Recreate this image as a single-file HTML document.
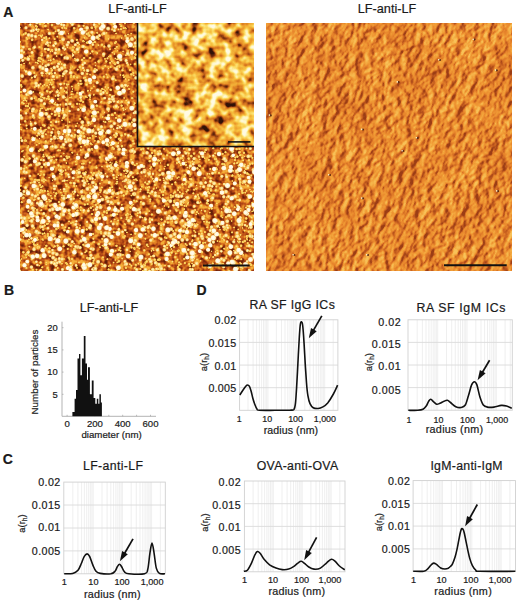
<!DOCTYPE html>
<html><head><meta charset="utf-8"><title>figure</title>
<style>
html,body{margin:0;padding:0;background:#fff;width:520px;height:602px;overflow:hidden}
svg{display:block}
text{font-family:"Liberation Sans",sans-serif;fill:#1a1a1a;stroke:#1a1a1a;stroke-width:0.2px}
</style></head><body>
<svg width="520" height="602" viewBox="0 0 520 602">
<rect width="520" height="602" fill="#fff"/>
<defs>
<filter id="fL" x="0" y="0" width="100%" height="100%" color-interpolation-filters="sRGB">
<feTurbulence type="fractalNoise" baseFrequency="0.2" numOctaves="2" seed="3"/>
<feColorMatrix type="matrix" values="1 0 0 0 0  1 0 0 0 0  1 0 0 0 0  0 0 0 0 1"/>
<feComponentTransfer>
<feFuncR type="table" tableValues="0.392 0.392 0.392 0.392 0.392 0.392 0.392 0.392 0.392 0.392 0.392 0.392 0.412 0.440 0.469 0.497 0.525 0.554 0.588 0.621 0.655 0.689 0.720 0.750 0.780 0.811 0.833 0.853 0.873 0.893 0.908 0.922 0.936 0.950 0.957 0.957 0.957 0.957 0.957 0.957 0.957 0.957 0.957 0.957 0.957 0.957 0.957 0.957"/>
<feFuncG type="table" tableValues="0.118 0.118 0.118 0.118 0.118 0.118 0.118 0.118 0.118 0.118 0.118 0.118 0.127 0.139 0.152 0.165 0.177 0.192 0.213 0.234 0.255 0.276 0.304 0.334 0.365 0.395 0.429 0.463 0.497 0.532 0.566 0.601 0.635 0.670 0.686 0.686 0.686 0.686 0.686 0.686 0.686 0.686 0.686 0.686 0.686 0.686 0.686 0.686"/>
<feFuncB type="table" tableValues="0.039 0.039 0.039 0.039 0.039 0.039 0.039 0.039 0.039 0.039 0.039 0.039 0.042 0.045 0.049 0.052 0.056 0.060 0.066 0.072 0.078 0.085 0.091 0.097 0.103 0.109 0.118 0.128 0.138 0.149 0.166 0.184 0.201 0.219 0.227 0.227 0.227 0.227 0.227 0.227 0.227 0.227 0.227 0.227 0.227 0.227 0.227 0.227"/>
</feComponentTransfer>
</filter>
<filter id="fI" x="0" y="0" width="100%" height="100%" color-interpolation-filters="sRGB">
<feTurbulence type="fractalNoise" baseFrequency="0.12" numOctaves="2" seed="7" result="h"/>
<feColorMatrix in="h" type="matrix" values="1 0 0 0 0  1 0 0 0 0  1 0 0 0 0  0 0 0 0 1" result="hg"/>
<feTurbulence type="fractalNoise" baseFrequency="0.04" numOctaves="1" seed="9" result="l"/>
<feColorMatrix in="l" type="matrix" values="1 0 0 0 0  1 0 0 0 0  1 0 0 0 0  0 0 0 0 1" result="lg"/>
<feComposite in="hg" in2="lg" operator="arithmetic" k1="0" k2="0.85" k3="0.45" k4="-0.15000000000000002"/>
<feComponentTransfer>
<feFuncR type="table" tableValues="0.196 0.196 0.196 0.196 0.196 0.196 0.196 0.196 0.196 0.196 0.214 0.306 0.398 0.491 0.575 0.659 0.743 0.812 0.840 0.869 0.898 0.926 0.937 0.949 0.961 0.970 0.977 0.983 0.988 0.991 0.993 0.996 0.997 0.998 1.000 1.000 1.000 1.000 1.000 1.000 1.000 1.000 1.000 1.000 1.000 1.000 1.000 1.000"/>
<feFuncG type="table" tableValues="0.071 0.071 0.071 0.071 0.071 0.071 0.071 0.071 0.071 0.071 0.078 0.118 0.157 0.196 0.254 0.312 0.370 0.425 0.471 0.517 0.563 0.609 0.649 0.689 0.729 0.768 0.803 0.839 0.873 0.898 0.922 0.947 0.959 0.970 0.981 0.984 0.984 0.984 0.984 0.984 0.984 0.984 0.984 0.984 0.984 0.984 0.984 0.984"/>
<feFuncB type="table" tableValues="0.031 0.031 0.031 0.031 0.031 0.031 0.031 0.031 0.031 0.031 0.033 0.042 0.050 0.059 0.073 0.086 0.100 0.114 0.129 0.143 0.158 0.173 0.194 0.215 0.236 0.266 0.316 0.367 0.421 0.507 0.593 0.679 0.746 0.811 0.876 0.894 0.894 0.894 0.894 0.894 0.894 0.894 0.894 0.894 0.894 0.894 0.894 0.894"/>
</feComponentTransfer>
</filter>
<filter id="fR" x="0" y="0" width="100%" height="100%" color-interpolation-filters="sRGB">
<feTurbulence type="fractalNoise" baseFrequency="0.15 0.12" numOctaves="3" seed="11"/>
<feDiffuseLighting surfaceScale="2.4" diffuseConstant="1" lighting-color="#fff" result="L"><feDistantLight azimuth="165" elevation="50"/></feDiffuseLighting>
<feTurbulence type="fractalNoise" baseFrequency="0.025" numOctaves="2" seed="5" result="N2"/>
<feColorMatrix in="N2" type="matrix" values="1 0 0 0 0  1 0 0 0 0  1 0 0 0 0  0 0 0 0 1" result="G2"/>
<feComposite in="L" in2="G2" operator="arithmetic" k1="0" k2="1" k3="0.25" k4="-0.125"/>
<feComponentTransfer>
<feFuncR type="table" tableValues="0.608 0.608 0.608 0.608 0.608 0.608 0.608 0.608 0.608 0.608 0.608 0.608 0.608 0.608 0.608 0.608 0.608 0.608 0.614 0.635 0.655 0.675 0.696 0.716 0.737 0.757 0.778 0.795 0.811 0.827 0.842 0.858 0.874 0.890 0.905 0.914 0.920 0.926 0.932 0.938 0.944 0.949 0.953 0.958 0.962 0.966 0.970 0.974"/>
<feFuncG type="table" tableValues="0.243 0.243 0.243 0.243 0.243 0.243 0.243 0.243 0.243 0.243 0.243 0.243 0.243 0.243 0.243 0.243 0.243 0.243 0.248 0.263 0.279 0.294 0.310 0.325 0.341 0.356 0.371 0.389 0.408 0.427 0.445 0.464 0.483 0.501 0.520 0.536 0.552 0.567 0.583 0.598 0.613 0.629 0.652 0.674 0.697 0.719 0.741 0.764"/>
<feFuncB type="table" tableValues="0.086 0.086 0.086 0.086 0.086 0.086 0.086 0.086 0.086 0.086 0.086 0.086 0.086 0.086 0.086 0.086 0.086 0.086 0.088 0.092 0.097 0.101 0.106 0.110 0.115 0.119 0.124 0.129 0.135 0.141 0.147 0.153 0.159 0.165 0.171 0.178 0.185 0.192 0.199 0.206 0.213 0.221 0.243 0.264 0.285 0.306 0.328 0.349"/>
</feComponentTransfer>
</filter>
<filter id="pb" x="-5%" y="-5%" width="110%" height="110%"><feGaussianBlur stdDeviation="0.4"/></filter>
<radialGradient id="pgS"><stop offset="0" stop-color="#fce488"/><stop offset="0.6" stop-color="#f7c850"/><stop offset="1" stop-color="#eca032" stop-opacity="0.3"/></radialGradient>
<radialGradient id="pgM"><stop offset="0" stop-color="#fff6d0"/><stop offset="0.6" stop-color="#fbdc80"/><stop offset="1" stop-color="#f0aa40" stop-opacity="0.4"/></radialGradient>
<radialGradient id="pgL"><stop offset="0" stop-color="#fffef6"/><stop offset="0.7" stop-color="#fff6d8"/><stop offset="1" stop-color="#f8d070" stop-opacity="0.6"/></radialGradient>
<clipPath id="cm"><path d="M20,23H137.5V147H254V271H20Z"/></clipPath>
<filter id="pb2" x="-5%" y="-5%" width="110%" height="110%"><feGaussianBlur stdDeviation="0.55"/></filter>
<radialGradient id="pgI"><stop offset="0" stop-color="#fff2a0"/><stop offset="0.7" stop-color="#fbd860"/><stop offset="1" stop-color="#f0b040" stop-opacity="0.2"/></radialGradient>
<radialGradient id="pgJ"><stop offset="0" stop-color="#fffef0"/><stop offset="0.65" stop-color="#fff3c0"/><stop offset="1" stop-color="#f8d070" stop-opacity="0.2"/></radialGradient>
<clipPath id="ci"><rect x="137.5" y="23" width="116.5" height="123.5"/></clipPath>
<linearGradient id="topdark" x1="0" y1="23" x2="0" y2="200" gradientUnits="userSpaceOnUse"><stop offset="0" stop-color="#8c2806" stop-opacity="0"/><stop offset="0.6" stop-color="#8c2806" stop-opacity="0"/><stop offset="1" stop-color="#8c2806" stop-opacity="0"/></linearGradient>
</defs>
<rect x="20" y="23" width="234" height="248" fill="#d98a2e" filter="url(#fL)"/>
<g clip-path="url(#cm)"><rect x="20" y="23" width="234" height="248" fill="url(#topdark)"/><g filter="url(#pb)"><g fill="url(#pgS)">
<circle cx="83.9" cy="77.8" r="1.6"/><circle cx="178.7" cy="245.0" r="1.1"/><circle cx="118.6" cy="29.4" r="1.2"/><circle cx="65.9" cy="184.5" r="1.4"/><circle cx="71.0" cy="169.3" r="1.6"/><circle cx="20.5" cy="223.5" r="1.6"/><circle cx="99.3" cy="60.9" r="1.8"/><circle cx="98.4" cy="45.2" r="1.1"/><circle cx="219.0" cy="172.9" r="1.6"/><circle cx="191.2" cy="156.1" r="1.8"/><circle cx="108.3" cy="160.0" r="1.7"/><circle cx="165.0" cy="237.4" r="1.5"/>
<circle cx="72.8" cy="94.3" r="1.1"/><circle cx="73.9" cy="47.3" r="1.2"/><circle cx="106.4" cy="74.4" r="1.2"/><circle cx="240.1" cy="184.0" r="1.5"/><circle cx="59.4" cy="204.3" r="1.1"/><circle cx="108.6" cy="269.4" r="1.5"/><circle cx="150.4" cy="193.2" r="1.7"/><circle cx="26.6" cy="100.9" r="1.2"/><circle cx="68.8" cy="257.7" r="1.7"/><circle cx="93.3" cy="185.9" r="1.3"/><circle cx="81.5" cy="83.7" r="1.4"/><circle cx="81.0" cy="168.1" r="1.7"/>
<circle cx="113.3" cy="76.8" r="1.8"/><circle cx="30.1" cy="49.4" r="1.5"/><circle cx="34.0" cy="117.4" r="1.8"/><circle cx="143.9" cy="264.8" r="1.7"/><circle cx="21.7" cy="202.2" r="1.5"/><circle cx="121.6" cy="135.4" r="1.8"/><circle cx="234.4" cy="239.6" r="1.2"/><circle cx="169.8" cy="174.2" r="1.1"/><circle cx="199.0" cy="156.8" r="1.6"/><circle cx="95.5" cy="26.9" r="1.7"/><circle cx="226.4" cy="229.9" r="1.2"/><circle cx="32.7" cy="241.5" r="1.8"/>
<circle cx="39.2" cy="143.5" r="1.1"/><circle cx="198.5" cy="213.5" r="1.1"/><circle cx="131.2" cy="159.5" r="1.2"/><circle cx="69.0" cy="156.8" r="1.6"/><circle cx="66.5" cy="99.9" r="1.8"/><circle cx="72.0" cy="106.5" r="1.5"/><circle cx="73.3" cy="77.1" r="1.1"/><circle cx="232.7" cy="236.9" r="1.1"/><circle cx="75.2" cy="189.2" r="1.2"/><circle cx="50.2" cy="255.9" r="1.5"/><circle cx="130.6" cy="218.2" r="1.6"/><circle cx="63.9" cy="46.2" r="1.3"/>
<circle cx="119.0" cy="138.8" r="1.6"/><circle cx="177.9" cy="268.0" r="1.1"/><circle cx="114.0" cy="106.8" r="1.7"/><circle cx="77.7" cy="69.6" r="1.4"/><circle cx="118.6" cy="91.6" r="1.2"/><circle cx="222.3" cy="159.6" r="1.0"/><circle cx="254.8" cy="231.0" r="1.8"/><circle cx="237.6" cy="234.2" r="1.1"/><circle cx="133.6" cy="75.4" r="1.3"/><circle cx="32.8" cy="116.7" r="1.8"/><circle cx="81.6" cy="218.0" r="1.4"/><circle cx="118.8" cy="261.3" r="1.8"/>
<circle cx="150.2" cy="201.6" r="1.1"/><circle cx="89.0" cy="264.2" r="1.5"/><circle cx="147.0" cy="209.0" r="1.0"/><circle cx="62.9" cy="170.8" r="1.5"/><circle cx="74.5" cy="52.0" r="1.7"/><circle cx="77.1" cy="170.6" r="1.5"/><circle cx="117.9" cy="167.9" r="1.4"/><circle cx="112.4" cy="189.9" r="1.2"/><circle cx="93.6" cy="210.0" r="1.1"/><circle cx="127.2" cy="271.6" r="1.8"/><circle cx="36.3" cy="75.3" r="1.2"/><circle cx="239.2" cy="242.2" r="1.7"/>
<circle cx="106.2" cy="61.4" r="1.7"/><circle cx="185.0" cy="174.9" r="1.8"/><circle cx="175.6" cy="256.7" r="1.1"/><circle cx="46.2" cy="48.8" r="1.4"/><circle cx="83.3" cy="173.2" r="1.6"/><circle cx="67.0" cy="180.6" r="1.2"/><circle cx="134.3" cy="248.3" r="1.7"/><circle cx="40.8" cy="127.9" r="1.2"/><circle cx="19.8" cy="214.8" r="1.5"/><circle cx="80.8" cy="207.3" r="1.4"/><circle cx="119.9" cy="24.4" r="1.1"/><circle cx="227.4" cy="248.0" r="1.4"/>
<circle cx="216.0" cy="167.6" r="1.1"/><circle cx="49.1" cy="99.1" r="1.7"/><circle cx="206.9" cy="237.2" r="1.7"/><circle cx="68.6" cy="84.4" r="1.1"/><circle cx="203.1" cy="243.0" r="1.3"/><circle cx="238.5" cy="238.2" r="1.8"/><circle cx="210.3" cy="242.4" r="1.0"/><circle cx="238.7" cy="222.6" r="1.7"/><circle cx="224.8" cy="236.6" r="1.2"/><circle cx="91.0" cy="220.8" r="1.2"/><circle cx="24.6" cy="70.3" r="1.3"/><circle cx="223.0" cy="263.7" r="1.2"/>
<circle cx="250.6" cy="156.1" r="1.8"/><circle cx="46.2" cy="264.6" r="1.1"/><circle cx="44.6" cy="130.6" r="1.6"/><circle cx="93.0" cy="173.6" r="1.4"/><circle cx="109.9" cy="166.1" r="1.2"/><circle cx="237.4" cy="156.6" r="1.6"/><circle cx="194.1" cy="189.7" r="1.3"/><circle cx="35.5" cy="188.1" r="1.3"/><circle cx="93.1" cy="234.0" r="1.6"/><circle cx="89.9" cy="99.3" r="1.3"/><circle cx="114.0" cy="95.9" r="1.1"/><circle cx="118.2" cy="257.1" r="1.5"/>
<circle cx="232.1" cy="175.9" r="1.2"/><circle cx="86.7" cy="129.5" r="1.5"/><circle cx="123.3" cy="75.4" r="1.4"/><circle cx="231.7" cy="221.0" r="1.1"/><circle cx="39.0" cy="150.9" r="1.5"/><circle cx="98.1" cy="226.6" r="1.6"/><circle cx="66.0" cy="28.1" r="1.2"/><circle cx="131.1" cy="234.4" r="1.1"/><circle cx="116.8" cy="179.4" r="1.2"/><circle cx="76.6" cy="186.0" r="1.0"/><circle cx="196.2" cy="214.5" r="1.1"/><circle cx="119.3" cy="66.0" r="1.8"/>
<circle cx="77.8" cy="234.1" r="1.4"/><circle cx="208.1" cy="188.9" r="1.8"/><circle cx="159.5" cy="259.5" r="1.7"/><circle cx="163.6" cy="201.8" r="1.4"/><circle cx="215.0" cy="159.0" r="1.7"/><circle cx="80.2" cy="83.8" r="1.5"/><circle cx="199.7" cy="152.3" r="1.5"/><circle cx="83.8" cy="41.4" r="1.2"/><circle cx="83.1" cy="101.9" r="1.4"/><circle cx="51.7" cy="79.8" r="1.6"/><circle cx="115.2" cy="157.7" r="1.3"/><circle cx="67.8" cy="127.0" r="1.7"/>
<circle cx="156.8" cy="195.9" r="1.7"/><circle cx="20.4" cy="109.9" r="1.6"/><circle cx="220.4" cy="260.4" r="1.3"/><circle cx="195.4" cy="158.5" r="1.5"/><circle cx="71.0" cy="76.9" r="1.3"/><circle cx="25.8" cy="106.0" r="1.5"/><circle cx="114.4" cy="63.3" r="1.4"/><circle cx="49.1" cy="177.6" r="1.0"/><circle cx="112.0" cy="163.1" r="1.0"/><circle cx="128.0" cy="34.6" r="1.3"/><circle cx="69.0" cy="103.7" r="1.6"/><circle cx="108.5" cy="210.0" r="1.7"/>
<circle cx="78.5" cy="42.5" r="1.0"/><circle cx="146.3" cy="272.0" r="1.3"/><circle cx="172.4" cy="217.3" r="1.5"/><circle cx="197.0" cy="259.4" r="1.2"/><circle cx="23.8" cy="60.1" r="1.1"/><circle cx="177.0" cy="163.0" r="1.2"/><circle cx="184.1" cy="213.7" r="1.1"/><circle cx="162.3" cy="209.0" r="1.1"/><circle cx="212.4" cy="263.2" r="1.1"/><circle cx="25.1" cy="100.0" r="1.5"/><circle cx="182.0" cy="178.8" r="1.1"/><circle cx="201.3" cy="234.6" r="1.5"/>
<circle cx="47.6" cy="268.0" r="1.6"/><circle cx="100.9" cy="129.1" r="1.3"/><circle cx="219.5" cy="227.6" r="1.1"/><circle cx="245.7" cy="180.9" r="1.7"/><circle cx="192.2" cy="263.4" r="1.2"/><circle cx="209.7" cy="156.5" r="1.4"/><circle cx="121.8" cy="204.8" r="1.2"/><circle cx="220.0" cy="229.7" r="1.1"/><circle cx="128.7" cy="174.6" r="1.3"/><circle cx="25.8" cy="234.7" r="1.1"/><circle cx="69.1" cy="221.5" r="1.3"/><circle cx="226.8" cy="197.3" r="1.2"/>
<circle cx="21.4" cy="259.0" r="1.1"/><circle cx="197.9" cy="194.7" r="1.5"/><circle cx="134.8" cy="220.2" r="1.1"/><circle cx="71.3" cy="194.9" r="1.2"/><circle cx="78.3" cy="52.2" r="1.2"/><circle cx="47.2" cy="156.0" r="1.6"/><circle cx="62.7" cy="76.1" r="1.4"/><circle cx="190.0" cy="266.2" r="1.4"/><circle cx="85.8" cy="47.1" r="1.2"/><circle cx="72.7" cy="66.9" r="1.0"/><circle cx="248.9" cy="160.3" r="1.6"/><circle cx="48.8" cy="239.1" r="1.4"/>
<circle cx="225.0" cy="165.5" r="1.4"/><circle cx="123.0" cy="68.1" r="1.0"/><circle cx="36.5" cy="179.4" r="1.0"/><circle cx="54.2" cy="162.7" r="1.2"/><circle cx="199.4" cy="173.6" r="1.6"/><circle cx="72.3" cy="152.6" r="1.4"/><circle cx="123.5" cy="237.0" r="1.8"/><circle cx="91.1" cy="177.3" r="1.5"/><circle cx="193.7" cy="258.9" r="1.2"/><circle cx="68.8" cy="187.1" r="1.1"/><circle cx="60.0" cy="40.8" r="1.0"/><circle cx="125.3" cy="170.5" r="1.2"/>
<circle cx="73.6" cy="198.7" r="1.6"/><circle cx="126.2" cy="193.8" r="1.7"/><circle cx="204.9" cy="178.3" r="1.5"/><circle cx="147.5" cy="183.9" r="1.7"/><circle cx="58.2" cy="98.9" r="1.6"/><circle cx="48.3" cy="194.2" r="1.6"/><circle cx="135.5" cy="42.1" r="1.0"/><circle cx="121.0" cy="102.6" r="1.2"/><circle cx="40.6" cy="262.5" r="1.7"/><circle cx="154.7" cy="259.7" r="1.8"/><circle cx="28.5" cy="211.1" r="1.4"/><circle cx="172.8" cy="251.0" r="1.1"/>
<circle cx="157.1" cy="180.7" r="1.4"/><circle cx="40.5" cy="109.0" r="1.3"/><circle cx="177.2" cy="236.4" r="1.3"/><circle cx="242.1" cy="225.4" r="1.4"/><circle cx="126.3" cy="100.6" r="1.3"/><circle cx="140.4" cy="269.0" r="1.5"/><circle cx="63.3" cy="112.4" r="1.6"/><circle cx="166.6" cy="212.0" r="1.2"/><circle cx="148.6" cy="253.9" r="1.4"/><circle cx="248.7" cy="174.2" r="1.2"/><circle cx="56.4" cy="159.7" r="1.4"/><circle cx="41.0" cy="270.1" r="1.7"/>
<circle cx="127.9" cy="51.4" r="1.7"/><circle cx="136.6" cy="201.2" r="1.4"/><circle cx="83.5" cy="230.7" r="1.8"/><circle cx="76.5" cy="159.8" r="1.3"/><circle cx="236.6" cy="149.1" r="1.7"/><circle cx="239.5" cy="148.9" r="1.7"/><circle cx="85.8" cy="96.6" r="1.5"/><circle cx="54.1" cy="156.6" r="1.3"/><circle cx="149.3" cy="157.9" r="1.4"/><circle cx="94.9" cy="69.2" r="1.6"/><circle cx="194.8" cy="198.3" r="1.6"/><circle cx="110.1" cy="187.9" r="1.7"/>
<circle cx="27.7" cy="147.6" r="1.5"/><circle cx="224.2" cy="240.5" r="1.4"/><circle cx="129.8" cy="264.3" r="1.3"/><circle cx="182.5" cy="184.5" r="1.7"/><circle cx="220.2" cy="236.8" r="1.3"/><circle cx="93.7" cy="201.7" r="1.6"/><circle cx="35.1" cy="179.8" r="1.7"/><circle cx="254.4" cy="208.7" r="1.3"/><circle cx="42.2" cy="180.4" r="1.7"/><circle cx="123.7" cy="195.5" r="1.7"/><circle cx="29.9" cy="221.0" r="1.2"/><circle cx="107.5" cy="58.4" r="1.4"/>
<circle cx="152.6" cy="220.1" r="1.1"/><circle cx="37.6" cy="239.7" r="1.5"/><circle cx="75.8" cy="250.2" r="1.1"/><circle cx="127.8" cy="85.5" r="1.2"/><circle cx="21.2" cy="223.2" r="1.7"/><circle cx="123.2" cy="108.4" r="1.5"/><circle cx="78.0" cy="233.3" r="1.2"/><circle cx="109.8" cy="142.8" r="1.2"/><circle cx="154.0" cy="165.7" r="1.8"/><circle cx="88.7" cy="266.5" r="1.5"/><circle cx="83.8" cy="163.5" r="1.5"/><circle cx="207.5" cy="173.8" r="1.3"/>
<circle cx="169.2" cy="177.2" r="1.5"/><circle cx="189.1" cy="186.8" r="1.7"/><circle cx="167.3" cy="247.9" r="1.5"/><circle cx="91.9" cy="132.2" r="1.5"/><circle cx="88.6" cy="208.9" r="1.1"/><circle cx="50.2" cy="156.9" r="1.8"/><circle cx="144.3" cy="250.4" r="1.7"/><circle cx="79.6" cy="228.2" r="1.4"/><circle cx="209.3" cy="208.6" r="1.3"/><circle cx="46.2" cy="262.7" r="1.1"/><circle cx="247.1" cy="237.0" r="1.6"/><circle cx="250.3" cy="263.8" r="1.6"/>
<circle cx="105.3" cy="219.7" r="1.0"/><circle cx="177.8" cy="190.1" r="1.5"/><circle cx="213.1" cy="257.1" r="1.1"/><circle cx="74.2" cy="28.3" r="1.7"/><circle cx="151.5" cy="250.8" r="1.2"/><circle cx="33.9" cy="228.0" r="1.7"/><circle cx="90.3" cy="124.1" r="1.1"/><circle cx="135.3" cy="46.3" r="1.7"/><circle cx="51.0" cy="135.4" r="1.5"/><circle cx="194.4" cy="258.5" r="1.3"/><circle cx="116.9" cy="46.8" r="1.4"/><circle cx="115.3" cy="259.9" r="1.0"/>
<circle cx="106.4" cy="132.8" r="1.8"/><circle cx="180.8" cy="158.1" r="1.8"/><circle cx="103.6" cy="121.5" r="1.2"/><circle cx="47.8" cy="234.0" r="1.4"/><circle cx="175.4" cy="182.4" r="1.5"/><circle cx="24.0" cy="218.7" r="1.2"/><circle cx="48.7" cy="163.1" r="1.1"/><circle cx="70.0" cy="239.4" r="1.3"/><circle cx="53.8" cy="247.1" r="1.0"/><circle cx="49.7" cy="84.7" r="1.1"/><circle cx="22.5" cy="219.5" r="1.2"/><circle cx="95.4" cy="65.6" r="1.0"/>
<circle cx="194.0" cy="153.5" r="1.6"/><circle cx="131.4" cy="216.5" r="1.4"/><circle cx="44.7" cy="148.0" r="1.8"/><circle cx="29.2" cy="217.8" r="1.7"/><circle cx="132.0" cy="122.4" r="1.5"/><circle cx="134.7" cy="249.4" r="1.1"/><circle cx="38.1" cy="174.1" r="1.1"/><circle cx="83.9" cy="180.3" r="1.4"/><circle cx="95.7" cy="270.7" r="1.4"/><circle cx="126.1" cy="173.4" r="1.1"/><circle cx="184.6" cy="235.2" r="1.5"/><circle cx="200.5" cy="202.2" r="1.2"/>
<circle cx="125.6" cy="79.1" r="1.3"/><circle cx="126.0" cy="126.0" r="1.1"/><circle cx="119.7" cy="188.3" r="1.3"/><circle cx="55.0" cy="252.7" r="1.1"/><circle cx="41.8" cy="206.7" r="1.6"/><circle cx="150.3" cy="168.6" r="1.4"/><circle cx="96.8" cy="52.6" r="1.3"/><circle cx="176.0" cy="209.6" r="1.7"/><circle cx="189.2" cy="264.1" r="1.5"/><circle cx="102.0" cy="166.5" r="1.2"/><circle cx="44.5" cy="233.3" r="1.3"/><circle cx="199.0" cy="165.5" r="1.6"/>
<circle cx="218.5" cy="265.6" r="1.7"/><circle cx="163.8" cy="182.7" r="1.0"/><circle cx="238.3" cy="229.4" r="1.2"/><circle cx="61.6" cy="197.7" r="1.2"/><circle cx="99.2" cy="23.5" r="1.7"/><circle cx="52.5" cy="180.3" r="1.0"/><circle cx="118.1" cy="107.2" r="1.3"/><circle cx="189.3" cy="216.2" r="1.5"/><circle cx="39.0" cy="35.2" r="1.1"/><circle cx="164.8" cy="190.5" r="1.2"/><circle cx="123.3" cy="90.3" r="1.6"/><circle cx="45.9" cy="129.5" r="1.2"/>
<circle cx="112.3" cy="171.8" r="1.0"/><circle cx="90.1" cy="74.8" r="1.1"/><circle cx="79.3" cy="104.0" r="1.0"/><circle cx="108.7" cy="197.9" r="1.4"/><circle cx="215.7" cy="223.6" r="1.1"/><circle cx="23.4" cy="252.3" r="1.7"/><circle cx="154.9" cy="165.3" r="1.6"/><circle cx="117.6" cy="50.8" r="1.0"/><circle cx="95.6" cy="222.3" r="1.5"/><circle cx="215.4" cy="251.9" r="1.1"/><circle cx="158.0" cy="153.0" r="1.3"/><circle cx="92.2" cy="106.9" r="1.3"/>
<circle cx="58.7" cy="149.6" r="1.1"/><circle cx="139.3" cy="248.5" r="1.3"/><circle cx="190.7" cy="226.7" r="1.7"/><circle cx="74.8" cy="58.6" r="1.2"/><circle cx="161.2" cy="212.1" r="1.5"/><circle cx="60.8" cy="215.2" r="1.4"/><circle cx="197.0" cy="212.0" r="1.4"/><circle cx="237.1" cy="163.1" r="1.5"/><circle cx="166.4" cy="238.1" r="1.5"/><circle cx="54.6" cy="39.1" r="1.4"/><circle cx="90.5" cy="90.7" r="1.0"/><circle cx="125.7" cy="36.2" r="1.7"/>
<circle cx="37.1" cy="238.1" r="1.7"/><circle cx="164.1" cy="148.8" r="1.4"/><circle cx="149.8" cy="220.0" r="1.7"/><circle cx="125.1" cy="224.5" r="1.5"/><circle cx="94.9" cy="140.9" r="1.1"/><circle cx="33.6" cy="47.9" r="1.7"/><circle cx="100.1" cy="200.6" r="1.4"/><circle cx="59.7" cy="83.9" r="1.4"/><circle cx="122.7" cy="152.7" r="1.1"/><circle cx="107.0" cy="92.7" r="1.3"/><circle cx="98.9" cy="171.5" r="1.6"/><circle cx="41.3" cy="191.6" r="1.2"/>
<circle cx="189.8" cy="186.1" r="1.7"/><circle cx="101.6" cy="263.9" r="1.6"/><circle cx="111.5" cy="170.8" r="1.8"/><circle cx="92.1" cy="116.2" r="1.6"/><circle cx="210.9" cy="189.5" r="1.7"/><circle cx="193.4" cy="193.4" r="1.4"/><circle cx="104.4" cy="112.6" r="1.1"/><circle cx="69.5" cy="258.9" r="1.4"/><circle cx="72.5" cy="56.4" r="1.1"/><circle cx="200.9" cy="230.8" r="1.7"/><circle cx="27.9" cy="106.2" r="1.6"/><circle cx="49.9" cy="116.2" r="1.1"/>
<circle cx="215.2" cy="214.8" r="1.6"/><circle cx="58.1" cy="131.4" r="1.3"/><circle cx="123.8" cy="93.2" r="1.6"/><circle cx="124.9" cy="155.5" r="1.2"/><circle cx="242.5" cy="268.1" r="1.4"/><circle cx="85.5" cy="117.5" r="1.4"/><circle cx="247.0" cy="226.2" r="1.6"/><circle cx="51.7" cy="84.5" r="1.5"/><circle cx="225.3" cy="160.6" r="1.1"/><circle cx="218.6" cy="234.8" r="1.2"/><circle cx="122.2" cy="258.6" r="1.2"/><circle cx="125.5" cy="109.4" r="1.0"/>
<circle cx="31.6" cy="147.5" r="1.2"/><circle cx="25.7" cy="254.7" r="1.7"/><circle cx="172.4" cy="219.8" r="1.1"/><circle cx="86.7" cy="229.4" r="1.6"/><circle cx="51.8" cy="198.4" r="1.4"/><circle cx="20.2" cy="41.8" r="1.2"/><circle cx="216.1" cy="159.2" r="1.6"/><circle cx="87.0" cy="97.3" r="1.0"/><circle cx="118.1" cy="220.5" r="1.4"/><circle cx="45.2" cy="248.3" r="1.5"/><circle cx="22.9" cy="150.8" r="1.2"/><circle cx="52.9" cy="129.3" r="1.5"/>
<circle cx="75.8" cy="126.1" r="1.5"/><circle cx="39.2" cy="265.7" r="1.1"/><circle cx="143.2" cy="148.8" r="1.8"/><circle cx="130.0" cy="180.9" r="1.8"/><circle cx="78.9" cy="26.1" r="1.6"/><circle cx="100.4" cy="205.2" r="1.5"/><circle cx="201.1" cy="205.8" r="1.3"/><circle cx="29.5" cy="158.5" r="1.7"/><circle cx="60.3" cy="216.8" r="1.4"/><circle cx="183.1" cy="179.9" r="1.6"/><circle cx="33.9" cy="216.0" r="1.4"/><circle cx="88.3" cy="33.0" r="1.2"/>
<circle cx="28.9" cy="255.3" r="1.4"/><circle cx="252.4" cy="157.8" r="1.2"/><circle cx="103.2" cy="217.2" r="1.7"/><circle cx="97.3" cy="53.1" r="1.3"/><circle cx="228.9" cy="207.8" r="1.7"/><circle cx="110.2" cy="265.4" r="1.4"/><circle cx="136.4" cy="253.1" r="1.4"/><circle cx="208.1" cy="203.8" r="1.1"/><circle cx="161.2" cy="227.6" r="1.4"/><circle cx="94.8" cy="42.0" r="1.5"/><circle cx="91.3" cy="172.7" r="1.3"/><circle cx="29.0" cy="239.5" r="1.3"/>
<circle cx="250.3" cy="259.0" r="1.1"/><circle cx="208.1" cy="191.9" r="1.8"/><circle cx="52.7" cy="173.9" r="1.6"/><circle cx="27.2" cy="38.8" r="1.6"/><circle cx="105.5" cy="117.7" r="1.5"/><circle cx="161.8" cy="191.8" r="1.8"/><circle cx="106.8" cy="212.8" r="1.5"/><circle cx="45.8" cy="205.9" r="1.4"/><circle cx="110.3" cy="162.4" r="1.2"/><circle cx="80.4" cy="133.6" r="1.8"/><circle cx="86.4" cy="251.1" r="1.4"/><circle cx="47.9" cy="235.2" r="1.4"/>
<circle cx="39.7" cy="192.5" r="1.7"/><circle cx="94.4" cy="108.9" r="1.1"/><circle cx="147.0" cy="244.8" r="1.7"/><circle cx="187.0" cy="253.8" r="1.5"/><circle cx="206.3" cy="149.2" r="1.1"/><circle cx="66.4" cy="56.7" r="1.6"/><circle cx="25.2" cy="160.5" r="1.3"/><circle cx="208.7" cy="159.9" r="1.5"/><circle cx="39.3" cy="99.3" r="1.8"/><circle cx="188.7" cy="153.4" r="1.6"/><circle cx="248.5" cy="182.6" r="1.4"/><circle cx="226.2" cy="217.1" r="1.5"/>
<circle cx="61.9" cy="263.6" r="1.3"/><circle cx="48.3" cy="60.3" r="1.1"/><circle cx="95.1" cy="199.3" r="1.3"/><circle cx="241.1" cy="245.7" r="1.7"/><circle cx="78.1" cy="180.8" r="1.4"/><circle cx="48.5" cy="97.7" r="1.4"/><circle cx="174.5" cy="202.2" r="1.5"/><circle cx="217.8" cy="162.9" r="1.7"/><circle cx="25.7" cy="33.4" r="1.5"/><circle cx="155.1" cy="184.8" r="1.6"/><circle cx="117.3" cy="181.7" r="1.4"/><circle cx="208.9" cy="193.2" r="1.2"/>
<circle cx="36.2" cy="37.0" r="1.4"/><circle cx="133.3" cy="73.0" r="1.5"/><circle cx="92.8" cy="201.6" r="1.6"/><circle cx="222.1" cy="265.8" r="1.1"/><circle cx="106.4" cy="162.4" r="1.3"/><circle cx="129.1" cy="88.9" r="1.2"/><circle cx="41.8" cy="94.6" r="1.3"/><circle cx="96.3" cy="166.4" r="1.3"/><circle cx="91.8" cy="27.8" r="1.8"/><circle cx="138.3" cy="263.7" r="1.2"/><circle cx="102.3" cy="34.6" r="1.4"/><circle cx="227.2" cy="185.6" r="1.4"/>
<circle cx="145.7" cy="233.8" r="1.3"/><circle cx="227.3" cy="203.9" r="1.6"/><circle cx="105.4" cy="122.1" r="1.5"/><circle cx="64.9" cy="160.3" r="1.1"/><circle cx="138.0" cy="213.1" r="1.2"/><circle cx="252.4" cy="192.1" r="1.1"/><circle cx="240.6" cy="210.7" r="1.2"/><circle cx="29.7" cy="56.3" r="1.3"/><circle cx="130.8" cy="136.2" r="1.5"/><circle cx="252.8" cy="206.8" r="1.2"/><circle cx="98.4" cy="229.1" r="1.4"/><circle cx="178.0" cy="267.0" r="1.5"/>
<circle cx="207.0" cy="203.3" r="1.6"/><circle cx="25.3" cy="140.6" r="1.8"/><circle cx="203.8" cy="216.0" r="1.5"/><circle cx="189.3" cy="167.9" r="1.1"/><circle cx="167.4" cy="176.9" r="1.7"/><circle cx="53.9" cy="192.2" r="1.0"/><circle cx="23.5" cy="100.4" r="1.1"/><circle cx="201.9" cy="252.1" r="1.7"/><circle cx="51.6" cy="73.8" r="1.3"/><circle cx="175.3" cy="153.4" r="1.3"/><circle cx="59.9" cy="250.0" r="1.3"/><circle cx="102.6" cy="215.0" r="1.6"/>
<circle cx="170.8" cy="195.3" r="1.5"/><circle cx="64.4" cy="83.6" r="1.4"/><circle cx="72.1" cy="265.2" r="1.2"/><circle cx="87.2" cy="73.8" r="1.6"/><circle cx="93.8" cy="109.2" r="1.7"/><circle cx="47.8" cy="191.2" r="1.3"/><circle cx="250.3" cy="226.6" r="1.8"/><circle cx="86.9" cy="200.5" r="1.3"/><circle cx="123.4" cy="86.1" r="1.4"/><circle cx="66.7" cy="156.6" r="1.7"/><circle cx="164.3" cy="168.7" r="1.2"/><circle cx="177.1" cy="154.8" r="1.5"/>
<circle cx="31.4" cy="125.3" r="1.6"/><circle cx="42.7" cy="214.7" r="1.0"/><circle cx="148.9" cy="254.3" r="1.3"/><circle cx="239.7" cy="241.6" r="1.4"/><circle cx="66.1" cy="263.0" r="1.3"/><circle cx="171.4" cy="249.0" r="1.1"/><circle cx="154.5" cy="155.8" r="1.6"/><circle cx="240.1" cy="250.3" r="1.1"/><circle cx="236.0" cy="271.3" r="1.3"/><circle cx="135.9" cy="256.2" r="1.8"/><circle cx="237.5" cy="241.2" r="1.0"/><circle cx="252.4" cy="157.8" r="1.4"/>
<circle cx="240.5" cy="234.8" r="1.4"/><circle cx="64.5" cy="50.2" r="1.1"/><circle cx="127.3" cy="86.3" r="1.1"/><circle cx="192.8" cy="219.7" r="1.5"/><circle cx="221.1" cy="246.3" r="1.7"/><circle cx="52.2" cy="102.9" r="1.2"/><circle cx="80.5" cy="80.9" r="1.6"/><circle cx="173.3" cy="195.2" r="1.0"/><circle cx="46.9" cy="98.7" r="1.3"/><circle cx="137.6" cy="245.8" r="1.6"/><circle cx="92.4" cy="51.4" r="1.7"/><circle cx="88.6" cy="175.7" r="1.2"/>
<circle cx="50.5" cy="60.3" r="1.6"/><circle cx="145.9" cy="188.0" r="1.2"/><circle cx="77.4" cy="210.7" r="1.7"/><circle cx="38.3" cy="133.7" r="1.6"/><circle cx="37.4" cy="163.0" r="1.0"/><circle cx="148.2" cy="148.4" r="1.5"/><circle cx="54.4" cy="104.0" r="1.4"/><circle cx="46.4" cy="73.4" r="1.5"/><circle cx="40.5" cy="149.6" r="1.6"/><circle cx="126.0" cy="150.3" r="1.4"/><circle cx="32.6" cy="137.6" r="1.6"/><circle cx="211.7" cy="208.5" r="1.5"/>
<circle cx="29.7" cy="108.1" r="1.1"/><circle cx="253.6" cy="255.6" r="1.1"/><circle cx="115.5" cy="214.2" r="1.6"/><circle cx="249.9" cy="183.5" r="1.3"/><circle cx="224.2" cy="248.7" r="1.3"/><circle cx="180.1" cy="187.4" r="1.4"/><circle cx="61.1" cy="156.3" r="1.4"/><circle cx="19.8" cy="27.7" r="1.2"/><circle cx="177.9" cy="158.1" r="1.4"/><circle cx="100.7" cy="90.9" r="1.7"/><circle cx="199.8" cy="242.9" r="1.0"/><circle cx="67.6" cy="47.2" r="1.0"/>
<circle cx="160.1" cy="197.8" r="1.0"/><circle cx="74.3" cy="76.3" r="1.7"/><circle cx="32.3" cy="148.0" r="1.2"/><circle cx="211.5" cy="204.9" r="1.3"/><circle cx="160.1" cy="190.1" r="1.3"/><circle cx="90.2" cy="57.8" r="1.5"/><circle cx="71.2" cy="97.1" r="1.0"/><circle cx="242.9" cy="241.9" r="1.7"/><circle cx="136.0" cy="265.1" r="1.8"/><circle cx="177.4" cy="218.5" r="1.3"/><circle cx="117.3" cy="59.3" r="1.3"/><circle cx="186.0" cy="223.4" r="1.7"/>
<circle cx="151.7" cy="263.9" r="1.4"/><circle cx="50.6" cy="82.7" r="1.2"/><circle cx="171.6" cy="252.6" r="1.7"/><circle cx="40.8" cy="203.1" r="1.2"/><circle cx="82.4" cy="190.4" r="1.5"/><circle cx="198.8" cy="203.1" r="1.4"/><circle cx="132.1" cy="239.4" r="1.3"/><circle cx="240.2" cy="262.5" r="1.1"/><circle cx="76.3" cy="173.1" r="1.2"/><circle cx="235.0" cy="160.0" r="1.6"/><circle cx="108.8" cy="155.4" r="1.3"/><circle cx="80.7" cy="150.2" r="1.4"/>
<circle cx="42.3" cy="267.3" r="1.4"/><circle cx="217.2" cy="250.6" r="1.3"/><circle cx="116.7" cy="162.6" r="1.2"/><circle cx="53.4" cy="87.2" r="1.7"/><circle cx="55.0" cy="104.5" r="1.3"/><circle cx="173.5" cy="193.2" r="1.2"/><circle cx="212.9" cy="263.6" r="1.5"/><circle cx="134.8" cy="64.1" r="1.6"/><circle cx="58.9" cy="202.1" r="1.4"/><circle cx="235.4" cy="157.5" r="1.5"/><circle cx="32.9" cy="30.5" r="1.7"/><circle cx="242.1" cy="189.1" r="1.6"/>
<circle cx="116.3" cy="232.6" r="1.2"/><circle cx="164.8" cy="188.7" r="1.5"/><circle cx="133.0" cy="144.0" r="1.0"/><circle cx="210.9" cy="190.5" r="1.6"/><circle cx="41.7" cy="59.2" r="1.2"/><circle cx="143.2" cy="225.8" r="1.2"/><circle cx="112.7" cy="115.3" r="1.3"/><circle cx="152.3" cy="269.6" r="1.2"/><circle cx="180.4" cy="234.0" r="1.5"/><circle cx="221.5" cy="211.9" r="1.1"/><circle cx="108.5" cy="160.2" r="1.0"/><circle cx="21.2" cy="64.8" r="1.4"/>
<circle cx="121.4" cy="218.1" r="1.5"/><circle cx="68.9" cy="239.0" r="1.7"/><circle cx="131.2" cy="33.6" r="1.1"/><circle cx="237.4" cy="246.8" r="1.5"/><circle cx="26.8" cy="254.2" r="1.3"/><circle cx="245.9" cy="168.8" r="1.6"/><circle cx="37.2" cy="62.6" r="1.2"/><circle cx="252.3" cy="203.0" r="1.4"/><circle cx="122.2" cy="231.7" r="1.3"/><circle cx="200.5" cy="260.7" r="1.3"/><circle cx="83.5" cy="270.1" r="1.4"/><circle cx="103.0" cy="257.3" r="1.3"/>
<circle cx="179.4" cy="187.2" r="1.1"/><circle cx="165.0" cy="221.5" r="1.6"/><circle cx="38.4" cy="60.6" r="1.6"/><circle cx="168.6" cy="206.9" r="1.3"/><circle cx="44.1" cy="23.3" r="1.2"/><circle cx="103.9" cy="89.4" r="1.1"/><circle cx="63.2" cy="134.2" r="1.4"/><circle cx="115.3" cy="28.6" r="1.3"/><circle cx="41.0" cy="171.5" r="1.3"/><circle cx="109.9" cy="95.0" r="1.3"/><circle cx="39.0" cy="247.3" r="1.7"/><circle cx="249.8" cy="165.0" r="1.1"/>
<circle cx="108.9" cy="56.7" r="1.2"/><circle cx="135.4" cy="37.8" r="1.3"/><circle cx="118.4" cy="143.1" r="1.1"/><circle cx="78.4" cy="83.6" r="1.5"/><circle cx="44.2" cy="98.2" r="1.8"/><circle cx="97.4" cy="177.0" r="1.6"/><circle cx="96.8" cy="105.7" r="1.7"/><circle cx="221.8" cy="265.6" r="1.1"/><circle cx="94.7" cy="258.8" r="1.2"/><circle cx="93.1" cy="263.1" r="1.8"/><circle cx="87.8" cy="195.7" r="1.4"/><circle cx="107.7" cy="226.1" r="1.3"/>
<circle cx="45.9" cy="163.0" r="1.5"/><circle cx="147.8" cy="192.4" r="1.4"/><circle cx="87.8" cy="195.2" r="1.7"/><circle cx="136.8" cy="180.3" r="1.2"/><circle cx="174.4" cy="200.8" r="1.6"/><circle cx="36.5" cy="269.7" r="1.4"/><circle cx="113.6" cy="148.7" r="1.7"/><circle cx="182.2" cy="157.9" r="1.6"/><circle cx="103.8" cy="245.9" r="1.4"/><circle cx="200.5" cy="186.4" r="1.3"/><circle cx="251.1" cy="191.4" r="1.3"/><circle cx="196.6" cy="263.4" r="1.3"/>
<circle cx="21.5" cy="86.7" r="1.4"/><circle cx="141.4" cy="167.1" r="1.5"/><circle cx="124.2" cy="119.8" r="1.6"/><circle cx="100.4" cy="28.1" r="1.1"/><circle cx="117.2" cy="262.4" r="1.1"/><circle cx="92.6" cy="135.8" r="1.2"/><circle cx="133.0" cy="141.0" r="1.4"/><circle cx="89.9" cy="224.5" r="1.1"/><circle cx="219.4" cy="184.0" r="1.5"/><circle cx="57.8" cy="268.0" r="1.2"/><circle cx="60.2" cy="62.0" r="1.4"/><circle cx="114.6" cy="68.1" r="1.5"/>
<circle cx="121.0" cy="29.3" r="1.5"/><circle cx="65.6" cy="170.1" r="1.3"/><circle cx="196.5" cy="224.2" r="1.1"/><circle cx="43.0" cy="240.0" r="1.1"/><circle cx="95.9" cy="136.4" r="1.2"/><circle cx="222.6" cy="153.9" r="1.5"/><circle cx="159.9" cy="174.8" r="1.5"/><circle cx="101.1" cy="233.4" r="1.5"/><circle cx="211.0" cy="198.5" r="1.2"/><circle cx="50.6" cy="51.5" r="1.2"/><circle cx="62.2" cy="195.4" r="1.4"/><circle cx="117.7" cy="56.5" r="1.3"/>
<circle cx="62.8" cy="180.9" r="1.6"/><circle cx="171.3" cy="272.0" r="1.4"/><circle cx="134.6" cy="57.1" r="1.3"/><circle cx="125.4" cy="35.4" r="1.3"/><circle cx="21.3" cy="56.1" r="1.7"/><circle cx="246.5" cy="148.4" r="1.4"/><circle cx="38.5" cy="29.7" r="1.6"/><circle cx="87.9" cy="90.7" r="1.4"/><circle cx="58.7" cy="136.3" r="1.6"/><circle cx="199.8" cy="159.4" r="1.1"/><circle cx="46.0" cy="215.8" r="1.7"/><circle cx="105.6" cy="227.7" r="1.0"/>
<circle cx="188.7" cy="158.6" r="1.8"/><circle cx="43.2" cy="229.5" r="1.6"/><circle cx="89.3" cy="271.8" r="1.4"/><circle cx="101.3" cy="226.2" r="1.4"/><circle cx="253.6" cy="215.9" r="1.2"/><circle cx="210.3" cy="169.0" r="1.3"/><circle cx="186.7" cy="180.2" r="1.1"/><circle cx="51.9" cy="73.7" r="1.2"/><circle cx="33.0" cy="109.7" r="1.2"/><circle cx="82.1" cy="236.5" r="1.8"/><circle cx="246.2" cy="218.4" r="1.7"/><circle cx="253.2" cy="238.8" r="1.1"/>
<circle cx="186.9" cy="229.1" r="1.6"/><circle cx="116.8" cy="135.0" r="1.5"/><circle cx="19.6" cy="215.5" r="1.6"/><circle cx="33.9" cy="155.6" r="1.2"/><circle cx="120.4" cy="75.0" r="1.2"/><circle cx="155.4" cy="163.5" r="1.4"/><circle cx="100.1" cy="192.6" r="1.0"/><circle cx="42.5" cy="218.0" r="1.4"/><circle cx="48.3" cy="236.4" r="1.4"/><circle cx="19.2" cy="261.5" r="1.2"/><circle cx="106.8" cy="248.0" r="1.1"/><circle cx="112.5" cy="98.4" r="1.6"/>
<circle cx="74.3" cy="185.9" r="1.6"/><circle cx="19.3" cy="141.2" r="1.1"/><circle cx="72.4" cy="192.0" r="1.0"/><circle cx="183.2" cy="226.3" r="1.8"/><circle cx="118.7" cy="55.0" r="1.1"/><circle cx="109.4" cy="204.7" r="1.1"/><circle cx="93.0" cy="242.2" r="1.1"/><circle cx="201.5" cy="210.3" r="1.1"/><circle cx="189.5" cy="179.0" r="1.1"/><circle cx="116.2" cy="193.6" r="1.7"/><circle cx="39.5" cy="47.1" r="1.6"/><circle cx="52.0" cy="91.2" r="1.1"/>
<circle cx="149.6" cy="172.0" r="1.5"/><circle cx="202.8" cy="194.6" r="1.7"/><circle cx="141.2" cy="149.4" r="1.6"/><circle cx="88.7" cy="35.6" r="1.7"/><circle cx="45.6" cy="146.9" r="1.5"/><circle cx="143.7" cy="266.4" r="1.8"/><circle cx="222.2" cy="164.1" r="1.3"/><circle cx="180.2" cy="212.7" r="1.8"/><circle cx="34.9" cy="87.5" r="1.0"/><circle cx="33.3" cy="219.3" r="1.4"/><circle cx="117.0" cy="197.5" r="1.1"/><circle cx="145.6" cy="176.0" r="1.2"/>
<circle cx="92.1" cy="149.8" r="1.2"/><circle cx="209.7" cy="156.1" r="1.3"/><circle cx="168.7" cy="230.6" r="1.5"/><circle cx="34.6" cy="196.7" r="1.6"/><circle cx="39.3" cy="130.6" r="1.4"/><circle cx="194.0" cy="207.2" r="1.1"/><circle cx="186.1" cy="197.4" r="1.1"/><circle cx="243.9" cy="152.8" r="1.6"/><circle cx="49.0" cy="217.3" r="1.2"/><circle cx="228.2" cy="214.9" r="1.0"/><circle cx="34.1" cy="200.1" r="1.5"/><circle cx="37.2" cy="135.8" r="1.3"/>
<circle cx="136.9" cy="163.7" r="1.3"/><circle cx="79.2" cy="47.7" r="1.5"/><circle cx="130.3" cy="117.7" r="1.1"/><circle cx="238.8" cy="236.4" r="1.4"/><circle cx="234.7" cy="207.2" r="1.3"/><circle cx="94.9" cy="126.1" r="1.6"/><circle cx="83.0" cy="41.5" r="1.3"/><circle cx="137.5" cy="247.5" r="1.1"/><circle cx="208.8" cy="267.4" r="1.8"/><circle cx="35.3" cy="138.3" r="1.2"/><circle cx="66.4" cy="163.0" r="1.2"/><circle cx="231.5" cy="212.1" r="1.2"/>
<circle cx="20.5" cy="124.5" r="1.2"/><circle cx="100.8" cy="231.9" r="1.7"/><circle cx="174.1" cy="234.3" r="1.6"/><circle cx="43.5" cy="154.5" r="1.2"/><circle cx="135.1" cy="37.0" r="1.8"/><circle cx="236.4" cy="246.3" r="1.4"/><circle cx="41.6" cy="55.4" r="1.7"/><circle cx="36.7" cy="164.0" r="1.3"/><circle cx="80.6" cy="100.8" r="1.6"/><circle cx="184.4" cy="205.8" r="1.3"/><circle cx="83.2" cy="40.7" r="1.2"/><circle cx="203.1" cy="168.2" r="1.1"/>
<circle cx="57.8" cy="138.5" r="1.3"/><circle cx="145.5" cy="263.2" r="1.2"/><circle cx="91.8" cy="88.3" r="1.1"/><circle cx="56.2" cy="193.5" r="1.7"/><circle cx="40.5" cy="84.1" r="1.3"/><circle cx="140.2" cy="191.3" r="1.2"/><circle cx="114.4" cy="135.1" r="1.6"/><circle cx="78.0" cy="137.5" r="1.6"/><circle cx="52.0" cy="25.0" r="1.7"/><circle cx="167.8" cy="183.2" r="1.5"/><circle cx="80.1" cy="225.2" r="1.0"/><circle cx="34.2" cy="247.6" r="1.4"/>
<circle cx="49.4" cy="248.3" r="1.7"/><circle cx="97.2" cy="32.7" r="1.4"/><circle cx="58.6" cy="165.5" r="1.7"/><circle cx="112.2" cy="29.4" r="1.5"/><circle cx="59.8" cy="75.7" r="1.1"/><circle cx="85.0" cy="242.9" r="1.0"/><circle cx="88.6" cy="125.0" r="1.4"/><circle cx="33.4" cy="91.9" r="1.1"/><circle cx="66.1" cy="243.2" r="1.4"/><circle cx="167.9" cy="222.5" r="1.6"/><circle cx="252.5" cy="217.5" r="1.3"/><circle cx="110.7" cy="67.0" r="1.3"/>
<circle cx="70.7" cy="245.9" r="1.6"/><circle cx="32.8" cy="269.9" r="1.4"/><circle cx="200.0" cy="271.9" r="1.8"/><circle cx="42.6" cy="186.2" r="1.2"/><circle cx="211.6" cy="251.3" r="1.0"/><circle cx="218.8" cy="221.3" r="1.3"/><circle cx="217.1" cy="233.3" r="1.1"/><circle cx="158.8" cy="223.6" r="1.6"/><circle cx="184.3" cy="258.9" r="1.5"/><circle cx="252.2" cy="242.4" r="1.4"/><circle cx="91.9" cy="144.6" r="1.1"/><circle cx="73.9" cy="76.7" r="1.4"/>
<circle cx="19.2" cy="251.5" r="1.2"/><circle cx="49.8" cy="201.2" r="1.7"/><circle cx="24.2" cy="168.7" r="1.7"/><circle cx="201.8" cy="233.6" r="1.7"/><circle cx="42.8" cy="97.4" r="1.1"/><circle cx="56.2" cy="259.2" r="1.6"/><circle cx="245.7" cy="184.3" r="1.1"/><circle cx="247.6" cy="195.4" r="1.7"/><circle cx="91.4" cy="194.1" r="1.1"/><circle cx="191.0" cy="259.2" r="1.8"/><circle cx="111.4" cy="270.6" r="1.8"/><circle cx="26.6" cy="172.6" r="1.7"/>
<circle cx="152.5" cy="256.2" r="1.1"/><circle cx="186.3" cy="181.8" r="1.7"/><circle cx="124.4" cy="88.3" r="1.2"/><circle cx="35.0" cy="86.2" r="1.1"/><circle cx="19.3" cy="118.5" r="1.6"/><circle cx="247.7" cy="243.1" r="1.4"/><circle cx="108.4" cy="158.5" r="1.1"/><circle cx="132.2" cy="238.0" r="1.5"/><circle cx="36.4" cy="233.4" r="1.2"/><circle cx="94.2" cy="259.9" r="1.1"/><circle cx="59.1" cy="115.9" r="1.6"/><circle cx="148.1" cy="246.5" r="1.1"/>
<circle cx="159.2" cy="175.4" r="1.4"/><circle cx="26.3" cy="257.6" r="1.1"/><circle cx="42.9" cy="73.4" r="1.2"/><circle cx="183.5" cy="202.5" r="1.6"/><circle cx="81.6" cy="92.4" r="1.2"/><circle cx="30.7" cy="164.9" r="1.7"/><circle cx="55.2" cy="112.2" r="1.3"/><circle cx="88.5" cy="187.5" r="1.5"/><circle cx="66.1" cy="28.4" r="1.1"/><circle cx="87.9" cy="42.5" r="1.7"/><circle cx="91.8" cy="121.4" r="1.4"/><circle cx="124.2" cy="87.8" r="1.4"/>
<circle cx="72.4" cy="89.1" r="1.0"/><circle cx="196.5" cy="188.9" r="1.1"/><circle cx="100.1" cy="157.4" r="1.8"/><circle cx="158.2" cy="160.4" r="1.7"/><circle cx="145.4" cy="238.7" r="1.4"/><circle cx="37.6" cy="247.7" r="1.6"/><circle cx="137.5" cy="247.1" r="1.6"/><circle cx="178.9" cy="177.1" r="1.1"/><circle cx="251.3" cy="265.0" r="1.6"/><circle cx="48.8" cy="127.8" r="1.8"/><circle cx="121.8" cy="271.3" r="1.5"/><circle cx="233.9" cy="250.5" r="1.1"/>
<circle cx="110.6" cy="121.3" r="1.3"/><circle cx="84.2" cy="136.5" r="1.7"/><circle cx="204.6" cy="177.8" r="1.4"/><circle cx="118.0" cy="125.6" r="1.1"/><circle cx="157.8" cy="211.6" r="1.8"/><circle cx="237.3" cy="162.7" r="1.1"/><circle cx="86.5" cy="155.9" r="1.3"/><circle cx="116.0" cy="117.8" r="1.4"/><circle cx="84.0" cy="58.0" r="1.5"/><circle cx="75.1" cy="208.4" r="1.7"/><circle cx="85.2" cy="144.9" r="1.6"/><circle cx="42.2" cy="239.2" r="1.1"/>
<circle cx="117.4" cy="183.4" r="1.2"/><circle cx="68.9" cy="228.0" r="1.6"/><circle cx="198.2" cy="238.8" r="1.7"/><circle cx="92.4" cy="148.7" r="1.1"/><circle cx="219.9" cy="241.8" r="1.0"/><circle cx="64.5" cy="230.2" r="1.7"/><circle cx="77.9" cy="136.1" r="1.7"/><circle cx="213.3" cy="148.3" r="1.5"/><circle cx="48.2" cy="29.6" r="1.3"/><circle cx="224.4" cy="168.7" r="1.3"/><circle cx="57.6" cy="245.6" r="1.6"/><circle cx="110.2" cy="62.7" r="1.5"/>
<circle cx="246.7" cy="236.3" r="1.5"/><circle cx="115.6" cy="27.0" r="1.6"/><circle cx="234.1" cy="183.8" r="1.5"/><circle cx="21.0" cy="85.1" r="1.6"/><circle cx="91.1" cy="263.8" r="1.5"/><circle cx="119.0" cy="116.1" r="1.3"/><circle cx="78.5" cy="138.7" r="1.5"/><circle cx="43.1" cy="149.9" r="1.5"/><circle cx="171.8" cy="174.3" r="1.2"/><circle cx="44.5" cy="38.0" r="1.8"/><circle cx="170.2" cy="237.4" r="1.2"/><circle cx="186.8" cy="245.1" r="1.2"/>
<circle cx="54.4" cy="213.4" r="1.7"/><circle cx="209.1" cy="222.6" r="1.5"/><circle cx="174.9" cy="192.2" r="1.6"/><circle cx="173.7" cy="271.4" r="1.2"/><circle cx="117.8" cy="119.1" r="1.0"/><circle cx="186.1" cy="165.0" r="1.2"/><circle cx="145.2" cy="218.2" r="1.7"/><circle cx="177.6" cy="148.8" r="1.7"/><circle cx="217.4" cy="241.1" r="1.1"/><circle cx="42.0" cy="54.0" r="1.2"/><circle cx="209.8" cy="212.7" r="1.1"/><circle cx="40.1" cy="110.8" r="1.6"/>
<circle cx="91.5" cy="219.0" r="1.3"/><circle cx="80.5" cy="95.5" r="1.7"/><circle cx="130.0" cy="238.6" r="1.5"/><circle cx="89.4" cy="35.5" r="1.7"/><circle cx="51.4" cy="72.1" r="1.3"/><circle cx="153.4" cy="248.7" r="1.4"/><circle cx="93.7" cy="200.9" r="1.6"/><circle cx="134.1" cy="179.8" r="1.1"/><circle cx="83.6" cy="212.3" r="1.1"/><circle cx="164.0" cy="180.4" r="1.3"/><circle cx="27.9" cy="71.9" r="1.3"/><circle cx="22.3" cy="102.6" r="1.7"/>
<circle cx="64.0" cy="191.2" r="1.5"/><circle cx="77.7" cy="195.4" r="1.3"/><circle cx="49.4" cy="117.9" r="1.5"/><circle cx="58.4" cy="228.0" r="1.2"/><circle cx="87.6" cy="204.0" r="1.5"/><circle cx="98.7" cy="244.0" r="1.8"/><circle cx="99.9" cy="247.3" r="1.3"/><circle cx="63.5" cy="259.0" r="1.7"/><circle cx="114.2" cy="79.1" r="1.6"/><circle cx="50.0" cy="205.5" r="1.5"/><circle cx="58.9" cy="113.6" r="1.5"/><circle cx="27.8" cy="241.1" r="1.2"/>
<circle cx="253.7" cy="187.5" r="1.5"/><circle cx="23.7" cy="194.4" r="1.3"/><circle cx="108.7" cy="158.8" r="1.4"/><circle cx="55.1" cy="195.8" r="1.5"/><circle cx="90.1" cy="187.4" r="1.5"/><circle cx="82.7" cy="173.4" r="1.1"/><circle cx="45.9" cy="48.6" r="1.2"/><circle cx="66.1" cy="87.7" r="1.4"/><circle cx="66.6" cy="197.9" r="1.2"/><circle cx="28.3" cy="146.1" r="1.2"/><circle cx="19.6" cy="189.9" r="1.7"/><circle cx="216.1" cy="189.3" r="1.1"/>
<circle cx="40.3" cy="149.9" r="1.6"/><circle cx="42.9" cy="86.0" r="1.2"/><circle cx="128.6" cy="47.0" r="1.1"/><circle cx="28.3" cy="94.6" r="1.6"/><circle cx="92.8" cy="206.6" r="1.1"/><circle cx="220.1" cy="187.8" r="1.1"/><circle cx="103.4" cy="131.4" r="1.5"/><circle cx="113.6" cy="262.6" r="1.2"/><circle cx="110.0" cy="234.7" r="1.6"/><circle cx="172.1" cy="221.2" r="1.1"/><circle cx="117.2" cy="169.7" r="1.6"/><circle cx="108.6" cy="111.6" r="1.0"/>
<circle cx="180.5" cy="231.6" r="1.8"/><circle cx="49.8" cy="252.1" r="1.1"/><circle cx="116.1" cy="33.5" r="1.2"/><circle cx="93.2" cy="198.1" r="1.5"/><circle cx="200.1" cy="166.2" r="1.5"/><circle cx="249.8" cy="189.5" r="1.3"/><circle cx="142.5" cy="197.1" r="1.1"/><circle cx="100.6" cy="191.1" r="1.3"/><circle cx="217.0" cy="161.6" r="1.8"/><circle cx="31.9" cy="182.8" r="1.1"/><circle cx="219.3" cy="235.0" r="1.7"/><circle cx="36.7" cy="144.9" r="1.2"/>
<circle cx="71.6" cy="182.8" r="1.3"/><circle cx="74.5" cy="136.8" r="1.6"/><circle cx="124.8" cy="236.1" r="1.4"/><circle cx="47.0" cy="146.3" r="1.5"/><circle cx="43.2" cy="125.1" r="1.4"/><circle cx="19.0" cy="44.7" r="1.5"/><circle cx="177.5" cy="259.6" r="1.3"/><circle cx="31.8" cy="77.7" r="1.4"/><circle cx="151.2" cy="176.9" r="1.4"/><circle cx="174.1" cy="201.0" r="1.1"/><circle cx="99.6" cy="229.5" r="1.8"/><circle cx="87.9" cy="152.5" r="1.6"/>
<circle cx="29.8" cy="63.0" r="1.1"/><circle cx="188.2" cy="202.4" r="1.1"/><circle cx="126.9" cy="217.4" r="1.6"/><circle cx="44.4" cy="125.6" r="1.7"/><circle cx="216.6" cy="169.2" r="1.6"/><circle cx="125.3" cy="186.6" r="1.8"/><circle cx="50.8" cy="146.7" r="1.4"/><circle cx="30.5" cy="255.8" r="1.7"/><circle cx="133.0" cy="149.1" r="1.7"/><circle cx="60.8" cy="166.6" r="1.6"/><circle cx="49.3" cy="118.9" r="1.5"/><circle cx="227.3" cy="148.0" r="1.3"/>
<circle cx="250.2" cy="251.0" r="1.6"/><circle cx="83.6" cy="262.9" r="1.8"/><circle cx="125.9" cy="55.3" r="1.3"/><circle cx="184.2" cy="209.1" r="1.2"/><circle cx="184.6" cy="237.2" r="1.6"/><circle cx="239.8" cy="180.1" r="1.2"/><circle cx="100.5" cy="190.1" r="1.8"/><circle cx="172.4" cy="261.6" r="1.4"/><circle cx="46.2" cy="110.1" r="1.4"/><circle cx="153.7" cy="188.8" r="1.3"/><circle cx="195.5" cy="232.3" r="1.2"/><circle cx="219.0" cy="224.1" r="1.4"/>
<circle cx="25.0" cy="58.3" r="1.5"/><circle cx="66.2" cy="209.5" r="1.1"/><circle cx="86.6" cy="84.6" r="1.7"/><circle cx="223.9" cy="206.9" r="1.7"/><circle cx="194.2" cy="162.3" r="1.2"/><circle cx="204.1" cy="221.7" r="1.2"/><circle cx="175.8" cy="253.6" r="1.3"/><circle cx="244.8" cy="266.0" r="1.3"/><circle cx="78.3" cy="177.1" r="1.6"/><circle cx="224.3" cy="229.5" r="1.7"/><circle cx="185.3" cy="183.9" r="1.6"/><circle cx="148.0" cy="172.8" r="1.6"/>
<circle cx="60.9" cy="192.7" r="1.1"/><circle cx="60.0" cy="150.5" r="1.3"/><circle cx="120.1" cy="161.1" r="1.1"/><circle cx="97.0" cy="199.4" r="1.1"/><circle cx="55.3" cy="102.7" r="1.0"/><circle cx="239.0" cy="175.9" r="1.5"/><circle cx="134.8" cy="165.2" r="1.3"/><circle cx="70.9" cy="68.0" r="1.1"/><circle cx="71.2" cy="75.3" r="1.3"/><circle cx="104.1" cy="76.6" r="1.6"/><circle cx="144.2" cy="271.2" r="1.7"/><circle cx="232.5" cy="175.4" r="1.5"/>
<circle cx="245.3" cy="192.6" r="1.3"/><circle cx="235.2" cy="258.2" r="1.3"/><circle cx="234.1" cy="227.5" r="1.3"/><circle cx="29.3" cy="246.6" r="1.2"/><circle cx="140.3" cy="259.1" r="1.1"/><circle cx="244.7" cy="156.5" r="1.0"/><circle cx="34.5" cy="189.6" r="1.6"/><circle cx="43.5" cy="156.4" r="1.6"/><circle cx="249.4" cy="215.8" r="1.5"/><circle cx="240.8" cy="208.7" r="1.1"/><circle cx="127.4" cy="104.9" r="1.1"/><circle cx="31.8" cy="220.6" r="1.4"/>
<circle cx="80.0" cy="119.0" r="1.5"/><circle cx="121.2" cy="26.2" r="1.5"/><circle cx="145.2" cy="182.4" r="1.5"/><circle cx="197.4" cy="168.4" r="1.6"/><circle cx="36.1" cy="254.0" r="1.1"/><circle cx="39.4" cy="213.3" r="1.4"/><circle cx="112.2" cy="187.2" r="1.4"/><circle cx="111.3" cy="221.4" r="1.4"/><circle cx="178.8" cy="250.5" r="1.6"/><circle cx="243.1" cy="160.4" r="1.4"/><circle cx="48.1" cy="23.3" r="1.5"/><circle cx="145.8" cy="258.7" r="1.2"/>
<circle cx="195.6" cy="247.9" r="1.3"/><circle cx="116.4" cy="183.5" r="1.4"/><circle cx="57.0" cy="77.2" r="1.7"/><circle cx="64.9" cy="67.3" r="1.6"/><circle cx="220.1" cy="234.8" r="1.7"/><circle cx="34.9" cy="46.6" r="1.6"/><circle cx="134.0" cy="104.7" r="1.1"/><circle cx="165.2" cy="247.0" r="1.3"/><circle cx="125.4" cy="176.1" r="1.2"/><circle cx="156.9" cy="163.4" r="1.3"/><circle cx="93.7" cy="129.1" r="1.0"/><circle cx="77.1" cy="77.4" r="1.6"/>
<circle cx="121.9" cy="232.0" r="1.1"/><circle cx="192.0" cy="241.5" r="1.4"/><circle cx="103.7" cy="98.4" r="1.4"/><circle cx="60.5" cy="173.7" r="1.7"/><circle cx="36.8" cy="26.7" r="1.4"/><circle cx="26.4" cy="167.5" r="1.3"/><circle cx="158.2" cy="248.6" r="1.4"/><circle cx="147.3" cy="271.7" r="1.4"/><circle cx="71.7" cy="215.0" r="1.6"/><circle cx="87.7" cy="138.2" r="1.4"/><circle cx="112.6" cy="147.5" r="1.5"/><circle cx="219.1" cy="223.6" r="1.5"/>
<circle cx="58.1" cy="150.5" r="1.4"/><circle cx="61.3" cy="259.2" r="1.5"/><circle cx="247.4" cy="206.0" r="1.4"/><circle cx="103.7" cy="76.7" r="1.4"/><circle cx="33.8" cy="114.4" r="1.0"/><circle cx="67.8" cy="248.9" r="1.3"/><circle cx="129.8" cy="135.7" r="1.0"/><circle cx="185.1" cy="152.3" r="1.7"/><circle cx="173.2" cy="230.9" r="1.4"/><circle cx="107.8" cy="248.8" r="1.4"/><circle cx="102.3" cy="238.9" r="1.4"/><circle cx="132.8" cy="173.1" r="1.4"/>
<circle cx="51.8" cy="63.4" r="1.1"/><circle cx="63.1" cy="112.6" r="1.6"/><circle cx="46.9" cy="79.6" r="1.6"/><circle cx="132.0" cy="74.7" r="1.1"/><circle cx="29.2" cy="165.4" r="1.1"/><circle cx="79.9" cy="67.0" r="1.8"/><circle cx="160.4" cy="162.9" r="1.0"/><circle cx="188.8" cy="187.4" r="1.2"/><circle cx="39.2" cy="134.3" r="1.8"/><circle cx="215.0" cy="172.2" r="1.6"/><circle cx="126.0" cy="169.6" r="1.2"/><circle cx="110.0" cy="49.1" r="1.2"/>
<circle cx="221.9" cy="148.1" r="1.3"/><circle cx="54.3" cy="46.1" r="1.4"/><circle cx="46.7" cy="142.6" r="1.1"/><circle cx="161.4" cy="228.9" r="1.7"/><circle cx="201.9" cy="184.3" r="1.4"/><circle cx="106.4" cy="32.9" r="1.4"/><circle cx="73.2" cy="222.6" r="1.6"/><circle cx="109.0" cy="169.3" r="1.6"/><circle cx="198.7" cy="196.2" r="1.1"/><circle cx="50.6" cy="141.3" r="1.2"/><circle cx="63.6" cy="199.3" r="1.6"/><circle cx="20.7" cy="185.6" r="1.6"/>
<circle cx="93.6" cy="112.6" r="1.1"/><circle cx="105.3" cy="90.9" r="1.5"/><circle cx="106.4" cy="160.7" r="1.2"/><circle cx="91.4" cy="108.1" r="1.6"/><circle cx="192.6" cy="235.7" r="1.5"/><circle cx="69.6" cy="122.1" r="1.3"/><circle cx="148.9" cy="196.3" r="1.6"/><circle cx="56.9" cy="263.1" r="1.0"/><circle cx="40.5" cy="58.3" r="1.7"/><circle cx="121.7" cy="38.0" r="1.2"/><circle cx="37.9" cy="31.4" r="1.3"/><circle cx="251.3" cy="175.5" r="1.4"/>
<circle cx="186.9" cy="171.4" r="1.8"/><circle cx="212.6" cy="182.1" r="1.4"/><circle cx="66.6" cy="186.2" r="1.6"/><circle cx="86.5" cy="30.4" r="1.5"/><circle cx="59.0" cy="31.0" r="1.2"/><circle cx="19.1" cy="61.4" r="1.8"/><circle cx="112.3" cy="168.5" r="1.4"/><circle cx="40.3" cy="93.1" r="1.7"/><circle cx="238.4" cy="165.7" r="1.2"/><circle cx="115.1" cy="48.6" r="1.1"/><circle cx="88.4" cy="258.8" r="1.6"/><circle cx="244.8" cy="241.0" r="1.7"/>
<circle cx="154.7" cy="195.5" r="1.8"/><circle cx="151.9" cy="214.5" r="1.6"/><circle cx="127.7" cy="168.7" r="1.0"/><circle cx="46.4" cy="38.9" r="1.5"/><circle cx="253.6" cy="191.2" r="1.2"/><circle cx="93.5" cy="260.9" r="1.4"/><circle cx="21.3" cy="230.0" r="1.2"/><circle cx="41.0" cy="190.4" r="1.7"/><circle cx="36.9" cy="254.8" r="1.4"/><circle cx="102.4" cy="245.6" r="1.2"/><circle cx="242.5" cy="192.8" r="1.7"/><circle cx="192.6" cy="240.2" r="1.2"/>
<circle cx="66.9" cy="84.4" r="1.5"/><circle cx="55.8" cy="48.7" r="1.7"/><circle cx="178.5" cy="187.9" r="1.5"/><circle cx="199.4" cy="157.4" r="1.0"/><circle cx="132.8" cy="177.2" r="1.4"/><circle cx="251.5" cy="246.2" r="1.7"/><circle cx="134.8" cy="268.1" r="1.7"/><circle cx="85.1" cy="77.5" r="1.5"/><circle cx="31.8" cy="221.8" r="1.4"/><circle cx="111.9" cy="193.6" r="1.1"/><circle cx="249.5" cy="196.6" r="1.4"/><circle cx="68.7" cy="167.3" r="1.3"/>
<circle cx="130.2" cy="175.3" r="1.3"/><circle cx="61.5" cy="54.8" r="1.5"/><circle cx="72.9" cy="47.0" r="1.2"/><circle cx="74.7" cy="130.1" r="1.3"/><circle cx="53.4" cy="261.8" r="1.1"/><circle cx="136.9" cy="270.9" r="1.7"/><circle cx="141.0" cy="202.1" r="1.6"/><circle cx="89.8" cy="162.5" r="1.5"/><circle cx="113.0" cy="194.6" r="1.0"/><circle cx="98.0" cy="112.2" r="1.4"/><circle cx="23.7" cy="52.3" r="1.7"/><circle cx="154.9" cy="184.3" r="1.1"/>
<circle cx="192.8" cy="244.4" r="1.3"/><circle cx="86.6" cy="179.9" r="1.1"/><circle cx="58.5" cy="223.9" r="1.3"/><circle cx="168.0" cy="164.9" r="1.7"/><circle cx="35.8" cy="62.5" r="1.2"/><circle cx="93.8" cy="94.8" r="1.2"/><circle cx="124.0" cy="237.7" r="1.3"/><circle cx="157.5" cy="263.4" r="1.3"/><circle cx="62.4" cy="27.8" r="1.6"/><circle cx="175.2" cy="257.1" r="1.6"/><circle cx="37.9" cy="63.7" r="1.1"/><circle cx="34.1" cy="241.7" r="1.4"/>
<circle cx="25.2" cy="121.3" r="1.6"/><circle cx="38.6" cy="87.6" r="1.1"/><circle cx="173.5" cy="243.4" r="1.2"/><circle cx="77.4" cy="93.0" r="1.5"/><circle cx="50.0" cy="231.6" r="1.0"/><circle cx="175.6" cy="237.1" r="1.3"/><circle cx="131.4" cy="265.7" r="1.4"/><circle cx="83.3" cy="133.2" r="1.8"/><circle cx="160.0" cy="179.8" r="1.5"/><circle cx="152.1" cy="152.9" r="1.5"/><circle cx="92.1" cy="108.8" r="1.4"/><circle cx="105.3" cy="87.0" r="1.2"/>
<circle cx="19.0" cy="225.8" r="1.7"/><circle cx="100.2" cy="139.3" r="1.0"/><circle cx="236.6" cy="258.7" r="1.4"/><circle cx="21.2" cy="129.6" r="1.2"/><circle cx="73.6" cy="23.8" r="1.3"/><circle cx="116.2" cy="162.1" r="1.3"/><circle cx="57.5" cy="206.3" r="1.3"/><circle cx="108.3" cy="87.7" r="1.3"/><circle cx="75.5" cy="213.1" r="1.7"/><circle cx="209.6" cy="193.2" r="1.2"/><circle cx="194.3" cy="224.2" r="1.3"/><circle cx="87.3" cy="181.2" r="1.5"/>
<circle cx="83.2" cy="177.7" r="1.2"/><circle cx="23.6" cy="34.4" r="1.4"/><circle cx="62.9" cy="47.6" r="1.2"/><circle cx="187.8" cy="203.8" r="1.2"/><circle cx="54.6" cy="145.4" r="1.3"/><circle cx="92.5" cy="221.9" r="1.8"/><circle cx="128.4" cy="219.9" r="1.3"/><circle cx="218.1" cy="259.9" r="1.0"/><circle cx="130.0" cy="70.0" r="1.7"/><circle cx="211.9" cy="229.1" r="1.1"/><circle cx="127.8" cy="214.7" r="1.4"/><circle cx="95.2" cy="179.3" r="1.0"/>
<circle cx="240.2" cy="152.2" r="1.2"/><circle cx="228.5" cy="237.9" r="1.2"/><circle cx="45.7" cy="180.2" r="1.3"/><circle cx="58.5" cy="91.0" r="1.1"/><circle cx="28.9" cy="217.9" r="1.4"/><circle cx="40.1" cy="61.4" r="1.1"/><circle cx="165.0" cy="254.7" r="1.8"/><circle cx="171.1" cy="197.3" r="1.6"/><circle cx="48.7" cy="80.2" r="1.8"/><circle cx="205.1" cy="211.2" r="1.6"/><circle cx="122.5" cy="70.2" r="1.6"/><circle cx="103.5" cy="55.7" r="1.7"/>
<circle cx="133.5" cy="131.4" r="1.2"/><circle cx="63.0" cy="108.9" r="1.6"/><circle cx="84.0" cy="229.8" r="1.7"/><circle cx="55.6" cy="95.9" r="1.2"/><circle cx="105.6" cy="22.2" r="1.5"/><circle cx="108.5" cy="68.4" r="1.0"/><circle cx="221.2" cy="216.0" r="1.2"/><circle cx="189.2" cy="186.6" r="1.4"/><circle cx="110.4" cy="153.0" r="1.4"/><circle cx="149.1" cy="175.3" r="1.3"/><circle cx="133.5" cy="46.7" r="1.5"/><circle cx="216.4" cy="186.5" r="1.4"/>
<circle cx="105.5" cy="173.5" r="1.1"/><circle cx="135.0" cy="244.4" r="1.1"/><circle cx="150.7" cy="256.6" r="1.3"/><circle cx="106.1" cy="199.1" r="1.7"/><circle cx="81.7" cy="32.2" r="1.1"/><circle cx="90.7" cy="258.2" r="1.8"/><circle cx="41.9" cy="203.3" r="1.4"/><circle cx="63.7" cy="153.5" r="1.2"/><circle cx="43.9" cy="181.7" r="1.3"/><circle cx="127.3" cy="188.3" r="1.7"/><circle cx="58.4" cy="67.1" r="1.3"/><circle cx="98.7" cy="61.5" r="1.8"/>
<circle cx="123.6" cy="110.1" r="1.3"/><circle cx="106.7" cy="213.0" r="1.3"/><circle cx="190.3" cy="174.1" r="1.5"/><circle cx="69.5" cy="213.4" r="1.7"/><circle cx="79.0" cy="262.4" r="1.4"/><circle cx="112.7" cy="203.6" r="1.8"/><circle cx="159.6" cy="151.4" r="1.8"/><circle cx="90.2" cy="97.1" r="1.2"/><circle cx="213.0" cy="194.4" r="1.2"/><circle cx="149.7" cy="161.1" r="1.7"/><circle cx="55.5" cy="31.4" r="1.3"/><circle cx="51.7" cy="113.8" r="1.5"/>
<circle cx="74.0" cy="224.8" r="1.1"/><circle cx="113.4" cy="251.5" r="1.6"/><circle cx="189.8" cy="220.2" r="1.1"/><circle cx="213.9" cy="194.4" r="1.5"/><circle cx="233.2" cy="170.8" r="1.2"/><circle cx="191.5" cy="166.1" r="1.1"/><circle cx="32.2" cy="214.7" r="1.3"/><circle cx="223.8" cy="239.4" r="1.2"/><circle cx="173.1" cy="172.6" r="1.0"/><circle cx="90.9" cy="32.3" r="1.4"/><circle cx="54.3" cy="147.6" r="1.2"/><circle cx="30.9" cy="204.9" r="1.3"/>
<circle cx="124.2" cy="170.8" r="1.4"/><circle cx="71.4" cy="94.4" r="1.3"/><circle cx="50.2" cy="42.6" r="1.5"/><circle cx="30.6" cy="121.8" r="1.1"/><circle cx="137.4" cy="215.5" r="1.1"/><circle cx="50.8" cy="161.8" r="1.4"/><circle cx="164.4" cy="205.9" r="1.2"/><circle cx="35.9" cy="216.2" r="1.3"/><circle cx="101.2" cy="102.2" r="1.5"/><circle cx="24.7" cy="98.2" r="1.8"/><circle cx="164.4" cy="269.5" r="1.4"/><circle cx="53.4" cy="33.2" r="1.7"/>
<circle cx="66.1" cy="115.5" r="1.6"/><circle cx="31.9" cy="259.2" r="1.7"/><circle cx="224.0" cy="227.0" r="1.0"/><circle cx="125.2" cy="27.7" r="1.2"/><circle cx="133.0" cy="204.5" r="1.1"/><circle cx="156.6" cy="187.9" r="1.0"/><circle cx="59.2" cy="93.0" r="1.6"/><circle cx="110.7" cy="89.8" r="1.7"/><circle cx="174.8" cy="238.1" r="1.0"/><circle cx="223.7" cy="184.4" r="1.2"/><circle cx="108.8" cy="266.2" r="1.1"/><circle cx="93.4" cy="238.7" r="1.4"/>
<circle cx="63.0" cy="147.2" r="1.4"/><circle cx="77.4" cy="154.4" r="1.3"/><circle cx="111.8" cy="61.3" r="1.3"/><circle cx="102.1" cy="178.3" r="1.2"/><circle cx="210.6" cy="178.4" r="1.7"/><circle cx="229.1" cy="225.7" r="1.0"/><circle cx="54.8" cy="246.3" r="1.5"/><circle cx="39.7" cy="117.6" r="1.8"/><circle cx="163.5" cy="178.4" r="1.2"/><circle cx="75.7" cy="60.2" r="1.8"/><circle cx="51.7" cy="157.3" r="1.6"/><circle cx="185.4" cy="153.0" r="1.1"/>
<circle cx="254.0" cy="265.9" r="1.1"/><circle cx="239.2" cy="251.3" r="1.3"/><circle cx="150.5" cy="259.2" r="1.1"/><circle cx="94.0" cy="241.9" r="1.6"/><circle cx="199.6" cy="242.0" r="1.3"/><circle cx="116.1" cy="132.8" r="1.7"/><circle cx="230.0" cy="255.3" r="1.2"/><circle cx="62.6" cy="212.6" r="1.5"/><circle cx="82.0" cy="163.8" r="1.2"/><circle cx="73.8" cy="193.8" r="1.3"/><circle cx="137.5" cy="173.2" r="1.6"/><circle cx="107.3" cy="235.0" r="1.4"/>
<circle cx="51.5" cy="70.3" r="1.0"/><circle cx="82.7" cy="125.3" r="1.6"/><circle cx="252.2" cy="211.4" r="1.1"/><circle cx="237.8" cy="268.4" r="1.7"/><circle cx="134.6" cy="103.2" r="1.4"/><circle cx="77.2" cy="123.2" r="1.0"/><circle cx="92.8" cy="174.9" r="1.6"/><circle cx="159.1" cy="153.3" r="1.7"/><circle cx="204.7" cy="152.2" r="1.4"/><circle cx="254.0" cy="151.7" r="1.3"/><circle cx="192.5" cy="161.4" r="1.4"/><circle cx="87.7" cy="121.5" r="1.2"/>
<circle cx="118.7" cy="175.3" r="1.0"/><circle cx="202.8" cy="256.5" r="1.6"/><circle cx="50.9" cy="125.4" r="1.4"/><circle cx="61.2" cy="169.6" r="1.6"/><circle cx="66.7" cy="135.7" r="1.2"/><circle cx="182.2" cy="248.8" r="1.6"/><circle cx="45.9" cy="134.3" r="1.3"/><circle cx="205.7" cy="149.9" r="1.8"/><circle cx="108.4" cy="117.2" r="1.6"/><circle cx="234.3" cy="163.4" r="1.5"/><circle cx="54.4" cy="239.2" r="1.1"/><circle cx="92.0" cy="214.2" r="1.4"/>
<circle cx="50.1" cy="72.7" r="1.5"/><circle cx="78.7" cy="136.7" r="1.7"/><circle cx="115.8" cy="41.9" r="1.5"/><circle cx="76.8" cy="158.8" r="1.5"/><circle cx="150.6" cy="228.3" r="1.0"/><circle cx="54.0" cy="185.3" r="1.0"/><circle cx="220.5" cy="188.7" r="1.7"/><circle cx="89.4" cy="252.1" r="1.0"/><circle cx="117.4" cy="66.6" r="1.5"/><circle cx="163.2" cy="194.9" r="1.5"/><circle cx="126.5" cy="166.7" r="1.7"/><circle cx="41.0" cy="96.8" r="1.3"/>
<circle cx="108.4" cy="38.9" r="1.3"/><circle cx="50.8" cy="195.7" r="1.2"/><circle cx="143.4" cy="153.2" r="1.6"/><circle cx="191.2" cy="179.2" r="1.8"/><circle cx="133.1" cy="194.2" r="1.7"/><circle cx="143.0" cy="270.8" r="1.3"/><circle cx="49.6" cy="162.7" r="1.4"/><circle cx="61.5" cy="174.4" r="1.6"/><circle cx="24.7" cy="178.4" r="1.1"/><circle cx="219.1" cy="221.9" r="1.8"/><circle cx="116.7" cy="105.4" r="1.4"/><circle cx="66.5" cy="92.4" r="1.6"/>
<circle cx="91.6" cy="148.7" r="1.3"/><circle cx="20.4" cy="193.5" r="1.3"/><circle cx="190.0" cy="176.0" r="1.0"/><circle cx="60.4" cy="104.6" r="1.3"/><circle cx="177.7" cy="251.0" r="1.6"/><circle cx="167.0" cy="245.0" r="1.4"/><circle cx="98.1" cy="218.0" r="1.3"/><circle cx="194.2" cy="230.8" r="1.2"/><circle cx="180.8" cy="221.9" r="1.7"/><circle cx="102.4" cy="264.4" r="1.2"/><circle cx="26.4" cy="267.9" r="1.5"/><circle cx="217.8" cy="164.7" r="1.3"/>
<circle cx="159.5" cy="238.1" r="1.6"/><circle cx="26.5" cy="125.5" r="1.4"/><circle cx="75.1" cy="135.0" r="1.8"/><circle cx="70.0" cy="97.6" r="1.1"/><circle cx="204.2" cy="216.4" r="1.7"/><circle cx="123.7" cy="28.2" r="1.4"/><circle cx="237.0" cy="205.1" r="1.4"/><circle cx="224.7" cy="227.5" r="1.8"/><circle cx="187.4" cy="152.6" r="1.0"/><circle cx="239.0" cy="193.8" r="1.5"/><circle cx="39.5" cy="138.7" r="1.0"/><circle cx="141.9" cy="186.7" r="1.2"/>
<circle cx="64.4" cy="91.2" r="1.3"/><circle cx="123.1" cy="51.4" r="1.1"/><circle cx="83.6" cy="25.8" r="1.5"/><circle cx="101.7" cy="101.6" r="1.1"/><circle cx="76.8" cy="39.8" r="1.5"/><circle cx="98.9" cy="132.9" r="1.1"/><circle cx="130.1" cy="190.9" r="1.1"/><circle cx="31.7" cy="128.6" r="1.1"/><circle cx="159.7" cy="170.2" r="1.7"/><circle cx="184.1" cy="176.1" r="1.2"/><circle cx="211.9" cy="200.2" r="1.5"/><circle cx="144.9" cy="265.4" r="1.6"/>
<circle cx="128.9" cy="54.9" r="1.7"/><circle cx="126.5" cy="193.1" r="1.6"/><circle cx="128.8" cy="79.9" r="1.2"/><circle cx="222.2" cy="176.2" r="1.7"/><circle cx="111.5" cy="196.9" r="1.5"/><circle cx="205.2" cy="242.6" r="1.4"/><circle cx="26.1" cy="140.8" r="1.3"/><circle cx="127.9" cy="64.7" r="1.6"/><circle cx="43.3" cy="226.4" r="1.6"/><circle cx="95.9" cy="184.4" r="1.6"/><circle cx="116.6" cy="177.2" r="1.4"/><circle cx="99.4" cy="225.5" r="1.5"/>
<circle cx="204.8" cy="158.1" r="1.2"/><circle cx="238.7" cy="165.5" r="1.4"/><circle cx="150.0" cy="227.5" r="1.1"/><circle cx="44.7" cy="225.5" r="1.6"/><circle cx="108.4" cy="145.6" r="1.5"/><circle cx="40.4" cy="226.3" r="1.7"/><circle cx="232.2" cy="181.0" r="1.0"/><circle cx="53.6" cy="59.3" r="1.4"/><circle cx="111.0" cy="166.5" r="1.2"/><circle cx="153.6" cy="250.3" r="1.2"/><circle cx="40.1" cy="24.0" r="1.8"/><circle cx="114.4" cy="53.9" r="1.2"/>
<circle cx="106.1" cy="159.2" r="1.0"/><circle cx="185.0" cy="227.2" r="1.3"/><circle cx="222.3" cy="238.4" r="1.2"/><circle cx="94.1" cy="117.7" r="1.3"/><circle cx="147.6" cy="187.6" r="1.4"/><circle cx="63.4" cy="118.1" r="1.7"/><circle cx="254.4" cy="189.5" r="1.1"/><circle cx="35.9" cy="25.9" r="1.6"/><circle cx="133.9" cy="131.2" r="1.8"/><circle cx="39.0" cy="182.6" r="1.3"/><circle cx="126.6" cy="219.2" r="1.5"/><circle cx="119.5" cy="66.9" r="1.4"/>
<circle cx="102.9" cy="68.4" r="1.5"/><circle cx="155.4" cy="233.7" r="1.2"/><circle cx="249.9" cy="164.0" r="1.6"/><circle cx="45.7" cy="142.4" r="1.6"/><circle cx="52.5" cy="204.8" r="1.8"/><circle cx="251.1" cy="216.7" r="1.4"/><circle cx="37.5" cy="244.5" r="1.1"/><circle cx="130.5" cy="207.4" r="1.8"/><circle cx="37.4" cy="180.4" r="1.6"/><circle cx="92.7" cy="35.2" r="1.3"/><circle cx="245.7" cy="221.6" r="1.2"/><circle cx="27.3" cy="252.7" r="1.6"/>
<circle cx="190.6" cy="162.9" r="1.0"/><circle cx="130.7" cy="64.3" r="1.0"/><circle cx="252.7" cy="224.2" r="1.5"/><circle cx="86.7" cy="42.6" r="1.4"/><circle cx="50.3" cy="92.2" r="1.7"/><circle cx="22.4" cy="49.9" r="1.1"/><circle cx="124.4" cy="224.0" r="1.2"/><circle cx="207.7" cy="237.5" r="1.3"/><circle cx="38.9" cy="58.3" r="1.7"/><circle cx="55.4" cy="146.0" r="1.8"/><circle cx="122.9" cy="181.4" r="1.2"/><circle cx="170.6" cy="210.9" r="1.1"/>
<circle cx="58.6" cy="121.7" r="1.2"/><circle cx="195.1" cy="210.1" r="1.4"/><circle cx="108.6" cy="198.4" r="1.4"/><circle cx="53.3" cy="239.6" r="1.0"/><circle cx="179.1" cy="262.4" r="1.5"/><circle cx="28.7" cy="251.4" r="1.5"/><circle cx="235.7" cy="236.6" r="1.3"/><circle cx="82.0" cy="46.6" r="1.5"/><circle cx="111.3" cy="215.3" r="1.6"/><circle cx="192.3" cy="169.2" r="1.2"/><circle cx="98.6" cy="194.6" r="1.1"/><circle cx="148.2" cy="190.2" r="1.7"/>
<circle cx="21.8" cy="46.4" r="1.1"/><circle cx="124.2" cy="76.9" r="1.2"/><circle cx="64.6" cy="27.9" r="1.1"/><circle cx="240.5" cy="186.2" r="1.7"/><circle cx="243.3" cy="181.5" r="1.6"/><circle cx="47.3" cy="236.1" r="1.1"/><circle cx="173.9" cy="247.0" r="1.5"/><circle cx="247.3" cy="246.0" r="1.6"/><circle cx="78.8" cy="138.7" r="1.7"/><circle cx="169.8" cy="252.7" r="1.2"/><circle cx="119.8" cy="247.8" r="1.6"/><circle cx="95.3" cy="62.5" r="1.1"/>
<circle cx="97.5" cy="37.0" r="1.8"/><circle cx="81.5" cy="132.1" r="1.4"/><circle cx="238.1" cy="174.6" r="1.1"/><circle cx="135.1" cy="58.0" r="1.6"/><circle cx="70.5" cy="182.8" r="1.7"/><circle cx="36.2" cy="164.8" r="1.2"/><circle cx="124.2" cy="246.1" r="1.1"/><circle cx="170.1" cy="255.2" r="1.5"/><circle cx="81.9" cy="197.0" r="1.7"/><circle cx="154.6" cy="150.8" r="1.8"/><circle cx="134.8" cy="131.0" r="1.7"/><circle cx="203.3" cy="218.3" r="1.4"/>
<circle cx="19.8" cy="260.5" r="1.7"/><circle cx="132.8" cy="163.8" r="1.7"/><circle cx="103.7" cy="192.5" r="1.3"/><circle cx="168.2" cy="261.7" r="1.1"/><circle cx="145.2" cy="262.2" r="1.1"/><circle cx="127.5" cy="213.6" r="1.5"/><circle cx="60.7" cy="31.8" r="1.3"/><circle cx="64.1" cy="196.0" r="1.7"/><circle cx="39.0" cy="180.2" r="1.6"/><circle cx="52.0" cy="70.3" r="1.6"/><circle cx="33.9" cy="157.1" r="1.2"/><circle cx="145.0" cy="230.6" r="1.4"/>
<circle cx="32.2" cy="218.9" r="1.0"/><circle cx="46.9" cy="223.8" r="1.5"/><circle cx="127.2" cy="191.5" r="1.7"/><circle cx="54.2" cy="166.8" r="1.7"/><circle cx="27.7" cy="57.4" r="1.5"/><circle cx="130.2" cy="251.5" r="1.0"/><circle cx="59.7" cy="34.5" r="1.2"/><circle cx="59.3" cy="169.8" r="1.7"/><circle cx="44.1" cy="146.3" r="1.6"/><circle cx="71.1" cy="223.1" r="1.3"/><circle cx="210.5" cy="267.5" r="1.5"/><circle cx="95.5" cy="266.0" r="1.5"/>
<circle cx="51.4" cy="231.1" r="1.6"/><circle cx="199.4" cy="170.3" r="1.3"/><circle cx="47.5" cy="57.3" r="1.3"/><circle cx="183.3" cy="160.4" r="1.4"/><circle cx="42.6" cy="233.8" r="1.5"/><circle cx="133.9" cy="23.6" r="1.1"/><circle cx="40.0" cy="184.9" r="1.7"/><circle cx="117.2" cy="223.9" r="1.6"/><circle cx="170.0" cy="152.8" r="1.3"/><circle cx="240.4" cy="174.6" r="1.0"/><circle cx="61.5" cy="147.0" r="1.8"/><circle cx="167.0" cy="217.6" r="1.3"/>
<circle cx="20.1" cy="80.9" r="1.1"/><circle cx="104.4" cy="212.3" r="1.4"/><circle cx="70.7" cy="214.6" r="1.5"/><circle cx="84.2" cy="70.4" r="1.6"/><circle cx="180.7" cy="264.1" r="1.4"/><circle cx="60.6" cy="189.5" r="1.0"/><circle cx="121.6" cy="105.6" r="1.6"/><circle cx="193.7" cy="253.2" r="1.1"/><circle cx="46.4" cy="245.8" r="1.6"/><circle cx="65.9" cy="191.2" r="1.3"/><circle cx="42.1" cy="206.4" r="1.7"/><circle cx="107.6" cy="77.2" r="1.4"/>
<circle cx="133.3" cy="244.6" r="1.1"/><circle cx="110.4" cy="56.1" r="1.6"/><circle cx="168.2" cy="265.9" r="1.2"/><circle cx="49.0" cy="195.1" r="1.0"/><circle cx="51.2" cy="234.9" r="1.4"/><circle cx="59.4" cy="107.9" r="1.7"/><circle cx="161.5" cy="219.4" r="1.5"/><circle cx="248.0" cy="235.8" r="1.1"/><circle cx="254.0" cy="169.9" r="1.7"/><circle cx="84.9" cy="204.5" r="1.6"/><circle cx="77.2" cy="103.8" r="1.5"/><circle cx="229.5" cy="169.9" r="1.1"/>
<circle cx="130.1" cy="214.2" r="1.0"/><circle cx="207.3" cy="227.3" r="1.4"/><circle cx="75.8" cy="161.6" r="1.0"/><circle cx="191.7" cy="259.5" r="1.1"/><circle cx="88.8" cy="183.9" r="1.1"/><circle cx="132.2" cy="98.2" r="1.6"/><circle cx="221.5" cy="208.8" r="1.0"/><circle cx="126.3" cy="215.0" r="1.7"/><circle cx="114.7" cy="219.5" r="1.3"/><circle cx="128.6" cy="180.4" r="1.7"/><circle cx="35.7" cy="245.4" r="1.3"/><circle cx="26.7" cy="128.5" r="1.2"/>
<circle cx="242.3" cy="157.6" r="1.6"/><circle cx="226.9" cy="205.9" r="1.0"/><circle cx="242.1" cy="190.7" r="1.7"/><circle cx="45.2" cy="113.4" r="1.5"/><circle cx="105.3" cy="65.8" r="1.4"/><circle cx="34.8" cy="199.3" r="1.2"/><circle cx="45.8" cy="141.6" r="1.8"/><circle cx="155.9" cy="261.8" r="1.2"/><circle cx="102.2" cy="88.8" r="1.5"/><circle cx="84.4" cy="37.8" r="1.3"/><circle cx="133.7" cy="153.7" r="1.1"/><circle cx="186.5" cy="191.6" r="1.4"/>
<circle cx="88.0" cy="177.2" r="1.6"/><circle cx="242.1" cy="224.2" r="1.8"/><circle cx="34.5" cy="245.0" r="1.4"/><circle cx="37.9" cy="246.5" r="1.2"/><circle cx="84.1" cy="196.3" r="1.4"/><circle cx="225.5" cy="152.2" r="1.5"/><circle cx="88.2" cy="264.4" r="1.4"/><circle cx="50.2" cy="108.7" r="1.4"/><circle cx="33.9" cy="239.9" r="1.2"/><circle cx="242.6" cy="183.2" r="1.3"/><circle cx="99.9" cy="183.5" r="1.3"/><circle cx="159.0" cy="196.2" r="1.7"/>
<circle cx="124.1" cy="98.0" r="1.1"/><circle cx="80.4" cy="143.1" r="1.8"/><circle cx="102.3" cy="136.0" r="1.1"/><circle cx="237.1" cy="200.0" r="1.2"/><circle cx="248.7" cy="231.8" r="1.6"/><circle cx="75.1" cy="32.3" r="1.3"/><circle cx="48.8" cy="87.1" r="1.1"/><circle cx="93.8" cy="108.0" r="1.3"/><circle cx="90.2" cy="252.1" r="1.3"/><circle cx="127.1" cy="102.1" r="1.0"/><circle cx="193.3" cy="265.9" r="1.3"/><circle cx="87.4" cy="258.0" r="1.8"/>
<circle cx="152.4" cy="248.7" r="1.4"/><circle cx="181.6" cy="204.9" r="1.7"/><circle cx="51.9" cy="159.7" r="1.2"/><circle cx="113.8" cy="232.2" r="1.4"/><circle cx="40.8" cy="35.8" r="1.5"/><circle cx="24.3" cy="156.6" r="1.4"/><circle cx="94.0" cy="173.3" r="1.8"/><circle cx="53.9" cy="235.5" r="1.3"/><circle cx="107.0" cy="93.2" r="1.3"/><circle cx="249.7" cy="240.6" r="1.1"/><circle cx="253.3" cy="222.9" r="1.2"/><circle cx="209.1" cy="264.6" r="1.3"/>
<circle cx="68.0" cy="140.7" r="1.7"/><circle cx="245.6" cy="211.0" r="1.1"/><circle cx="115.6" cy="250.6" r="1.3"/><circle cx="150.2" cy="199.6" r="1.6"/><circle cx="51.3" cy="68.5" r="1.3"/><circle cx="214.0" cy="230.6" r="1.2"/><circle cx="25.3" cy="22.6" r="1.2"/><circle cx="244.6" cy="230.6" r="1.4"/><circle cx="173.3" cy="245.2" r="1.3"/><circle cx="135.1" cy="194.0" r="1.2"/><circle cx="47.2" cy="91.3" r="1.8"/><circle cx="34.7" cy="208.4" r="1.5"/>
<circle cx="152.5" cy="239.1" r="1.5"/><circle cx="131.3" cy="195.6" r="1.1"/><circle cx="140.0" cy="165.8" r="1.7"/><circle cx="57.4" cy="36.6" r="1.3"/><circle cx="57.5" cy="90.2" r="1.3"/><circle cx="87.4" cy="154.4" r="1.7"/><circle cx="140.3" cy="213.6" r="1.1"/><circle cx="41.3" cy="210.2" r="1.4"/><circle cx="224.9" cy="228.7" r="1.5"/><circle cx="90.1" cy="193.4" r="1.6"/><circle cx="41.6" cy="167.0" r="1.7"/><circle cx="22.0" cy="151.5" r="1.3"/>
<circle cx="133.4" cy="107.1" r="1.7"/><circle cx="43.2" cy="60.6" r="1.2"/><circle cx="63.5" cy="246.3" r="1.5"/><circle cx="215.2" cy="153.4" r="1.4"/><circle cx="149.1" cy="211.1" r="1.1"/><circle cx="127.7" cy="41.1" r="1.7"/><circle cx="92.5" cy="112.6" r="1.7"/><circle cx="229.0" cy="171.4" r="1.6"/><circle cx="99.7" cy="199.5" r="1.0"/><circle cx="72.5" cy="53.3" r="1.1"/><circle cx="37.6" cy="194.7" r="1.6"/><circle cx="37.3" cy="215.7" r="1.6"/>
<circle cx="29.0" cy="49.0" r="1.6"/><circle cx="47.1" cy="85.3" r="1.1"/><circle cx="176.6" cy="210.6" r="1.6"/><circle cx="102.0" cy="44.7" r="1.7"/><circle cx="241.3" cy="259.2" r="1.3"/><circle cx="56.9" cy="147.2" r="1.6"/><circle cx="76.1" cy="164.6" r="1.1"/><circle cx="70.2" cy="69.9" r="1.2"/><circle cx="231.8" cy="156.3" r="1.8"/><circle cx="42.3" cy="75.5" r="1.4"/><circle cx="102.7" cy="116.9" r="1.2"/><circle cx="72.7" cy="50.2" r="1.8"/>
<circle cx="48.2" cy="49.6" r="1.1"/><circle cx="198.9" cy="198.2" r="1.4"/><circle cx="28.6" cy="104.0" r="1.1"/><circle cx="85.9" cy="172.1" r="1.2"/><circle cx="35.4" cy="232.3" r="1.4"/><circle cx="43.8" cy="131.5" r="1.5"/><circle cx="39.1" cy="57.8" r="1.3"/><circle cx="237.4" cy="266.5" r="1.1"/><circle cx="159.4" cy="269.7" r="1.1"/><circle cx="216.8" cy="203.3" r="1.2"/><circle cx="187.4" cy="167.5" r="1.2"/><circle cx="205.3" cy="183.0" r="1.3"/>
<circle cx="131.3" cy="172.8" r="1.3"/><circle cx="133.3" cy="91.7" r="1.6"/><circle cx="44.5" cy="84.7" r="1.4"/><circle cx="42.5" cy="35.2" r="1.1"/><circle cx="179.0" cy="265.0" r="1.3"/><circle cx="37.1" cy="209.9" r="1.6"/><circle cx="80.8" cy="107.9" r="1.7"/><circle cx="148.0" cy="260.1" r="1.0"/><circle cx="120.6" cy="250.7" r="1.3"/><circle cx="93.2" cy="116.1" r="1.4"/><circle cx="26.8" cy="161.2" r="1.7"/><circle cx="90.5" cy="198.5" r="1.4"/>
<circle cx="50.7" cy="200.9" r="1.4"/><circle cx="44.8" cy="190.8" r="1.5"/><circle cx="180.7" cy="165.1" r="1.4"/><circle cx="220.6" cy="148.7" r="1.3"/><circle cx="135.7" cy="264.7" r="1.5"/><circle cx="102.3" cy="266.4" r="1.3"/><circle cx="25.6" cy="33.3" r="1.7"/><circle cx="101.3" cy="207.5" r="1.0"/><circle cx="42.0" cy="108.3" r="1.3"/><circle cx="101.9" cy="187.3" r="1.2"/><circle cx="171.9" cy="170.1" r="1.7"/><circle cx="34.5" cy="98.2" r="1.3"/>
<circle cx="23.7" cy="103.5" r="1.4"/><circle cx="222.8" cy="164.0" r="1.7"/><circle cx="81.9" cy="196.0" r="1.5"/><circle cx="111.1" cy="165.1" r="1.6"/><circle cx="42.6" cy="190.8" r="1.3"/><circle cx="137.7" cy="213.2" r="1.3"/><circle cx="121.9" cy="146.2" r="1.7"/><circle cx="204.8" cy="232.1" r="1.4"/><circle cx="86.8" cy="33.9" r="1.8"/><circle cx="113.9" cy="78.5" r="1.6"/><circle cx="40.7" cy="233.0" r="1.1"/><circle cx="98.5" cy="38.8" r="1.6"/>
<circle cx="131.2" cy="74.4" r="1.6"/><circle cx="113.9" cy="178.2" r="1.4"/><circle cx="23.4" cy="197.8" r="1.7"/><circle cx="246.1" cy="207.6" r="1.4"/><circle cx="240.2" cy="155.2" r="1.5"/><circle cx="152.6" cy="178.7" r="1.4"/><circle cx="105.0" cy="58.9" r="1.1"/><circle cx="121.8" cy="101.7" r="1.7"/><circle cx="34.2" cy="72.9" r="1.3"/><circle cx="213.4" cy="183.5" r="1.2"/><circle cx="45.8" cy="70.0" r="1.2"/><circle cx="56.6" cy="56.1" r="1.2"/>
<circle cx="208.6" cy="186.7" r="1.1"/><circle cx="220.2" cy="262.9" r="1.4"/><circle cx="23.7" cy="236.9" r="1.1"/><circle cx="161.0" cy="238.8" r="1.7"/><circle cx="115.1" cy="112.9" r="1.5"/><circle cx="40.3" cy="257.8" r="1.6"/><circle cx="52.2" cy="50.0" r="1.6"/><circle cx="239.2" cy="152.5" r="1.7"/><circle cx="243.1" cy="254.9" r="1.2"/><circle cx="47.9" cy="223.7" r="1.3"/><circle cx="118.8" cy="58.1" r="1.1"/><circle cx="79.0" cy="169.4" r="1.4"/>
<circle cx="107.4" cy="259.2" r="1.3"/><circle cx="119.0" cy="192.7" r="1.8"/><circle cx="226.5" cy="256.2" r="1.3"/><circle cx="187.9" cy="227.3" r="1.0"/><circle cx="247.2" cy="173.5" r="1.7"/><circle cx="175.3" cy="257.2" r="1.6"/><circle cx="223.6" cy="236.4" r="1.3"/><circle cx="40.3" cy="227.7" r="1.2"/><circle cx="68.7" cy="244.6" r="1.7"/><circle cx="168.0" cy="241.9" r="1.6"/><circle cx="114.9" cy="30.5" r="1.7"/><circle cx="213.3" cy="257.1" r="1.4"/>
<circle cx="116.5" cy="232.3" r="1.6"/><circle cx="225.9" cy="227.1" r="1.7"/><circle cx="183.8" cy="148.6" r="1.3"/><circle cx="161.1" cy="225.4" r="1.6"/><circle cx="126.0" cy="28.8" r="1.0"/><circle cx="170.4" cy="179.5" r="1.6"/><circle cx="51.1" cy="122.2" r="1.5"/><circle cx="93.0" cy="42.6" r="1.1"/><circle cx="140.9" cy="264.4" r="1.7"/><circle cx="199.1" cy="233.7" r="1.5"/><circle cx="131.9" cy="205.8" r="1.2"/><circle cx="181.2" cy="228.7" r="1.6"/>
<circle cx="65.9" cy="125.6" r="1.1"/><circle cx="225.8" cy="258.2" r="1.7"/><circle cx="72.0" cy="259.0" r="1.7"/><circle cx="171.7" cy="178.7" r="1.7"/><circle cx="113.6" cy="129.2" r="1.2"/><circle cx="40.0" cy="114.0" r="1.8"/><circle cx="46.7" cy="201.6" r="1.3"/><circle cx="222.4" cy="217.5" r="1.2"/><circle cx="135.6" cy="54.5" r="1.7"/><circle cx="160.6" cy="270.8" r="1.2"/><circle cx="115.4" cy="58.5" r="1.2"/><circle cx="80.8" cy="176.4" r="1.7"/>
<circle cx="106.2" cy="193.1" r="1.4"/><circle cx="21.4" cy="55.3" r="1.3"/><circle cx="182.6" cy="193.7" r="1.6"/><circle cx="186.2" cy="206.0" r="1.2"/><circle cx="41.5" cy="36.7" r="1.3"/><circle cx="74.4" cy="249.1" r="1.8"/><circle cx="240.7" cy="263.8" r="1.5"/><circle cx="78.9" cy="176.9" r="1.2"/><circle cx="112.1" cy="114.7" r="1.8"/><circle cx="151.1" cy="167.1" r="1.2"/><circle cx="137.9" cy="254.6" r="1.7"/><circle cx="50.1" cy="101.3" r="1.4"/>
<circle cx="52.5" cy="51.2" r="1.0"/><circle cx="49.2" cy="239.9" r="1.7"/><circle cx="195.5" cy="253.6" r="1.2"/><circle cx="226.0" cy="175.2" r="1.6"/><circle cx="81.2" cy="100.3" r="1.7"/><circle cx="93.5" cy="270.6" r="1.6"/><circle cx="54.7" cy="235.3" r="1.5"/><circle cx="54.1" cy="79.5" r="1.0"/><circle cx="80.4" cy="198.5" r="1.3"/><circle cx="253.9" cy="253.8" r="1.0"/><circle cx="103.1" cy="199.3" r="1.4"/><circle cx="135.3" cy="233.5" r="1.7"/>
<circle cx="48.2" cy="45.4" r="1.7"/><circle cx="61.6" cy="64.1" r="1.4"/><circle cx="83.4" cy="244.7" r="1.5"/><circle cx="156.7" cy="264.9" r="1.4"/><circle cx="37.1" cy="214.1" r="1.5"/><circle cx="179.8" cy="192.2" r="1.3"/><circle cx="158.3" cy="259.8" r="1.7"/><circle cx="55.3" cy="42.3" r="1.7"/><circle cx="244.4" cy="170.6" r="1.0"/><circle cx="247.9" cy="186.0" r="1.8"/><circle cx="95.7" cy="204.9" r="1.6"/><circle cx="244.9" cy="164.3" r="1.2"/>
<circle cx="30.5" cy="182.9" r="1.3"/><circle cx="32.1" cy="39.7" r="1.8"/><circle cx="109.0" cy="121.7" r="1.1"/><circle cx="246.8" cy="238.4" r="1.1"/><circle cx="196.6" cy="185.5" r="1.1"/><circle cx="134.8" cy="130.1" r="1.6"/><circle cx="92.2" cy="193.2" r="1.1"/><circle cx="176.1" cy="230.0" r="1.4"/><circle cx="134.6" cy="243.4" r="1.4"/><circle cx="197.5" cy="224.7" r="1.5"/><circle cx="121.4" cy="128.5" r="1.0"/><circle cx="99.7" cy="137.9" r="1.2"/>
<circle cx="135.9" cy="179.4" r="1.4"/><circle cx="87.6" cy="131.3" r="1.7"/><circle cx="131.7" cy="59.2" r="1.1"/><circle cx="232.1" cy="232.4" r="1.4"/><circle cx="88.7" cy="33.9" r="1.1"/><circle cx="29.6" cy="48.9" r="1.3"/><circle cx="41.3" cy="187.2" r="1.5"/><circle cx="78.8" cy="85.7" r="1.1"/><circle cx="62.0" cy="120.2" r="1.1"/><circle cx="177.2" cy="178.0" r="1.2"/><circle cx="247.1" cy="239.8" r="1.1"/><circle cx="62.7" cy="208.8" r="1.5"/>
<circle cx="46.5" cy="64.9" r="1.4"/><circle cx="182.3" cy="239.2" r="1.8"/><circle cx="165.0" cy="265.5" r="1.3"/><circle cx="178.0" cy="194.6" r="1.3"/><circle cx="90.4" cy="53.3" r="1.0"/><circle cx="45.4" cy="26.0" r="1.8"/><circle cx="172.1" cy="184.4" r="1.3"/><circle cx="166.7" cy="219.5" r="1.2"/><circle cx="90.0" cy="137.9" r="1.4"/><circle cx="24.1" cy="63.5" r="1.1"/><circle cx="184.8" cy="263.0" r="1.4"/><circle cx="221.9" cy="168.3" r="1.2"/>
<circle cx="153.4" cy="230.5" r="1.0"/><circle cx="20.9" cy="179.6" r="1.6"/><circle cx="250.2" cy="234.2" r="1.6"/><circle cx="159.6" cy="160.6" r="1.2"/><circle cx="134.0" cy="143.5" r="1.5"/><circle cx="163.3" cy="191.7" r="1.7"/><circle cx="134.1" cy="200.6" r="1.4"/><circle cx="118.6" cy="101.0" r="1.1"/><circle cx="130.7" cy="145.7" r="1.8"/><circle cx="100.8" cy="196.4" r="1.0"/><circle cx="87.0" cy="70.1" r="1.3"/><circle cx="73.8" cy="76.9" r="1.7"/>
<circle cx="99.0" cy="172.5" r="1.7"/><circle cx="88.2" cy="199.8" r="1.8"/><circle cx="215.6" cy="190.3" r="1.6"/><circle cx="206.8" cy="221.9" r="1.7"/><circle cx="195.8" cy="188.8" r="1.1"/><circle cx="66.1" cy="173.4" r="1.1"/><circle cx="117.2" cy="270.4" r="1.2"/><circle cx="68.4" cy="33.8" r="1.0"/><circle cx="56.4" cy="229.0" r="1.7"/><circle cx="26.5" cy="37.9" r="1.3"/><circle cx="71.9" cy="86.5" r="1.3"/><circle cx="102.8" cy="33.7" r="1.7"/>
<circle cx="82.1" cy="59.8" r="1.6"/><circle cx="140.6" cy="189.4" r="1.6"/><circle cx="126.9" cy="232.4" r="1.1"/><circle cx="44.0" cy="174.6" r="1.6"/><circle cx="242.6" cy="227.9" r="1.0"/><circle cx="43.9" cy="179.5" r="1.7"/><circle cx="87.9" cy="132.4" r="1.4"/><circle cx="51.5" cy="234.1" r="1.4"/><circle cx="117.1" cy="214.3" r="1.2"/><circle cx="106.9" cy="210.7" r="1.3"/><circle cx="72.9" cy="222.4" r="1.3"/><circle cx="115.6" cy="136.7" r="1.7"/>
<circle cx="26.0" cy="58.4" r="1.0"/><circle cx="209.3" cy="257.9" r="1.1"/><circle cx="93.3" cy="267.5" r="1.1"/><circle cx="33.5" cy="211.8" r="1.5"/><circle cx="170.4" cy="247.6" r="1.0"/><circle cx="168.1" cy="200.3" r="1.5"/><circle cx="113.9" cy="192.2" r="1.4"/><circle cx="90.8" cy="207.7" r="1.7"/><circle cx="20.9" cy="91.9" r="1.4"/><circle cx="236.2" cy="197.1" r="1.4"/><circle cx="67.4" cy="158.1" r="1.6"/><circle cx="172.9" cy="196.4" r="1.7"/>
<circle cx="65.6" cy="97.4" r="1.0"/><circle cx="97.9" cy="203.3" r="1.6"/><circle cx="48.7" cy="270.0" r="1.2"/><circle cx="40.9" cy="159.9" r="1.4"/><circle cx="25.6" cy="221.1" r="1.5"/><circle cx="76.0" cy="215.5" r="1.6"/><circle cx="33.1" cy="115.2" r="1.5"/><circle cx="102.7" cy="33.9" r="1.5"/><circle cx="48.4" cy="96.5" r="1.6"/><circle cx="125.9" cy="267.7" r="1.6"/><circle cx="252.4" cy="163.4" r="1.7"/><circle cx="167.1" cy="155.3" r="1.5"/>
<circle cx="101.7" cy="93.1" r="1.6"/><circle cx="187.7" cy="190.1" r="1.6"/><circle cx="96.4" cy="167.6" r="1.7"/><circle cx="104.3" cy="46.5" r="1.6"/><circle cx="33.7" cy="244.1" r="1.4"/><circle cx="124.3" cy="114.3" r="1.4"/><circle cx="157.8" cy="151.7" r="1.3"/><circle cx="81.2" cy="146.7" r="1.3"/><circle cx="122.9" cy="254.8" r="1.4"/><circle cx="248.7" cy="228.0" r="1.1"/><circle cx="49.0" cy="199.8" r="1.1"/><circle cx="185.3" cy="237.8" r="1.1"/>
<circle cx="69.2" cy="140.3" r="1.6"/><circle cx="243.6" cy="172.4" r="1.3"/><circle cx="47.5" cy="164.9" r="1.0"/><circle cx="55.2" cy="114.9" r="1.8"/><circle cx="90.6" cy="143.5" r="1.6"/><circle cx="52.5" cy="169.4" r="1.0"/><circle cx="230.0" cy="244.3" r="1.2"/><circle cx="47.9" cy="109.2" r="1.7"/><circle cx="117.5" cy="165.3" r="1.5"/><circle cx="231.5" cy="217.3" r="1.4"/><circle cx="188.9" cy="173.4" r="1.6"/><circle cx="125.2" cy="134.3" r="1.7"/>
<circle cx="95.8" cy="222.0" r="1.5"/><circle cx="115.7" cy="80.2" r="1.3"/><circle cx="146.7" cy="261.5" r="1.7"/><circle cx="192.7" cy="183.5" r="1.7"/><circle cx="185.9" cy="165.0" r="1.6"/><circle cx="185.9" cy="162.3" r="1.1"/><circle cx="165.0" cy="166.2" r="1.0"/><circle cx="131.3" cy="246.2" r="1.1"/><circle cx="23.5" cy="218.7" r="1.2"/><circle cx="185.5" cy="243.9" r="1.4"/><circle cx="209.4" cy="173.7" r="1.3"/><circle cx="29.6" cy="237.5" r="1.0"/>
<circle cx="122.1" cy="125.7" r="1.7"/><circle cx="93.9" cy="86.3" r="1.1"/><circle cx="42.4" cy="64.0" r="1.1"/><circle cx="79.3" cy="44.4" r="1.2"/><circle cx="115.1" cy="64.3" r="1.5"/><circle cx="95.8" cy="28.8" r="1.0"/><circle cx="111.0" cy="102.0" r="1.3"/><circle cx="95.5" cy="115.9" r="1.7"/><circle cx="47.5" cy="72.6" r="1.6"/><circle cx="46.2" cy="37.2" r="1.4"/><circle cx="115.1" cy="143.0" r="1.3"/><circle cx="74.2" cy="243.5" r="1.2"/>
<circle cx="246.4" cy="190.8" r="1.2"/><circle cx="149.9" cy="218.3" r="1.2"/><circle cx="115.0" cy="43.0" r="1.5"/><circle cx="67.0" cy="264.0" r="1.3"/><circle cx="251.5" cy="217.5" r="1.4"/><circle cx="119.0" cy="249.9" r="1.4"/><circle cx="19.2" cy="138.2" r="1.7"/><circle cx="87.3" cy="265.0" r="1.0"/><circle cx="160.1" cy="231.9" r="1.3"/><circle cx="101.9" cy="180.1" r="1.5"/><circle cx="193.4" cy="162.8" r="1.2"/><circle cx="112.3" cy="52.7" r="1.1"/>
<circle cx="120.9" cy="174.6" r="1.8"/><circle cx="94.1" cy="192.5" r="1.3"/><circle cx="80.7" cy="210.2" r="1.4"/><circle cx="77.0" cy="267.8" r="1.3"/><circle cx="127.5" cy="171.9" r="1.0"/><circle cx="182.3" cy="183.6" r="1.0"/><circle cx="131.5" cy="247.4" r="1.5"/><circle cx="116.5" cy="245.8" r="1.6"/><circle cx="198.9" cy="156.5" r="1.6"/><circle cx="26.3" cy="230.0" r="1.5"/><circle cx="210.8" cy="228.9" r="1.3"/><circle cx="60.8" cy="214.0" r="1.6"/>
<circle cx="21.0" cy="137.7" r="1.7"/><circle cx="123.9" cy="77.4" r="1.0"/><circle cx="85.3" cy="252.3" r="1.3"/><circle cx="40.2" cy="175.4" r="1.2"/><circle cx="135.5" cy="112.7" r="1.2"/><circle cx="232.5" cy="198.7" r="1.2"/><circle cx="65.3" cy="227.3" r="1.3"/><circle cx="224.3" cy="164.3" r="1.4"/><circle cx="149.2" cy="187.0" r="1.5"/><circle cx="180.0" cy="163.3" r="1.1"/><circle cx="49.3" cy="38.3" r="1.2"/><circle cx="142.4" cy="217.6" r="1.2"/>
<circle cx="179.0" cy="270.0" r="1.6"/><circle cx="240.3" cy="182.2" r="1.8"/><circle cx="31.2" cy="256.7" r="1.3"/><circle cx="104.3" cy="211.8" r="1.7"/><circle cx="72.0" cy="91.5" r="1.3"/><circle cx="124.9" cy="23.3" r="1.2"/><circle cx="38.3" cy="165.0" r="1.0"/><circle cx="193.0" cy="266.5" r="1.3"/></g>
<g fill="url(#pgM)">
<circle cx="36.6" cy="84.5" r="1.7"/><circle cx="92.4" cy="178.5" r="1.7"/><circle cx="132.3" cy="224.0" r="2.1"/><circle cx="78.1" cy="49.0" r="1.8"/><circle cx="99.4" cy="35.6" r="1.9"/><circle cx="206.4" cy="257.9" r="2.2"/><circle cx="165.2" cy="213.0" r="2.1"/><circle cx="33.3" cy="30.3" r="1.9"/><circle cx="49.1" cy="251.8" r="2.0"/><circle cx="90.1" cy="178.5" r="1.7"/><circle cx="178.9" cy="161.8" r="1.8"/><circle cx="109.0" cy="46.0" r="2.2"/>
<circle cx="74.0" cy="171.9" r="2.1"/><circle cx="21.5" cy="118.0" r="2.2"/><circle cx="226.7" cy="176.8" r="1.9"/><circle cx="240.3" cy="217.7" r="2.0"/><circle cx="96.5" cy="70.1" r="1.7"/><circle cx="154.3" cy="181.3" r="1.8"/><circle cx="118.4" cy="203.2" r="2.0"/><circle cx="76.4" cy="221.3" r="1.6"/><circle cx="92.6" cy="131.0" r="2.4"/><circle cx="227.9" cy="215.9" r="1.7"/><circle cx="91.8" cy="107.7" r="1.9"/><circle cx="20.9" cy="168.6" r="2.1"/>
<circle cx="32.5" cy="148.8" r="2.3"/><circle cx="65.1" cy="72.1" r="2.3"/><circle cx="176.6" cy="195.7" r="2.4"/><circle cx="155.5" cy="262.8" r="2.1"/><circle cx="117.8" cy="62.6" r="2.0"/><circle cx="70.8" cy="22.9" r="1.8"/><circle cx="73.3" cy="178.0" r="1.8"/><circle cx="192.4" cy="260.1" r="1.9"/><circle cx="62.5" cy="269.5" r="1.9"/><circle cx="36.4" cy="29.5" r="1.7"/><circle cx="87.6" cy="70.6" r="2.1"/><circle cx="26.0" cy="71.5" r="1.7"/>
<circle cx="228.0" cy="201.7" r="1.9"/><circle cx="24.1" cy="232.7" r="2.3"/><circle cx="24.0" cy="191.4" r="1.9"/><circle cx="75.7" cy="224.4" r="2.1"/><circle cx="241.1" cy="266.3" r="2.4"/><circle cx="227.1" cy="241.6" r="1.7"/><circle cx="53.1" cy="253.0" r="2.2"/><circle cx="64.2" cy="116.5" r="1.9"/><circle cx="160.5" cy="266.2" r="1.8"/><circle cx="29.9" cy="176.0" r="1.8"/><circle cx="145.4" cy="219.4" r="1.9"/><circle cx="31.6" cy="220.9" r="2.3"/>
<circle cx="220.0" cy="264.1" r="2.3"/><circle cx="68.4" cy="42.4" r="2.0"/><circle cx="139.0" cy="209.8" r="2.1"/><circle cx="128.6" cy="102.5" r="1.9"/><circle cx="182.9" cy="200.9" r="2.0"/><circle cx="82.3" cy="122.2" r="2.3"/><circle cx="70.8" cy="72.8" r="2.3"/><circle cx="112.4" cy="98.5" r="2.3"/><circle cx="153.8" cy="255.9" r="1.9"/><circle cx="38.8" cy="133.1" r="1.9"/><circle cx="129.3" cy="124.2" r="2.2"/><circle cx="93.8" cy="117.6" r="1.7"/>
<circle cx="74.2" cy="183.3" r="1.9"/><circle cx="38.5" cy="232.7" r="2.0"/><circle cx="170.9" cy="218.5" r="2.3"/><circle cx="42.2" cy="39.8" r="1.6"/><circle cx="66.3" cy="71.2" r="1.9"/><circle cx="90.4" cy="225.9" r="2.1"/><circle cx="83.8" cy="198.4" r="2.4"/><circle cx="254.6" cy="210.1" r="2.2"/><circle cx="89.7" cy="227.6" r="2.2"/><circle cx="114.3" cy="123.4" r="2.1"/><circle cx="140.0" cy="212.3" r="1.7"/><circle cx="112.8" cy="78.7" r="2.2"/>
<circle cx="131.0" cy="151.0" r="2.2"/><circle cx="197.8" cy="202.6" r="2.0"/><circle cx="63.3" cy="214.5" r="2.2"/><circle cx="68.5" cy="134.5" r="2.0"/><circle cx="107.4" cy="166.4" r="1.7"/><circle cx="210.3" cy="230.6" r="1.9"/><circle cx="117.9" cy="193.4" r="1.9"/><circle cx="202.8" cy="156.4" r="1.9"/><circle cx="24.5" cy="218.3" r="2.3"/><circle cx="55.3" cy="260.2" r="1.9"/><circle cx="167.6" cy="172.8" r="2.1"/><circle cx="223.6" cy="267.0" r="1.8"/>
<circle cx="111.2" cy="155.6" r="1.8"/><circle cx="44.6" cy="164.4" r="2.0"/><circle cx="43.6" cy="160.2" r="1.6"/><circle cx="63.1" cy="39.4" r="2.4"/><circle cx="86.0" cy="80.3" r="2.1"/><circle cx="35.5" cy="36.4" r="2.0"/><circle cx="59.6" cy="236.9" r="1.9"/><circle cx="56.1" cy="49.7" r="2.0"/><circle cx="131.9" cy="39.2" r="2.4"/><circle cx="67.5" cy="130.1" r="2.2"/><circle cx="131.0" cy="172.9" r="2.4"/><circle cx="20.8" cy="57.7" r="1.7"/>
<circle cx="113.2" cy="223.9" r="2.0"/><circle cx="233.8" cy="241.8" r="2.0"/><circle cx="155.0" cy="206.3" r="1.8"/><circle cx="184.3" cy="199.9" r="1.8"/><circle cx="163.7" cy="224.5" r="1.7"/><circle cx="77.8" cy="247.0" r="2.2"/><circle cx="127.0" cy="249.7" r="1.7"/><circle cx="235.2" cy="196.5" r="2.2"/><circle cx="70.3" cy="145.4" r="2.4"/><circle cx="149.5" cy="270.8" r="1.7"/><circle cx="43.8" cy="213.6" r="1.9"/><circle cx="125.4" cy="85.2" r="2.0"/>
<circle cx="128.1" cy="40.3" r="2.2"/><circle cx="195.0" cy="235.9" r="1.9"/><circle cx="21.5" cy="50.7" r="2.3"/><circle cx="96.2" cy="209.2" r="2.0"/><circle cx="35.1" cy="159.1" r="1.8"/><circle cx="212.6" cy="232.4" r="1.7"/><circle cx="23.3" cy="47.1" r="1.8"/><circle cx="37.3" cy="212.9" r="2.1"/><circle cx="55.2" cy="111.5" r="1.8"/><circle cx="27.1" cy="190.8" r="1.8"/><circle cx="183.4" cy="231.1" r="2.2"/><circle cx="170.3" cy="201.1" r="2.3"/>
<circle cx="111.2" cy="99.1" r="1.6"/><circle cx="20.1" cy="215.1" r="2.2"/><circle cx="75.3" cy="44.8" r="1.9"/><circle cx="64.3" cy="189.2" r="1.8"/><circle cx="227.2" cy="221.2" r="2.3"/><circle cx="58.6" cy="63.8" r="1.9"/><circle cx="44.4" cy="103.8" r="2.0"/><circle cx="63.7" cy="73.8" r="2.0"/><circle cx="69.5" cy="111.1" r="1.7"/><circle cx="113.9" cy="101.1" r="1.9"/><circle cx="127.3" cy="38.5" r="2.3"/><circle cx="34.9" cy="76.6" r="1.8"/>
<circle cx="160.3" cy="267.8" r="1.7"/><circle cx="145.5" cy="269.6" r="2.3"/><circle cx="59.5" cy="261.8" r="2.1"/><circle cx="250.6" cy="196.1" r="2.1"/><circle cx="248.5" cy="195.4" r="1.9"/><circle cx="168.9" cy="243.0" r="1.9"/><circle cx="98.1" cy="174.1" r="2.1"/><circle cx="109.2" cy="182.1" r="1.8"/><circle cx="157.6" cy="269.1" r="1.8"/><circle cx="164.5" cy="246.2" r="1.8"/><circle cx="193.1" cy="211.3" r="2.1"/><circle cx="33.1" cy="115.6" r="1.8"/>
<circle cx="54.8" cy="73.1" r="1.6"/><circle cx="236.9" cy="171.5" r="2.4"/><circle cx="84.6" cy="182.9" r="2.2"/><circle cx="141.9" cy="266.4" r="2.1"/><circle cx="87.1" cy="27.9" r="2.3"/><circle cx="97.2" cy="82.6" r="2.0"/><circle cx="233.0" cy="188.3" r="1.8"/><circle cx="181.2" cy="201.9" r="2.1"/><circle cx="109.0" cy="102.4" r="2.0"/><circle cx="20.4" cy="239.5" r="1.7"/><circle cx="64.4" cy="180.6" r="1.7"/><circle cx="67.2" cy="44.9" r="2.1"/>
<circle cx="215.2" cy="255.0" r="1.8"/><circle cx="37.4" cy="203.2" r="1.8"/><circle cx="60.6" cy="84.2" r="1.8"/><circle cx="124.8" cy="180.9" r="1.8"/><circle cx="58.6" cy="132.3" r="2.0"/><circle cx="192.4" cy="212.1" r="2.3"/><circle cx="109.0" cy="235.5" r="2.2"/><circle cx="236.5" cy="170.8" r="1.7"/><circle cx="128.4" cy="135.4" r="1.9"/><circle cx="51.3" cy="139.3" r="1.7"/><circle cx="63.8" cy="25.2" r="2.0"/><circle cx="237.5" cy="257.1" r="2.4"/>
<circle cx="107.1" cy="144.4" r="2.1"/><circle cx="28.2" cy="252.4" r="1.9"/><circle cx="122.0" cy="85.8" r="2.3"/><circle cx="189.4" cy="149.4" r="2.0"/><circle cx="181.5" cy="196.1" r="2.1"/><circle cx="237.7" cy="205.9" r="1.8"/><circle cx="27.1" cy="225.3" r="2.1"/><circle cx="178.6" cy="196.4" r="2.1"/><circle cx="80.7" cy="135.9" r="2.1"/><circle cx="79.0" cy="172.5" r="2.4"/><circle cx="200.9" cy="183.1" r="2.3"/><circle cx="112.8" cy="168.5" r="2.3"/>
<circle cx="118.8" cy="229.4" r="1.8"/><circle cx="90.3" cy="263.9" r="2.1"/><circle cx="109.3" cy="99.0" r="1.9"/><circle cx="225.8" cy="203.9" r="1.7"/><circle cx="169.1" cy="216.2" r="1.9"/><circle cx="52.7" cy="209.2" r="2.3"/><circle cx="112.9" cy="99.0" r="2.4"/><circle cx="35.5" cy="196.1" r="2.0"/><circle cx="173.5" cy="205.3" r="1.7"/><circle cx="107.4" cy="198.0" r="1.8"/><circle cx="61.9" cy="259.1" r="2.0"/><circle cx="32.9" cy="67.7" r="2.2"/>
<circle cx="80.2" cy="247.6" r="1.9"/><circle cx="166.9" cy="178.1" r="2.3"/><circle cx="58.2" cy="95.3" r="1.9"/><circle cx="84.3" cy="107.5" r="2.1"/><circle cx="131.8" cy="190.2" r="1.7"/><circle cx="33.4" cy="209.9" r="1.6"/><circle cx="156.5" cy="268.9" r="1.7"/><circle cx="161.3" cy="268.7" r="2.2"/><circle cx="98.5" cy="129.4" r="1.9"/><circle cx="229.1" cy="271.9" r="2.3"/><circle cx="241.1" cy="188.3" r="1.9"/><circle cx="32.5" cy="111.0" r="1.9"/>
<circle cx="42.6" cy="136.2" r="2.2"/><circle cx="190.2" cy="244.0" r="1.7"/><circle cx="161.1" cy="239.3" r="1.8"/><circle cx="184.0" cy="225.8" r="1.9"/><circle cx="164.9" cy="186.7" r="2.0"/><circle cx="116.5" cy="69.0" r="2.4"/><circle cx="245.0" cy="225.2" r="1.6"/><circle cx="104.0" cy="33.4" r="2.2"/><circle cx="95.8" cy="133.1" r="2.1"/><circle cx="113.4" cy="175.1" r="1.7"/><circle cx="120.0" cy="254.9" r="2.3"/><circle cx="251.9" cy="236.3" r="2.3"/>
<circle cx="65.0" cy="57.8" r="2.0"/><circle cx="154.0" cy="236.2" r="2.0"/><circle cx="49.2" cy="221.2" r="1.8"/><circle cx="177.8" cy="159.2" r="2.3"/><circle cx="58.7" cy="133.6" r="1.7"/><circle cx="68.9" cy="210.3" r="2.1"/><circle cx="40.1" cy="130.7" r="2.2"/><circle cx="56.8" cy="254.2" r="2.3"/><circle cx="79.8" cy="141.1" r="2.3"/><circle cx="48.1" cy="55.9" r="2.0"/><circle cx="182.3" cy="240.0" r="2.3"/><circle cx="199.9" cy="172.2" r="2.1"/>
<circle cx="108.0" cy="201.4" r="2.2"/><circle cx="109.1" cy="182.5" r="2.0"/><circle cx="221.0" cy="224.1" r="1.8"/><circle cx="46.3" cy="43.9" r="1.7"/><circle cx="193.8" cy="256.3" r="2.2"/><circle cx="46.4" cy="113.9" r="2.3"/><circle cx="244.2" cy="166.2" r="1.6"/><circle cx="33.6" cy="155.9" r="2.3"/><circle cx="105.1" cy="191.8" r="2.2"/><circle cx="141.7" cy="172.4" r="1.8"/><circle cx="112.3" cy="156.6" r="2.0"/><circle cx="53.1" cy="257.7" r="2.3"/>
<circle cx="176.0" cy="222.3" r="2.2"/><circle cx="254.3" cy="198.6" r="2.0"/><circle cx="191.9" cy="224.6" r="2.2"/><circle cx="31.4" cy="238.4" r="1.7"/><circle cx="134.1" cy="120.0" r="2.4"/><circle cx="174.6" cy="234.1" r="2.4"/><circle cx="179.0" cy="269.6" r="2.2"/><circle cx="111.3" cy="154.0" r="1.8"/><circle cx="49.9" cy="210.1" r="2.1"/><circle cx="209.0" cy="234.5" r="2.2"/><circle cx="127.0" cy="62.9" r="1.7"/><circle cx="53.2" cy="76.5" r="2.2"/>
<circle cx="190.3" cy="165.9" r="2.1"/><circle cx="217.6" cy="253.5" r="1.7"/><circle cx="31.4" cy="267.1" r="2.1"/><circle cx="159.0" cy="264.4" r="2.1"/><circle cx="114.3" cy="30.5" r="1.8"/><circle cx="134.3" cy="194.0" r="2.4"/><circle cx="182.3" cy="220.8" r="2.1"/><circle cx="202.5" cy="238.2" r="2.1"/><circle cx="84.0" cy="185.3" r="1.9"/><circle cx="47.3" cy="42.7" r="2.0"/><circle cx="176.8" cy="149.4" r="1.6"/><circle cx="154.2" cy="165.2" r="1.8"/>
<circle cx="194.9" cy="220.6" r="1.7"/><circle cx="133.3" cy="183.1" r="1.9"/><circle cx="34.0" cy="249.2" r="2.2"/><circle cx="62.6" cy="225.2" r="1.6"/><circle cx="150.2" cy="156.1" r="2.2"/><circle cx="134.3" cy="151.7" r="2.1"/><circle cx="187.4" cy="219.5" r="1.7"/><circle cx="196.7" cy="263.4" r="2.3"/><circle cx="61.6" cy="171.8" r="1.7"/><circle cx="149.9" cy="222.1" r="1.7"/><circle cx="49.4" cy="73.6" r="1.7"/><circle cx="151.7" cy="234.9" r="1.6"/>
<circle cx="250.3" cy="148.5" r="1.9"/><circle cx="89.9" cy="258.6" r="2.0"/><circle cx="203.7" cy="186.8" r="2.0"/><circle cx="155.2" cy="195.8" r="2.0"/><circle cx="42.4" cy="226.9" r="1.8"/><circle cx="63.4" cy="96.9" r="2.3"/><circle cx="245.0" cy="172.5" r="1.8"/><circle cx="103.7" cy="54.1" r="2.1"/><circle cx="36.5" cy="85.7" r="1.9"/><circle cx="38.6" cy="85.5" r="1.9"/><circle cx="182.9" cy="156.0" r="1.7"/><circle cx="191.9" cy="270.8" r="2.2"/>
<circle cx="64.5" cy="115.0" r="2.1"/><circle cx="212.6" cy="173.2" r="1.9"/><circle cx="55.2" cy="270.1" r="1.9"/><circle cx="25.1" cy="172.9" r="1.7"/><circle cx="48.4" cy="49.5" r="2.0"/><circle cx="34.6" cy="182.0" r="1.9"/><circle cx="97.7" cy="90.3" r="2.3"/><circle cx="72.3" cy="24.5" r="1.9"/><circle cx="43.8" cy="253.4" r="1.7"/><circle cx="143.8" cy="197.1" r="2.3"/><circle cx="149.2" cy="173.9" r="2.3"/><circle cx="59.3" cy="258.6" r="1.9"/>
<circle cx="100.5" cy="207.3" r="2.4"/><circle cx="144.5" cy="170.7" r="2.3"/><circle cx="131.5" cy="53.9" r="1.6"/><circle cx="48.8" cy="116.7" r="2.2"/><circle cx="31.5" cy="203.4" r="2.4"/><circle cx="162.7" cy="198.7" r="1.7"/><circle cx="251.8" cy="221.6" r="2.0"/><circle cx="84.1" cy="128.9" r="2.4"/><circle cx="227.0" cy="225.5" r="1.8"/><circle cx="221.5" cy="258.9" r="1.9"/><circle cx="92.8" cy="44.5" r="1.7"/><circle cx="191.3" cy="258.2" r="1.7"/>
<circle cx="32.5" cy="207.9" r="2.0"/><circle cx="135.3" cy="240.6" r="2.4"/><circle cx="119.1" cy="149.2" r="2.2"/><circle cx="132.2" cy="150.8" r="2.4"/><circle cx="228.6" cy="196.5" r="1.9"/><circle cx="164.4" cy="249.7" r="2.2"/><circle cx="187.5" cy="197.6" r="2.2"/><circle cx="76.6" cy="206.7" r="2.4"/><circle cx="213.3" cy="242.1" r="2.0"/><circle cx="162.8" cy="173.8" r="2.4"/><circle cx="178.2" cy="242.5" r="2.0"/><circle cx="72.1" cy="40.8" r="2.3"/>
<circle cx="140.2" cy="260.1" r="1.9"/><circle cx="108.5" cy="115.3" r="1.7"/><circle cx="146.2" cy="213.6" r="1.7"/><circle cx="89.6" cy="95.4" r="1.8"/><circle cx="193.2" cy="164.2" r="1.8"/><circle cx="90.9" cy="255.3" r="2.1"/><circle cx="128.3" cy="176.4" r="2.0"/><circle cx="103.0" cy="175.9" r="1.9"/><circle cx="102.5" cy="23.3" r="2.3"/><circle cx="62.9" cy="110.6" r="1.7"/><circle cx="135.1" cy="43.2" r="2.0"/><circle cx="55.3" cy="53.0" r="2.0"/>
<circle cx="55.7" cy="186.2" r="1.8"/><circle cx="112.3" cy="96.8" r="1.9"/><circle cx="62.0" cy="224.9" r="1.7"/><circle cx="122.5" cy="231.8" r="1.7"/><circle cx="102.5" cy="130.5" r="1.9"/><circle cx="63.7" cy="32.1" r="1.9"/><circle cx="194.6" cy="247.2" r="1.7"/><circle cx="66.0" cy="141.8" r="2.1"/><circle cx="81.7" cy="127.3" r="2.0"/><circle cx="207.8" cy="200.6" r="1.9"/><circle cx="199.4" cy="242.4" r="2.0"/><circle cx="237.0" cy="232.8" r="1.9"/>
<circle cx="44.9" cy="49.0" r="1.6"/><circle cx="55.7" cy="147.0" r="2.2"/><circle cx="74.8" cy="191.6" r="1.9"/><circle cx="249.4" cy="206.4" r="1.9"/><circle cx="87.3" cy="143.5" r="2.2"/><circle cx="77.5" cy="60.1" r="2.0"/><circle cx="77.9" cy="213.7" r="2.3"/><circle cx="185.7" cy="224.5" r="2.2"/><circle cx="253.2" cy="169.8" r="2.1"/><circle cx="73.1" cy="55.1" r="1.6"/><circle cx="252.7" cy="254.3" r="1.9"/><circle cx="31.0" cy="123.8" r="1.8"/>
<circle cx="98.3" cy="141.8" r="2.0"/><circle cx="82.5" cy="92.1" r="1.9"/><circle cx="117.7" cy="102.0" r="1.6"/><circle cx="28.6" cy="35.0" r="2.2"/><circle cx="69.0" cy="140.0" r="2.3"/><circle cx="42.8" cy="68.2" r="2.4"/><circle cx="104.8" cy="98.1" r="1.7"/><circle cx="22.2" cy="159.9" r="2.3"/><circle cx="97.2" cy="207.3" r="1.9"/><circle cx="202.8" cy="154.2" r="1.9"/><circle cx="109.6" cy="243.8" r="1.7"/><circle cx="157.4" cy="250.0" r="2.1"/>
<circle cx="63.9" cy="198.2" r="2.3"/><circle cx="36.7" cy="158.6" r="1.9"/><circle cx="190.2" cy="269.4" r="1.8"/><circle cx="64.2" cy="159.6" r="1.8"/><circle cx="226.0" cy="235.4" r="2.3"/><circle cx="249.1" cy="245.7" r="2.0"/><circle cx="188.3" cy="249.7" r="1.7"/><circle cx="117.9" cy="254.8" r="2.0"/><circle cx="24.2" cy="171.8" r="2.2"/><circle cx="49.4" cy="33.4" r="2.1"/><circle cx="206.5" cy="195.5" r="2.2"/><circle cx="112.8" cy="193.2" r="2.3"/>
<circle cx="83.1" cy="68.0" r="1.7"/><circle cx="70.4" cy="196.2" r="2.3"/><circle cx="186.0" cy="153.3" r="1.8"/><circle cx="71.0" cy="199.1" r="2.0"/><circle cx="59.4" cy="33.4" r="1.8"/><circle cx="28.2" cy="59.0" r="2.3"/><circle cx="205.6" cy="182.6" r="1.8"/><circle cx="213.3" cy="155.6" r="1.6"/><circle cx="101.0" cy="173.3" r="1.9"/><circle cx="38.6" cy="198.4" r="2.0"/><circle cx="32.5" cy="226.0" r="2.3"/><circle cx="70.7" cy="263.3" r="1.7"/>
<circle cx="248.3" cy="156.3" r="2.4"/><circle cx="202.7" cy="217.1" r="1.7"/><circle cx="173.3" cy="239.5" r="2.1"/><circle cx="149.0" cy="226.2" r="1.8"/><circle cx="82.4" cy="167.4" r="2.2"/><circle cx="73.7" cy="203.6" r="1.9"/><circle cx="61.8" cy="68.3" r="2.3"/><circle cx="63.6" cy="144.6" r="2.2"/><circle cx="57.4" cy="66.4" r="1.9"/><circle cx="36.0" cy="83.3" r="2.3"/><circle cx="143.3" cy="203.7" r="2.2"/><circle cx="23.9" cy="228.6" r="2.2"/>
<circle cx="77.6" cy="42.9" r="1.7"/><circle cx="247.1" cy="261.4" r="1.7"/><circle cx="132.4" cy="162.7" r="2.0"/><circle cx="57.5" cy="104.9" r="1.7"/><circle cx="32.2" cy="195.0" r="2.1"/><circle cx="48.0" cy="228.2" r="1.7"/><circle cx="89.0" cy="149.9" r="2.3"/><circle cx="52.5" cy="250.0" r="1.6"/><circle cx="119.8" cy="58.8" r="2.1"/><circle cx="72.3" cy="241.7" r="1.9"/><circle cx="227.7" cy="227.7" r="1.7"/><circle cx="59.0" cy="49.5" r="1.7"/>
<circle cx="236.9" cy="252.0" r="2.3"/><circle cx="144.2" cy="171.9" r="2.1"/><circle cx="54.5" cy="188.8" r="1.8"/><circle cx="43.5" cy="251.1" r="2.1"/><circle cx="239.2" cy="224.7" r="2.2"/><circle cx="37.0" cy="22.5" r="2.3"/><circle cx="54.1" cy="186.0" r="1.9"/><circle cx="111.2" cy="202.3" r="2.2"/><circle cx="131.9" cy="38.8" r="2.1"/><circle cx="40.3" cy="270.7" r="1.7"/><circle cx="109.9" cy="101.8" r="1.9"/><circle cx="208.3" cy="185.5" r="1.8"/>
<circle cx="117.8" cy="146.3" r="2.0"/><circle cx="144.7" cy="227.4" r="1.9"/><circle cx="155.4" cy="195.4" r="2.2"/><circle cx="19.7" cy="270.5" r="1.6"/><circle cx="150.8" cy="261.4" r="2.3"/><circle cx="33.1" cy="109.3" r="2.3"/><circle cx="223.6" cy="226.8" r="1.8"/><circle cx="53.0" cy="235.3" r="2.4"/><circle cx="51.5" cy="262.5" r="2.2"/><circle cx="108.1" cy="28.6" r="2.4"/><circle cx="106.7" cy="197.4" r="2.1"/><circle cx="36.4" cy="231.4" r="2.3"/>
<circle cx="26.1" cy="113.3" r="1.7"/><circle cx="37.2" cy="164.3" r="2.3"/><circle cx="54.3" cy="67.6" r="2.2"/><circle cx="195.6" cy="196.6" r="1.8"/><circle cx="116.1" cy="106.3" r="2.2"/><circle cx="55.8" cy="242.3" r="1.6"/><circle cx="21.6" cy="230.2" r="2.1"/><circle cx="225.7" cy="160.5" r="2.3"/><circle cx="56.0" cy="265.3" r="2.0"/><circle cx="69.0" cy="176.8" r="1.8"/><circle cx="62.4" cy="208.5" r="2.0"/><circle cx="217.6" cy="226.1" r="2.0"/>
<circle cx="92.9" cy="182.5" r="2.3"/><circle cx="57.9" cy="222.8" r="2.1"/><circle cx="65.0" cy="49.1" r="1.7"/><circle cx="161.4" cy="233.7" r="1.6"/><circle cx="85.6" cy="157.4" r="1.7"/><circle cx="159.9" cy="211.1" r="1.8"/><circle cx="149.2" cy="181.6" r="1.6"/><circle cx="82.5" cy="266.2" r="2.1"/><circle cx="152.0" cy="219.6" r="1.6"/><circle cx="93.2" cy="257.9" r="1.6"/><circle cx="103.2" cy="92.6" r="1.9"/><circle cx="65.0" cy="210.0" r="2.2"/>
<circle cx="248.8" cy="197.7" r="1.7"/><circle cx="115.1" cy="207.4" r="1.7"/><circle cx="157.4" cy="235.0" r="1.8"/><circle cx="54.8" cy="137.8" r="2.3"/><circle cx="41.0" cy="201.6" r="2.3"/><circle cx="209.6" cy="185.6" r="2.2"/><circle cx="57.0" cy="262.9" r="2.0"/><circle cx="191.0" cy="184.8" r="2.3"/><circle cx="99.6" cy="218.3" r="1.9"/><circle cx="104.0" cy="236.0" r="1.9"/><circle cx="229.2" cy="215.5" r="1.9"/><circle cx="68.3" cy="174.6" r="1.7"/>
<circle cx="55.0" cy="178.9" r="2.0"/><circle cx="224.4" cy="158.8" r="2.4"/><circle cx="41.2" cy="100.4" r="2.3"/><circle cx="57.1" cy="92.0" r="1.9"/><circle cx="40.1" cy="66.8" r="2.2"/><circle cx="79.9" cy="140.3" r="1.8"/><circle cx="225.9" cy="184.6" r="1.7"/><circle cx="48.3" cy="164.2" r="1.6"/><circle cx="221.3" cy="251.3" r="1.7"/><circle cx="105.5" cy="233.2" r="2.4"/><circle cx="107.2" cy="192.6" r="2.0"/><circle cx="81.0" cy="240.9" r="2.1"/>
<circle cx="165.5" cy="183.0" r="2.2"/><circle cx="76.8" cy="227.3" r="1.6"/><circle cx="56.3" cy="121.8" r="1.7"/><circle cx="110.6" cy="137.6" r="1.7"/><circle cx="128.9" cy="182.6" r="2.3"/><circle cx="128.7" cy="43.5" r="2.2"/><circle cx="235.5" cy="252.6" r="2.2"/><circle cx="66.1" cy="104.2" r="1.9"/><circle cx="84.7" cy="31.6" r="1.7"/><circle cx="129.9" cy="182.1" r="1.9"/><circle cx="26.4" cy="172.3" r="1.9"/><circle cx="120.5" cy="140.4" r="1.6"/>
<circle cx="223.9" cy="260.2" r="2.1"/><circle cx="82.7" cy="180.9" r="1.7"/><circle cx="35.3" cy="123.3" r="1.8"/><circle cx="187.1" cy="239.8" r="2.0"/><circle cx="101.4" cy="126.8" r="2.0"/><circle cx="21.3" cy="217.8" r="2.1"/><circle cx="37.4" cy="189.0" r="2.1"/><circle cx="95.4" cy="268.6" r="2.4"/><circle cx="194.3" cy="206.2" r="1.9"/><circle cx="54.5" cy="136.7" r="1.7"/><circle cx="125.3" cy="230.1" r="1.7"/><circle cx="125.0" cy="264.4" r="1.7"/>
<circle cx="70.6" cy="266.8" r="1.9"/><circle cx="108.1" cy="109.0" r="2.4"/><circle cx="248.3" cy="166.2" r="1.6"/><circle cx="223.8" cy="196.8" r="2.1"/><circle cx="126.6" cy="124.6" r="1.9"/><circle cx="147.0" cy="152.8" r="2.2"/><circle cx="45.8" cy="66.0" r="1.9"/><circle cx="60.7" cy="170.7" r="2.0"/><circle cx="109.0" cy="233.3" r="2.2"/><circle cx="122.2" cy="92.8" r="2.1"/><circle cx="237.3" cy="236.2" r="2.4"/><circle cx="172.3" cy="176.1" r="1.9"/>
<circle cx="136.2" cy="209.9" r="2.3"/><circle cx="42.5" cy="133.0" r="2.1"/><circle cx="26.7" cy="94.5" r="1.9"/><circle cx="71.6" cy="135.7" r="1.9"/><circle cx="65.2" cy="139.4" r="1.7"/><circle cx="247.4" cy="250.5" r="1.9"/><circle cx="212.6" cy="198.0" r="2.2"/><circle cx="20.8" cy="115.7" r="1.8"/><circle cx="85.9" cy="241.9" r="1.8"/><circle cx="216.9" cy="220.8" r="1.9"/><circle cx="76.0" cy="247.0" r="1.9"/><circle cx="22.7" cy="60.3" r="1.9"/>
<circle cx="211.7" cy="227.0" r="2.1"/><circle cx="98.1" cy="261.8" r="2.4"/><circle cx="76.1" cy="265.4" r="1.8"/><circle cx="171.1" cy="229.1" r="2.2"/><circle cx="169.2" cy="266.3" r="1.7"/><circle cx="232.4" cy="151.3" r="1.9"/><circle cx="42.5" cy="222.3" r="2.0"/><circle cx="168.0" cy="218.1" r="2.3"/><circle cx="149.5" cy="259.2" r="1.8"/><circle cx="41.0" cy="131.4" r="2.1"/><circle cx="186.0" cy="252.1" r="1.7"/><circle cx="109.2" cy="207.6" r="1.7"/>
<circle cx="126.1" cy="179.9" r="1.9"/><circle cx="75.6" cy="246.5" r="1.8"/><circle cx="203.1" cy="218.5" r="2.2"/><circle cx="239.7" cy="178.9" r="2.1"/><circle cx="127.4" cy="171.0" r="1.7"/><circle cx="85.7" cy="245.7" r="1.7"/><circle cx="135.6" cy="112.3" r="2.3"/><circle cx="111.2" cy="144.8" r="1.6"/><circle cx="36.4" cy="261.8" r="1.7"/><circle cx="93.0" cy="249.1" r="2.2"/><circle cx="61.4" cy="24.5" r="1.7"/><circle cx="152.9" cy="173.7" r="1.6"/>
<circle cx="249.3" cy="270.4" r="2.0"/><circle cx="163.9" cy="158.6" r="1.7"/><circle cx="194.0" cy="253.6" r="1.8"/><circle cx="26.0" cy="27.8" r="2.0"/><circle cx="55.0" cy="238.7" r="1.7"/><circle cx="70.2" cy="103.9" r="1.8"/><circle cx="190.7" cy="257.0" r="1.8"/><circle cx="132.7" cy="260.3" r="1.9"/><circle cx="64.6" cy="65.2" r="2.1"/><circle cx="111.7" cy="167.9" r="2.2"/><circle cx="92.5" cy="220.5" r="2.4"/><circle cx="134.1" cy="242.7" r="1.9"/>
<circle cx="195.3" cy="226.0" r="2.1"/><circle cx="58.5" cy="30.4" r="2.0"/><circle cx="214.1" cy="183.3" r="2.4"/><circle cx="102.1" cy="29.5" r="1.7"/><circle cx="95.2" cy="219.7" r="1.9"/><circle cx="36.1" cy="186.2" r="1.9"/><circle cx="94.2" cy="24.7" r="1.9"/><circle cx="128.8" cy="220.8" r="2.3"/><circle cx="161.0" cy="153.8" r="1.7"/><circle cx="84.6" cy="174.0" r="2.3"/><circle cx="94.5" cy="71.3" r="2.2"/><circle cx="136.7" cy="269.6" r="1.9"/>
<circle cx="48.3" cy="64.8" r="1.9"/><circle cx="109.4" cy="166.1" r="1.8"/><circle cx="170.9" cy="236.0" r="2.4"/><circle cx="230.4" cy="251.5" r="1.6"/><circle cx="41.4" cy="222.6" r="2.2"/><circle cx="83.8" cy="210.4" r="1.9"/><circle cx="219.3" cy="263.8" r="1.7"/><circle cx="107.2" cy="176.5" r="1.6"/><circle cx="30.3" cy="24.6" r="1.7"/><circle cx="95.2" cy="193.9" r="1.9"/><circle cx="59.2" cy="69.8" r="2.3"/><circle cx="106.1" cy="247.7" r="2.4"/>
<circle cx="239.5" cy="239.0" r="1.8"/><circle cx="96.7" cy="175.2" r="2.2"/><circle cx="82.7" cy="64.6" r="1.7"/><circle cx="127.7" cy="53.6" r="2.3"/><circle cx="196.7" cy="243.9" r="2.4"/><circle cx="116.5" cy="133.7" r="1.7"/><circle cx="143.5" cy="166.5" r="2.1"/><circle cx="81.3" cy="96.1" r="1.7"/><circle cx="150.8" cy="240.2" r="2.1"/><circle cx="37.4" cy="264.9" r="1.6"/><circle cx="22.1" cy="76.0" r="2.3"/><circle cx="63.3" cy="48.1" r="1.8"/>
<circle cx="158.4" cy="153.9" r="2.3"/><circle cx="126.1" cy="60.5" r="2.0"/><circle cx="104.8" cy="265.8" r="2.3"/><circle cx="140.2" cy="217.0" r="1.8"/><circle cx="84.6" cy="63.0" r="1.8"/><circle cx="224.3" cy="184.1" r="1.7"/><circle cx="225.8" cy="208.3" r="1.8"/><circle cx="25.7" cy="187.5" r="2.0"/><circle cx="81.7" cy="253.7" r="1.7"/><circle cx="120.8" cy="59.7" r="2.0"/><circle cx="83.3" cy="46.5" r="2.1"/><circle cx="88.4" cy="122.7" r="2.1"/>
<circle cx="121.3" cy="192.3" r="2.1"/><circle cx="31.5" cy="30.9" r="1.8"/><circle cx="34.5" cy="47.3" r="1.8"/><circle cx="165.4" cy="201.0" r="1.9"/><circle cx="42.9" cy="205.5" r="2.3"/><circle cx="82.3" cy="73.4" r="2.2"/><circle cx="101.0" cy="94.0" r="2.1"/><circle cx="137.8" cy="197.1" r="2.0"/><circle cx="91.1" cy="248.7" r="1.8"/><circle cx="93.4" cy="39.4" r="1.7"/><circle cx="22.0" cy="140.7" r="1.9"/><circle cx="60.9" cy="88.0" r="1.7"/>
<circle cx="179.3" cy="235.3" r="2.1"/><circle cx="247.8" cy="167.8" r="2.0"/><circle cx="77.4" cy="49.3" r="2.3"/><circle cx="152.9" cy="269.6" r="2.3"/><circle cx="53.6" cy="45.5" r="1.8"/><circle cx="192.4" cy="269.4" r="1.8"/><circle cx="133.8" cy="113.1" r="1.6"/><circle cx="102.2" cy="199.5" r="2.3"/><circle cx="201.8" cy="236.2" r="2.3"/><circle cx="180.8" cy="204.1" r="1.6"/><circle cx="250.0" cy="236.1" r="2.1"/><circle cx="52.4" cy="146.5" r="1.8"/>
<circle cx="193.9" cy="265.3" r="1.9"/><circle cx="244.3" cy="181.7" r="2.4"/><circle cx="226.0" cy="191.7" r="2.3"/><circle cx="125.0" cy="261.6" r="2.0"/><circle cx="81.6" cy="191.8" r="2.3"/><circle cx="111.3" cy="126.3" r="2.4"/><circle cx="92.0" cy="32.3" r="2.0"/><circle cx="100.0" cy="175.1" r="1.9"/><circle cx="126.4" cy="264.0" r="2.2"/><circle cx="87.1" cy="264.4" r="2.0"/><circle cx="54.5" cy="263.7" r="2.1"/><circle cx="87.0" cy="221.9" r="1.6"/>
<circle cx="28.7" cy="92.8" r="2.1"/><circle cx="31.6" cy="98.5" r="1.9"/><circle cx="78.3" cy="109.6" r="1.8"/><circle cx="221.7" cy="188.3" r="2.2"/><circle cx="55.6" cy="43.5" r="1.8"/><circle cx="70.7" cy="140.3" r="1.9"/><circle cx="210.6" cy="181.3" r="1.9"/><circle cx="80.7" cy="97.5" r="1.8"/><circle cx="152.1" cy="191.7" r="1.9"/><circle cx="155.4" cy="192.8" r="1.8"/><circle cx="51.0" cy="160.6" r="1.8"/><circle cx="39.2" cy="163.7" r="2.1"/>
<circle cx="51.7" cy="132.5" r="1.9"/><circle cx="239.6" cy="200.1" r="2.0"/><circle cx="119.9" cy="127.1" r="1.9"/><circle cx="25.5" cy="161.7" r="2.4"/><circle cx="118.3" cy="211.0" r="2.1"/><circle cx="90.4" cy="82.7" r="2.0"/><circle cx="49.0" cy="157.8" r="2.1"/><circle cx="88.2" cy="210.8" r="1.9"/><circle cx="114.1" cy="23.5" r="2.2"/><circle cx="31.8" cy="35.7" r="2.3"/><circle cx="42.0" cy="94.6" r="2.0"/><circle cx="97.2" cy="37.2" r="2.2"/>
<circle cx="178.2" cy="206.8" r="1.6"/><circle cx="67.4" cy="58.0" r="2.2"/><circle cx="135.9" cy="77.9" r="2.1"/><circle cx="92.4" cy="269.3" r="1.6"/><circle cx="133.4" cy="193.9" r="1.7"/><circle cx="19.0" cy="172.9" r="1.7"/><circle cx="41.9" cy="73.1" r="2.0"/><circle cx="32.1" cy="52.5" r="1.9"/><circle cx="250.9" cy="227.1" r="2.3"/><circle cx="148.0" cy="227.4" r="2.1"/><circle cx="221.8" cy="176.3" r="1.9"/><circle cx="212.2" cy="186.4" r="1.7"/>
<circle cx="194.0" cy="158.7" r="2.0"/><circle cx="87.4" cy="188.9" r="2.4"/><circle cx="135.3" cy="188.9" r="1.9"/><circle cx="117.4" cy="128.2" r="1.6"/></g>
<g fill="url(#pgL)">
<circle cx="126.9" cy="163.1" r="2.4"/><circle cx="171.2" cy="245.3" r="2.1"/><circle cx="233.1" cy="262.7" r="2.8"/><circle cx="84.3" cy="267.4" r="2.9"/><circle cx="33.8" cy="186.0" r="2.7"/><circle cx="99.1" cy="200.8" r="2.4"/><circle cx="112.0" cy="251.0" r="2.4"/><circle cx="130.3" cy="186.7" r="2.9"/><circle cx="202.0" cy="153.4" r="2.4"/><circle cx="29.6" cy="235.0" r="2.2"/><circle cx="44.1" cy="255.6" r="2.8"/><circle cx="250.6" cy="224.1" r="2.3"/>
<circle cx="229.6" cy="211.0" r="2.2"/><circle cx="199.2" cy="173.6" r="2.9"/><circle cx="94.8" cy="196.7" r="3.0"/><circle cx="78.6" cy="131.4" r="2.3"/><circle cx="57.3" cy="225.5" r="2.3"/><circle cx="156.4" cy="179.3" r="2.3"/><circle cx="210.2" cy="245.3" r="2.5"/><circle cx="62.7" cy="204.5" r="2.7"/><circle cx="136.1" cy="230.1" r="2.5"/><circle cx="102.1" cy="176.6" r="2.2"/><circle cx="34.8" cy="128.9" r="2.2"/><circle cx="37.4" cy="217.6" r="2.2"/>
<circle cx="73.4" cy="172.4" r="2.3"/><circle cx="241.0" cy="252.6" r="2.7"/><circle cx="35.0" cy="239.9" r="2.2"/><circle cx="154.8" cy="235.3" r="2.6"/><circle cx="81.1" cy="29.5" r="2.3"/><circle cx="98.0" cy="213.2" r="2.6"/><circle cx="192.2" cy="253.0" r="2.9"/><circle cx="232.4" cy="197.8" r="2.1"/><circle cx="250.5" cy="259.5" r="2.7"/><circle cx="82.8" cy="32.4" r="2.6"/><circle cx="90.6" cy="234.5" r="2.1"/><circle cx="32.1" cy="215.4" r="2.6"/>
<circle cx="222.0" cy="192.5" r="2.6"/><circle cx="31.3" cy="213.4" r="2.5"/><circle cx="119.7" cy="56.4" r="2.9"/><circle cx="64.7" cy="131.1" r="2.3"/><circle cx="195.4" cy="244.1" r="2.6"/><circle cx="188.9" cy="225.2" r="2.2"/><circle cx="61.6" cy="32.9" r="2.7"/><circle cx="132.0" cy="52.6" r="2.3"/><circle cx="187.3" cy="257.4" r="2.4"/><circle cx="173.3" cy="153.7" r="2.7"/><circle cx="231.5" cy="198.4" r="2.4"/><circle cx="73.4" cy="207.5" r="2.4"/>
<circle cx="249.8" cy="196.6" r="2.5"/><circle cx="46.0" cy="146.7" r="2.4"/><circle cx="109.7" cy="228.8" r="2.4"/><circle cx="29.5" cy="73.4" r="2.5"/><circle cx="229.8" cy="252.7" r="2.8"/><circle cx="158.5" cy="211.3" r="2.8"/><circle cx="179.0" cy="236.6" r="2.5"/><circle cx="154.1" cy="164.1" r="2.2"/><circle cx="109.0" cy="208.4" r="2.2"/><circle cx="22.6" cy="221.9" r="2.2"/><circle cx="78.0" cy="157.7" r="2.5"/><circle cx="174.6" cy="217.6" r="2.6"/>
<circle cx="48.3" cy="164.1" r="2.3"/><circle cx="61.2" cy="137.7" r="2.5"/><circle cx="32.8" cy="256.7" r="2.6"/><circle cx="93.1" cy="38.0" r="2.8"/><circle cx="84.2" cy="239.3" r="2.7"/><circle cx="53.7" cy="176.5" r="2.2"/><circle cx="28.1" cy="193.1" r="2.6"/><circle cx="28.9" cy="201.3" r="2.7"/><circle cx="188.5" cy="172.1" r="2.2"/><circle cx="123.7" cy="149.8" r="2.4"/><circle cx="106.6" cy="227.7" r="2.7"/><circle cx="96.1" cy="219.0" r="2.5"/>
<circle cx="248.7" cy="177.5" r="2.1"/><circle cx="238.6" cy="250.0" r="2.6"/><circle cx="138.9" cy="167.4" r="2.3"/><circle cx="37.2" cy="255.9" r="2.6"/><circle cx="154.6" cy="159.1" r="2.8"/><circle cx="219.0" cy="153.9" r="2.5"/><circle cx="82.5" cy="231.0" r="2.3"/><circle cx="76.4" cy="213.9" r="2.5"/><circle cx="75.9" cy="205.2" r="2.4"/><circle cx="173.2" cy="173.3" r="2.5"/><circle cx="153.4" cy="228.7" r="2.6"/><circle cx="80.4" cy="93.7" r="2.2"/>
<circle cx="118.4" cy="267.8" r="2.7"/><circle cx="201.3" cy="247.0" r="2.1"/><circle cx="238.5" cy="207.7" r="2.1"/><circle cx="50.2" cy="238.7" r="2.9"/><circle cx="230.8" cy="246.6" r="2.7"/><circle cx="124.9" cy="124.2" r="2.9"/><circle cx="87.3" cy="141.3" r="2.3"/><circle cx="199.8" cy="251.1" r="2.2"/><circle cx="230.4" cy="170.4" r="2.7"/><circle cx="108.5" cy="131.6" r="2.6"/><circle cx="230.8" cy="167.0" r="2.5"/><circle cx="95.2" cy="101.6" r="2.2"/>
<circle cx="211.1" cy="205.7" r="2.3"/><circle cx="141.5" cy="165.8" r="2.2"/><circle cx="86.2" cy="51.6" r="2.5"/><circle cx="235.6" cy="269.2" r="2.9"/><circle cx="67.8" cy="231.7" r="2.1"/><circle cx="232.0" cy="262.0" r="2.8"/><circle cx="20.6" cy="230.1" r="2.3"/><circle cx="241.3" cy="164.8" r="2.6"/><circle cx="44.9" cy="198.6" r="2.5"/><circle cx="253.4" cy="204.9" r="2.4"/><circle cx="37.7" cy="220.3" r="2.4"/><circle cx="239.0" cy="220.5" r="2.9"/>
<circle cx="175.0" cy="241.4" r="2.7"/><circle cx="20.9" cy="56.2" r="2.9"/><circle cx="54.7" cy="225.5" r="2.4"/><circle cx="65.9" cy="241.0" r="2.9"/><circle cx="34.9" cy="161.4" r="2.3"/><circle cx="117.7" cy="87.8" r="2.6"/><circle cx="89.8" cy="80.0" r="2.5"/><circle cx="103.3" cy="142.2" r="2.2"/><circle cx="226.9" cy="210.7" r="3.0"/><circle cx="95.8" cy="187.6" r="2.5"/><circle cx="185.3" cy="215.4" r="2.8"/><circle cx="134.4" cy="125.0" r="2.4"/>
<circle cx="138.8" cy="244.5" r="2.2"/><circle cx="94.0" cy="119.8" r="2.5"/><circle cx="115.7" cy="165.1" r="2.3"/><circle cx="166.6" cy="259.0" r="2.4"/><circle cx="189.4" cy="222.6" r="2.7"/><circle cx="234.3" cy="213.7" r="2.7"/><circle cx="208.1" cy="249.7" r="2.3"/><circle cx="192.1" cy="257.0" r="2.1"/><circle cx="112.9" cy="143.2" r="2.4"/><circle cx="73.3" cy="215.1" r="2.3"/><circle cx="48.2" cy="218.0" r="2.2"/><circle cx="22.5" cy="229.6" r="2.2"/>
<circle cx="192.7" cy="220.2" r="2.6"/><circle cx="24.5" cy="90.5" r="2.3"/><circle cx="233.2" cy="155.3" r="2.1"/><circle cx="107.0" cy="158.6" r="2.3"/><circle cx="210.1" cy="266.0" r="2.3"/><circle cx="130.7" cy="202.8" r="2.3"/><circle cx="92.5" cy="106.5" r="2.4"/><circle cx="20.3" cy="194.6" r="2.8"/><circle cx="43.8" cy="196.8" r="2.8"/><circle cx="57.3" cy="209.0" r="2.5"/><circle cx="134.0" cy="209.2" r="2.5"/><circle cx="89.0" cy="130.9" r="2.9"/>
<circle cx="178.7" cy="152.6" r="2.4"/><circle cx="163.9" cy="200.6" r="2.3"/><circle cx="128.2" cy="256.1" r="2.7"/><circle cx="142.8" cy="229.4" r="2.5"/><circle cx="33.4" cy="139.2" r="2.4"/><circle cx="167.4" cy="254.0" r="2.8"/><circle cx="223.9" cy="168.1" r="2.7"/><circle cx="55.0" cy="204.7" r="2.3"/><circle cx="43.1" cy="221.2" r="2.8"/><circle cx="96.9" cy="215.0" r="2.3"/><circle cx="209.5" cy="239.8" r="2.5"/><circle cx="58.7" cy="217.8" r="2.2"/>
<circle cx="57.9" cy="240.7" r="2.9"/><circle cx="31.3" cy="149.9" r="2.7"/><circle cx="96.2" cy="147.1" r="2.6"/><circle cx="108.0" cy="118.4" r="2.4"/><circle cx="217.8" cy="260.8" r="2.9"/><circle cx="186.9" cy="232.0" r="2.5"/><circle cx="205.2" cy="193.3" r="2.5"/><circle cx="101.2" cy="28.3" r="2.5"/><circle cx="177.1" cy="204.1" r="2.6"/><circle cx="254.5" cy="256.9" r="2.3"/><circle cx="123.3" cy="153.5" r="2.4"/><circle cx="41.2" cy="114.2" r="2.9"/>
<circle cx="83.9" cy="141.7" r="2.7"/><circle cx="213.3" cy="237.8" r="3.0"/><circle cx="130.7" cy="240.7" r="2.8"/><circle cx="55.2" cy="206.0" r="2.2"/><circle cx="118.0" cy="233.5" r="2.7"/><circle cx="216.6" cy="234.1" r="2.7"/><circle cx="140.9" cy="257.1" r="2.9"/><circle cx="123.6" cy="90.9" r="2.6"/><circle cx="59.8" cy="208.7" r="2.1"/><circle cx="83.6" cy="109.7" r="2.6"/><circle cx="183.3" cy="163.5" r="2.2"/><circle cx="40.4" cy="204.4" r="2.6"/>
<circle cx="246.9" cy="213.7" r="2.3"/><circle cx="77.2" cy="231.3" r="2.9"/><circle cx="64.1" cy="211.0" r="2.1"/><circle cx="52.1" cy="100.9" r="2.3"/><circle cx="88.6" cy="196.4" r="2.5"/><circle cx="167.9" cy="229.9" r="2.9"/><circle cx="110.0" cy="156.5" r="2.7"/><circle cx="100.9" cy="224.7" r="2.3"/><circle cx="214.8" cy="220.6" r="2.8"/><circle cx="79.9" cy="138.9" r="2.2"/><circle cx="52.0" cy="168.7" r="2.4"/><circle cx="184.5" cy="179.4" r="2.1"/>
<circle cx="42.6" cy="250.3" r="2.5"/><circle cx="126.7" cy="166.0" r="2.5"/><circle cx="89.8" cy="264.7" r="2.8"/><circle cx="231.6" cy="148.7" r="2.8"/><circle cx="228.2" cy="263.3" r="2.3"/><circle cx="248.5" cy="210.0" r="2.4"/><circle cx="245.5" cy="264.6" r="2.8"/><circle cx="58.0" cy="22.2" r="2.9"/><circle cx="90.1" cy="42.1" r="2.3"/><circle cx="131.7" cy="108.2" r="2.7"/><circle cx="183.9" cy="250.2" r="2.8"/><circle cx="185.7" cy="212.8" r="2.2"/>
<circle cx="201.5" cy="246.5" r="2.8"/><circle cx="119.2" cy="120.5" r="2.5"/><circle cx="193.7" cy="168.6" r="2.6"/><circle cx="99.2" cy="227.8" r="2.8"/><circle cx="234.8" cy="183.4" r="2.3"/><circle cx="68.9" cy="130.9" r="2.7"/><circle cx="119.5" cy="93.2" r="2.8"/><circle cx="27.2" cy="261.6" r="2.2"/><circle cx="180.0" cy="230.6" r="2.2"/><circle cx="222.5" cy="222.9" r="2.4"/><circle cx="113.8" cy="214.8" r="2.3"/><circle cx="168.7" cy="172.9" r="2.5"/>
<circle cx="107.0" cy="140.4" r="2.6"/><circle cx="105.1" cy="218.4" r="2.6"/><circle cx="109.5" cy="190.7" r="2.4"/><circle cx="239.5" cy="169.5" r="2.8"/><circle cx="30.5" cy="92.4" r="2.5"/><circle cx="105.6" cy="244.3" r="2.3"/><circle cx="103.2" cy="26.4" r="2.7"/><circle cx="27.6" cy="206.7" r="2.2"/><circle cx="41.3" cy="203.7" r="2.5"/><circle cx="83.8" cy="265.0" r="2.3"/><circle cx="213.8" cy="230.7" r="2.6"/><circle cx="127.2" cy="41.1" r="2.2"/>
<circle cx="249.5" cy="181.5" r="2.4"/><circle cx="237.9" cy="209.3" r="2.1"/><circle cx="173.1" cy="242.7" r="2.5"/><circle cx="46.5" cy="69.9" r="2.4"/><circle cx="140.3" cy="235.6" r="2.8"/><circle cx="122.1" cy="208.7" r="2.3"/><circle cx="115.1" cy="26.7" r="2.2"/><circle cx="94.1" cy="77.3" r="2.4"/><circle cx="214.2" cy="169.0" r="2.4"/><circle cx="110.8" cy="254.5" r="2.4"/><circle cx="100.7" cy="133.1" r="2.8"/><circle cx="68.7" cy="196.4" r="2.3"/>
<circle cx="26.6" cy="235.1" r="2.7"/><circle cx="68.0" cy="268.2" r="2.4"/><circle cx="93.4" cy="190.6" r="2.7"/><circle cx="58.3" cy="109.9" r="3.0"/><circle cx="24.5" cy="265.3" r="2.5"/><circle cx="74.4" cy="252.3" r="2.6"/><circle cx="70.5" cy="270.0" r="2.3"/><circle cx="56.6" cy="216.4" r="2.5"/><circle cx="115.4" cy="209.8" r="2.6"/><circle cx="94.4" cy="112.8" r="2.9"/><circle cx="245.6" cy="212.4" r="2.6"/><circle cx="111.6" cy="236.8" r="2.5"/>
<circle cx="87.1" cy="155.2" r="2.5"/><circle cx="59.7" cy="248.8" r="2.7"/><circle cx="169.2" cy="176.7" r="2.7"/><circle cx="254.7" cy="171.9" r="3.0"/><circle cx="130.4" cy="44.7" r="2.8"/><circle cx="227.5" cy="185.5" r="2.9"/><circle cx="106.1" cy="240.7" r="2.9"/><circle cx="88.1" cy="245.6" r="2.5"/></g>
</g>
</g><path d="M67.2,84 L67.8,110 L67.5,142" stroke="#f6cf66" stroke-width="1.5" stroke-opacity="0.45" fill="none" filter="url(#pb)"/><rect x="137.5" y="23" width="116.5" height="123.5" fill="#f0c060" filter="url(#fI)"/>
<g clip-path="url(#ci)" filter="url(#pb2)"></g>
<clipPath id="cr"><rect x="266" y="23" width="246" height="248"/></clipPath>
<g clip-path="url(#cr)"><rect x="209" y="-34" width="360" height="362" fill="#e8922e" filter="url(#fR)" transform="rotate(30 389 147)"/></g>
<circle cx="474.5" cy="39.6" r="1.1" fill="#5a2a10"/><circle cx="473.2" cy="39.3" r="0.8" fill="#fff6d0"/><circle cx="496.8" cy="70.4" r="1.1" fill="#5a2a10"/><circle cx="495.5" cy="70.1" r="0.8" fill="#fff6d0"/><circle cx="398.6" cy="82.2" r="1.1" fill="#5a2a10"/><circle cx="397.3" cy="81.9" r="0.8" fill="#fff6d0"/><circle cx="363.0" cy="129.6" r="1.1" fill="#5a2a10"/><circle cx="361.7" cy="129.3" r="0.8" fill="#fff6d0"/><circle cx="417.7" cy="138.0" r="1.1" fill="#5a2a10"/><circle cx="416.4" cy="137.7" r="0.8" fill="#fff6d0"/><circle cx="403.4" cy="151.0" r="1.1" fill="#5a2a10"/><circle cx="402.1" cy="150.7" r="0.8" fill="#fff6d0"/><circle cx="498.0" cy="191.2" r="1.1" fill="#5a2a10"/><circle cx="496.7" cy="190.9" r="0.8" fill="#fff6d0"/><circle cx="363.0" cy="198.4" r="1.1" fill="#5a2a10"/><circle cx="361.7" cy="198.1" r="0.8" fill="#fff6d0"/><circle cx="368.0" cy="255.0" r="1.1" fill="#5a2a10"/><circle cx="366.7" cy="254.7" r="0.8" fill="#fff6d0"/><circle cx="294.4" cy="255.0" r="1.1" fill="#5a2a10"/><circle cx="293.1" cy="254.7" r="0.8" fill="#fff6d0"/><circle cx="270.7" cy="115.4" r="1.1" fill="#5a2a10"/><circle cx="269.4" cy="115.1" r="0.8" fill="#fff6d0"/><circle cx="440.0" cy="60.0" r="1.1" fill="#5a2a10"/><circle cx="438.7" cy="59.7" r="0.8" fill="#fff6d0"/><circle cx="330.0" cy="175.0" r="1.1" fill="#5a2a10"/><circle cx="328.7" cy="174.7" r="0.8" fill="#fff6d0"/>
<line x1="137.5" y1="23" x2="137.5" y2="147.2" stroke="#111" stroke-width="1.6"/>
<line x1="136.7" y1="146.5" x2="254" y2="146.5" stroke="#111" stroke-width="1.6"/>
<line x1="228" y1="141.9" x2="250.5" y2="141.9" stroke="#111" stroke-width="1.6"/>
<line x1="203" y1="265.4" x2="249.6" y2="265.4" stroke="#111" stroke-width="2"/>
<line x1="444" y1="265.3" x2="506.7" y2="265.3" stroke="#111" stroke-width="2"/>
<text x="3.3" y="16.8" font-size="14.00" text-anchor="start" font-weight="bold">A</text>
<text x="137.6" y="12.8" font-size="12.70" text-anchor="middle" font-weight="normal">LF-anti-LF</text>
<text x="387.0" y="12.8" font-size="12.70" text-anchor="middle" font-weight="normal">LF-anti-LF</text>
<text x="3.9" y="295.2" font-size="14.00" text-anchor="start" font-weight="bold">B</text>
<text x="196.6" y="295.2" font-size="14.00" text-anchor="start" font-weight="bold">D</text>
<text x="2.8" y="463.7" font-size="14.00" text-anchor="start" font-weight="bold">C</text>
<line x1="62" y1="321.7" x2="62" y2="416.3" stroke="#aaa" stroke-width="0.9"/>
<line x1="62" y1="416.3" x2="156" y2="416.3" stroke="#aaa" stroke-width="0.9"/>
<line x1="67.1" y1="416.3" x2="67.1" y2="414.8" stroke="#aaa" stroke-width="0.8"/>
<line x1="81.0" y1="416.3" x2="81.0" y2="414.8" stroke="#aaa" stroke-width="0.8"/>
<line x1="94.9" y1="416.3" x2="94.9" y2="414.8" stroke="#aaa" stroke-width="0.8"/>
<line x1="108.8" y1="416.3" x2="108.8" y2="414.8" stroke="#aaa" stroke-width="0.8"/>
<line x1="122.7" y1="416.3" x2="122.7" y2="414.8" stroke="#aaa" stroke-width="0.8"/>
<line x1="136.6" y1="416.3" x2="136.6" y2="414.8" stroke="#aaa" stroke-width="0.8"/>
<line x1="150.5" y1="416.3" x2="150.5" y2="414.8" stroke="#aaa" stroke-width="0.8"/>
<line x1="62" y1="394.3" x2="63.5" y2="394.3" stroke="#aaa" stroke-width="0.8"/>
<line x1="62" y1="372.1" x2="63.5" y2="372.1" stroke="#aaa" stroke-width="0.8"/>
<line x1="62" y1="349.9" x2="63.5" y2="349.9" stroke="#aaa" stroke-width="0.8"/>
<line x1="62" y1="327.7" x2="63.5" y2="327.7" stroke="#aaa" stroke-width="0.8"/>
<path d="M72.4,416.3 V411.9 H74.6 V398.7 H76.0 V389.9 H77.5 V358.5 H79.0 V354.1 H80.4 V375.3 H81.9 V358.5 H83.8 V336.1 H85.5 V363.6 H87.0 V379.7 H88.0 V367.3 H89.9 V394.3 H91.8 V380.4 H93.6 V398.0 H95.3 V403.8 H96.8 V398.7 H98.3 V403.8 H99.4 V394.3 H100.9 V402.4 H101.9 V416.3 Z" fill="#111"/>
<text x="57.8" y="397.6" font-size="9.40" text-anchor="end" font-weight="normal">5</text>
<text x="57.8" y="375.4" font-size="9.40" text-anchor="end" font-weight="normal">10</text>
<text x="57.8" y="353.2" font-size="9.40" text-anchor="end" font-weight="normal">15</text>
<text x="57.8" y="331.0" font-size="9.40" text-anchor="end" font-weight="normal">20</text>
<text x="67.1" y="427.4" font-size="9.60" text-anchor="middle" font-weight="normal">0</text>
<text x="94.9" y="427.4" font-size="9.60" text-anchor="middle" font-weight="normal">200</text>
<text x="122.7" y="427.4" font-size="9.60" text-anchor="middle" font-weight="normal">400</text>
<text x="150.5" y="427.4" font-size="9.60" text-anchor="middle" font-weight="normal">600</text>
<text x="111.6" y="438.4" font-size="9.70" text-anchor="middle" font-weight="normal">diameter (nm)</text>
<text transform="translate(38.4,372) rotate(-90)" font-size="9.8" text-anchor="middle">Number of particles</text>
<text x="108.9" y="312.1" font-size="12.70" text-anchor="middle" font-weight="normal">LF-anti-LF</text>
<g>
<line x1="248.0" y1="319.8" x2="248.0" y2="410.3" stroke="#ebebeb" stroke-width="0.8"/>
<line x1="253.1" y1="319.8" x2="253.1" y2="410.3" stroke="#ebebeb" stroke-width="0.8"/>
<line x1="256.6" y1="319.8" x2="256.6" y2="410.3" stroke="#ebebeb" stroke-width="0.8"/>
<line x1="259.4" y1="319.8" x2="259.4" y2="410.3" stroke="#ebebeb" stroke-width="0.8"/>
<line x1="261.6" y1="319.8" x2="261.6" y2="410.3" stroke="#ebebeb" stroke-width="0.8"/>
<line x1="263.5" y1="319.8" x2="263.5" y2="410.3" stroke="#ebebeb" stroke-width="0.8"/>
<line x1="265.1" y1="319.8" x2="265.1" y2="410.3" stroke="#ebebeb" stroke-width="0.8"/>
<line x1="266.6" y1="319.8" x2="266.6" y2="410.3" stroke="#ebebeb" stroke-width="0.8"/>
<line x1="267.9" y1="319.8" x2="267.9" y2="410.3" stroke="#ebebeb" stroke-width="0.8"/>
<line x1="276.4" y1="319.8" x2="276.4" y2="410.3" stroke="#ebebeb" stroke-width="0.8"/>
<line x1="281.5" y1="319.8" x2="281.5" y2="410.3" stroke="#ebebeb" stroke-width="0.8"/>
<line x1="285.0" y1="319.8" x2="285.0" y2="410.3" stroke="#ebebeb" stroke-width="0.8"/>
<line x1="287.8" y1="319.8" x2="287.8" y2="410.3" stroke="#ebebeb" stroke-width="0.8"/>
<line x1="290.0" y1="319.8" x2="290.0" y2="410.3" stroke="#ebebeb" stroke-width="0.8"/>
<line x1="291.9" y1="319.8" x2="291.9" y2="410.3" stroke="#ebebeb" stroke-width="0.8"/>
<line x1="293.5" y1="319.8" x2="293.5" y2="410.3" stroke="#ebebeb" stroke-width="0.8"/>
<line x1="295.0" y1="319.8" x2="295.0" y2="410.3" stroke="#ebebeb" stroke-width="0.8"/>
<line x1="296.3" y1="319.8" x2="296.3" y2="410.3" stroke="#ebebeb" stroke-width="0.8"/>
<line x1="304.8" y1="319.8" x2="304.8" y2="410.3" stroke="#ebebeb" stroke-width="0.8"/>
<line x1="309.9" y1="319.8" x2="309.9" y2="410.3" stroke="#ebebeb" stroke-width="0.8"/>
<line x1="313.4" y1="319.8" x2="313.4" y2="410.3" stroke="#ebebeb" stroke-width="0.8"/>
<line x1="316.2" y1="319.8" x2="316.2" y2="410.3" stroke="#ebebeb" stroke-width="0.8"/>
<line x1="318.4" y1="319.8" x2="318.4" y2="410.3" stroke="#ebebeb" stroke-width="0.8"/>
<line x1="320.3" y1="319.8" x2="320.3" y2="410.3" stroke="#ebebeb" stroke-width="0.8"/>
<line x1="321.9" y1="319.8" x2="321.9" y2="410.3" stroke="#ebebeb" stroke-width="0.8"/>
<line x1="323.4" y1="319.8" x2="323.4" y2="410.3" stroke="#ebebeb" stroke-width="0.8"/>
<line x1="324.7" y1="319.8" x2="324.7" y2="410.3" stroke="#ebebeb" stroke-width="0.8"/>
<line x1="333.2" y1="319.8" x2="333.2" y2="410.3" stroke="#ebebeb" stroke-width="0.8"/>
<line x1="239.6" y1="387.7" x2="337.9" y2="387.7" stroke="#dadada" stroke-width="0.9"/>
<line x1="239.6" y1="365.1" x2="337.9" y2="365.1" stroke="#dadada" stroke-width="0.9"/>
<line x1="239.6" y1="342.4" x2="337.9" y2="342.4" stroke="#dadada" stroke-width="0.9"/>
<rect x="239.6" y="319.8" width="98.3" height="90.5" fill="none" stroke="#d0d0d0" stroke-width="0.9"/>
<path d="M239.8,395.0 C240.3,394.2 241.9,391.7 242.9,390.2 C243.9,388.7 245.0,387.1 245.8,386.2 C246.6,385.3 246.9,385.0 247.5,385.0 C248.1,385.0 248.7,385.2 249.3,386.2 C249.9,387.2 250.4,388.9 251.0,390.8 C251.6,392.7 252.1,395.6 252.7,397.7 C253.3,399.8 253.8,401.7 254.5,403.5 C255.2,405.3 256.0,407.6 256.8,408.7 C257.6,409.8 256.1,409.9 259.1,410.2 C262.1,410.5 269.9,410.3 275.0,410.3 C280.1,410.3 286.7,410.4 289.8,410.2 C292.9,410.0 292.9,410.6 293.9,409.4 C294.8,408.2 295.1,406.5 295.5,402.9 C295.9,399.3 296.2,394.2 296.6,387.6 C297.0,381.0 297.5,371.5 297.9,363.4 C298.3,355.3 298.8,345.6 299.2,339.2 C299.6,332.8 299.9,327.6 300.3,324.7 C300.7,321.8 301.1,321.7 301.5,321.8 C301.9,321.9 302.3,322.1 302.7,325.5 C303.1,328.9 303.6,336.1 304.0,342.4 C304.4,348.7 304.8,356.7 305.2,363.4 C305.6,370.1 306.1,377.3 306.5,382.7 C306.9,388.1 307.3,392.1 307.9,395.6 C308.5,399.1 309.1,401.7 310.0,403.7 C310.9,405.7 311.8,406.9 313.2,407.7 C314.6,408.5 316.5,408.6 318.1,408.5 C319.7,408.4 321.3,407.8 322.9,406.9 C324.5,406.0 325.9,405.0 327.7,402.9 C329.4,400.8 331.8,396.9 333.4,394.0 C335.0,391.1 336.9,386.7 337.6,385.2" fill="none" stroke="#111" stroke-width="1.6" stroke-linejoin="round"/>
<line x1="321.8" y1="315.8" x2="313.4" y2="330.4" stroke="#111" stroke-width="1.7"/>
<polygon points="308.8,338.2 311.0,327.9 316.7,331.2" fill="#111"/>
<text x="236.4" y="323.9" font-size="10.70" text-anchor="end" letter-spacing="0.25">0.02</text>
<text x="236.4" y="346.7" font-size="10.70" text-anchor="end" letter-spacing="0.25">0.015</text>
<text x="236.4" y="369.7" font-size="10.70" text-anchor="end" letter-spacing="0.25">0.01</text>
<text x="236.4" y="392.2" font-size="10.70" text-anchor="end" letter-spacing="0.25">0.005</text>
<text x="239.3" y="421.9" font-size="8.90" text-anchor="middle" font-weight="normal">1</text>
<text x="267.3" y="421.9" font-size="8.90" text-anchor="middle" font-weight="normal">10</text>
<text x="295.6" y="421.9" font-size="8.90" text-anchor="middle" font-weight="normal">100</text>
<text x="324.9" y="421.9" font-size="8.90" text-anchor="middle" font-weight="normal">1,000</text>
<text x="290.9" y="434.4" font-size="10.60" text-anchor="middle" font-weight="normal" textLength="54.4" lengthAdjust="spacing">radius (nm)</text>
<text transform="translate(206.8,362.0) rotate(-90)" font-size="9.4" text-anchor="middle">a(r<tspan font-size="6.6" dy="2">h</tspan><tspan dy="-2">)</tspan></text>
<text x="292.1" y="309.4" font-size="12.30" text-anchor="middle" font-weight="normal" textLength="85.4" lengthAdjust="spacing">RA SF IgG ICs</text>
</g>
<g>
<line x1="417.2" y1="319.8" x2="417.2" y2="410.2" stroke="#ebebeb" stroke-width="0.8"/>
<line x1="422.4" y1="319.8" x2="422.4" y2="410.2" stroke="#ebebeb" stroke-width="0.8"/>
<line x1="426.0" y1="319.8" x2="426.0" y2="410.2" stroke="#ebebeb" stroke-width="0.8"/>
<line x1="428.9" y1="319.8" x2="428.9" y2="410.2" stroke="#ebebeb" stroke-width="0.8"/>
<line x1="431.2" y1="319.8" x2="431.2" y2="410.2" stroke="#ebebeb" stroke-width="0.8"/>
<line x1="433.2" y1="319.8" x2="433.2" y2="410.2" stroke="#ebebeb" stroke-width="0.8"/>
<line x1="434.9" y1="319.8" x2="434.9" y2="410.2" stroke="#ebebeb" stroke-width="0.8"/>
<line x1="436.4" y1="319.8" x2="436.4" y2="410.2" stroke="#ebebeb" stroke-width="0.8"/>
<line x1="437.7" y1="319.8" x2="437.7" y2="410.2" stroke="#ebebeb" stroke-width="0.8"/>
<line x1="446.5" y1="319.8" x2="446.5" y2="410.2" stroke="#ebebeb" stroke-width="0.8"/>
<line x1="451.7" y1="319.8" x2="451.7" y2="410.2" stroke="#ebebeb" stroke-width="0.8"/>
<line x1="455.3" y1="319.8" x2="455.3" y2="410.2" stroke="#ebebeb" stroke-width="0.8"/>
<line x1="458.2" y1="319.8" x2="458.2" y2="410.2" stroke="#ebebeb" stroke-width="0.8"/>
<line x1="460.5" y1="319.8" x2="460.5" y2="410.2" stroke="#ebebeb" stroke-width="0.8"/>
<line x1="462.5" y1="319.8" x2="462.5" y2="410.2" stroke="#ebebeb" stroke-width="0.8"/>
<line x1="464.2" y1="319.8" x2="464.2" y2="410.2" stroke="#ebebeb" stroke-width="0.8"/>
<line x1="465.7" y1="319.8" x2="465.7" y2="410.2" stroke="#ebebeb" stroke-width="0.8"/>
<line x1="467.0" y1="319.8" x2="467.0" y2="410.2" stroke="#ebebeb" stroke-width="0.8"/>
<line x1="475.8" y1="319.8" x2="475.8" y2="410.2" stroke="#ebebeb" stroke-width="0.8"/>
<line x1="481.0" y1="319.8" x2="481.0" y2="410.2" stroke="#ebebeb" stroke-width="0.8"/>
<line x1="484.6" y1="319.8" x2="484.6" y2="410.2" stroke="#ebebeb" stroke-width="0.8"/>
<line x1="487.5" y1="319.8" x2="487.5" y2="410.2" stroke="#ebebeb" stroke-width="0.8"/>
<line x1="489.8" y1="319.8" x2="489.8" y2="410.2" stroke="#ebebeb" stroke-width="0.8"/>
<line x1="491.8" y1="319.8" x2="491.8" y2="410.2" stroke="#ebebeb" stroke-width="0.8"/>
<line x1="493.5" y1="319.8" x2="493.5" y2="410.2" stroke="#ebebeb" stroke-width="0.8"/>
<line x1="495.0" y1="319.8" x2="495.0" y2="410.2" stroke="#ebebeb" stroke-width="0.8"/>
<line x1="496.3" y1="319.8" x2="496.3" y2="410.2" stroke="#ebebeb" stroke-width="0.8"/>
<line x1="505.1" y1="319.8" x2="505.1" y2="410.2" stroke="#ebebeb" stroke-width="0.8"/>
<line x1="510.3" y1="319.8" x2="510.3" y2="410.2" stroke="#ebebeb" stroke-width="0.8"/>
<line x1="408.0" y1="387.6" x2="512.3" y2="387.6" stroke="#dadada" stroke-width="0.9"/>
<line x1="408.0" y1="365.0" x2="512.3" y2="365.0" stroke="#dadada" stroke-width="0.9"/>
<line x1="408.0" y1="342.4" x2="512.3" y2="342.4" stroke="#dadada" stroke-width="0.9"/>
<rect x="408.0" y="319.8" width="104.3" height="90.4" fill="none" stroke="#d0d0d0" stroke-width="0.9"/>
<path d="M408.3,410.3 C409.9,410.3 415.2,410.5 417.7,410.3 C420.1,410.1 421.6,409.9 423.0,409.2 C424.4,408.5 425.2,407.4 426.2,406.1 C427.1,404.8 427.9,402.3 428.7,401.2 C429.5,400.1 430.0,399.2 430.8,399.3 C431.6,399.4 432.6,401.0 433.6,401.8 C434.6,402.6 435.6,403.9 436.7,404.2 C437.8,404.4 438.7,403.8 439.9,403.3 C441.1,402.8 442.9,401.7 444.1,401.2 C445.3,400.7 446.2,400.1 447.3,400.3 C448.4,400.5 449.1,401.4 450.5,402.5 C451.9,403.6 454.0,405.9 455.8,406.7 C457.6,407.5 459.5,407.8 461.1,407.5 C462.7,407.2 464.1,407.0 465.3,405.0 C466.5,403.0 467.4,398.9 468.5,395.5 C469.6,392.1 470.6,387.2 471.6,384.9 C472.6,382.6 473.5,381.7 474.4,381.7 C475.3,381.7 475.9,382.2 476.9,384.9 C477.8,387.5 479.0,394.2 480.1,397.6 C481.2,401.0 482.1,403.4 483.3,405.0 C484.5,406.6 485.7,406.8 487.5,407.1 C489.3,407.5 491.6,407.4 493.9,407.1 C496.2,406.8 499.2,405.6 501.3,405.4 C503.4,405.2 504.8,405.6 506.5,406.1 C508.2,406.6 510.9,407.9 511.8,408.2" fill="none" stroke="#111" stroke-width="1.6" stroke-linejoin="round"/>
<line x1="489.6" y1="360.2" x2="482.3" y2="372.5" stroke="#111" stroke-width="1.7"/>
<polygon points="477.6,380.2 479.9,369.9 485.6,373.3" fill="#111"/>
<text x="401.4" y="326.3" font-size="10.70" text-anchor="end" letter-spacing="0.60">0.02</text>
<text x="401.4" y="348.1" font-size="10.70" text-anchor="end" letter-spacing="0.60">0.015</text>
<text x="401.4" y="370.4" font-size="10.70" text-anchor="end" letter-spacing="0.60">0.01</text>
<text x="401.4" y="393.6" font-size="10.70" text-anchor="end" letter-spacing="0.60">0.005</text>
<text x="409.0" y="422.7" font-size="8.90" text-anchor="middle" font-weight="normal">1</text>
<text x="438.4" y="422.7" font-size="8.90" text-anchor="middle" font-weight="normal">10</text>
<text x="467.5" y="422.7" font-size="8.90" text-anchor="middle" font-weight="normal">100</text>
<text x="497.0" y="422.7" font-size="8.90" text-anchor="middle" font-weight="normal">1,000</text>
<text x="454.4" y="433.4" font-size="10.80" text-anchor="middle" font-weight="normal" textLength="57.4" lengthAdjust="spacing">radius (nm)</text>
<text transform="translate(371.9,362.2) rotate(-90)" font-size="9.4" text-anchor="middle">a(r<tspan font-size="6.6" dy="2">h</tspan><tspan dy="-2">)</tspan></text>
<text x="461.0" y="311.6" font-size="12.30" text-anchor="middle" font-weight="normal" textLength="89.0" lengthAdjust="spacing">RA SF IgM ICs</text>
</g>
<g>
<line x1="72.8" y1="482.1" x2="72.8" y2="573.8" stroke="#ebebeb" stroke-width="0.8"/>
<line x1="77.9" y1="482.1" x2="77.9" y2="573.8" stroke="#ebebeb" stroke-width="0.8"/>
<line x1="81.6" y1="482.1" x2="81.6" y2="573.8" stroke="#ebebeb" stroke-width="0.8"/>
<line x1="84.4" y1="482.1" x2="84.4" y2="573.8" stroke="#ebebeb" stroke-width="0.8"/>
<line x1="86.7" y1="482.1" x2="86.7" y2="573.8" stroke="#ebebeb" stroke-width="0.8"/>
<line x1="88.7" y1="482.1" x2="88.7" y2="573.8" stroke="#ebebeb" stroke-width="0.8"/>
<line x1="90.4" y1="482.1" x2="90.4" y2="573.8" stroke="#ebebeb" stroke-width="0.8"/>
<line x1="91.9" y1="482.1" x2="91.9" y2="573.8" stroke="#ebebeb" stroke-width="0.8"/>
<line x1="93.2" y1="482.1" x2="93.2" y2="573.8" stroke="#ebebeb" stroke-width="0.8"/>
<line x1="102.0" y1="482.1" x2="102.0" y2="573.8" stroke="#ebebeb" stroke-width="0.8"/>
<line x1="107.1" y1="482.1" x2="107.1" y2="573.8" stroke="#ebebeb" stroke-width="0.8"/>
<line x1="110.8" y1="482.1" x2="110.8" y2="573.8" stroke="#ebebeb" stroke-width="0.8"/>
<line x1="113.6" y1="482.1" x2="113.6" y2="573.8" stroke="#ebebeb" stroke-width="0.8"/>
<line x1="115.9" y1="482.1" x2="115.9" y2="573.8" stroke="#ebebeb" stroke-width="0.8"/>
<line x1="117.9" y1="482.1" x2="117.9" y2="573.8" stroke="#ebebeb" stroke-width="0.8"/>
<line x1="119.6" y1="482.1" x2="119.6" y2="573.8" stroke="#ebebeb" stroke-width="0.8"/>
<line x1="121.1" y1="482.1" x2="121.1" y2="573.8" stroke="#ebebeb" stroke-width="0.8"/>
<line x1="122.4" y1="482.1" x2="122.4" y2="573.8" stroke="#ebebeb" stroke-width="0.8"/>
<line x1="131.2" y1="482.1" x2="131.2" y2="573.8" stroke="#ebebeb" stroke-width="0.8"/>
<line x1="136.3" y1="482.1" x2="136.3" y2="573.8" stroke="#ebebeb" stroke-width="0.8"/>
<line x1="140.0" y1="482.1" x2="140.0" y2="573.8" stroke="#ebebeb" stroke-width="0.8"/>
<line x1="142.8" y1="482.1" x2="142.8" y2="573.8" stroke="#ebebeb" stroke-width="0.8"/>
<line x1="145.1" y1="482.1" x2="145.1" y2="573.8" stroke="#ebebeb" stroke-width="0.8"/>
<line x1="147.1" y1="482.1" x2="147.1" y2="573.8" stroke="#ebebeb" stroke-width="0.8"/>
<line x1="148.8" y1="482.1" x2="148.8" y2="573.8" stroke="#ebebeb" stroke-width="0.8"/>
<line x1="150.3" y1="482.1" x2="150.3" y2="573.8" stroke="#ebebeb" stroke-width="0.8"/>
<line x1="151.6" y1="482.1" x2="151.6" y2="573.8" stroke="#ebebeb" stroke-width="0.8"/>
<line x1="160.4" y1="482.1" x2="160.4" y2="573.8" stroke="#ebebeb" stroke-width="0.8"/>
<line x1="63.8" y1="550.9" x2="165.3" y2="550.9" stroke="#dadada" stroke-width="0.9"/>
<line x1="63.8" y1="528.0" x2="165.3" y2="528.0" stroke="#dadada" stroke-width="0.9"/>
<line x1="63.8" y1="505.0" x2="165.3" y2="505.0" stroke="#dadada" stroke-width="0.9"/>
<rect x="63.8" y="482.1" width="101.5" height="91.7" fill="none" stroke="#d0d0d0" stroke-width="0.9"/>
<path d="M64.2,573.8 C65.6,573.7 70.4,574.0 72.7,573.4 C75.0,572.8 76.6,571.8 78.0,570.2 C79.4,568.6 80.2,566.1 81.2,563.8 C82.2,561.5 83.3,558.0 84.3,556.4 C85.3,554.8 86.2,553.9 87.1,553.9 C88.0,553.9 88.6,554.6 89.6,556.4 C90.5,558.2 91.7,562.4 92.8,564.9 C93.9,567.4 94.8,569.9 96.0,571.3 C97.2,572.7 97.7,573.0 100.2,573.4 C102.7,573.8 108.3,574.1 110.8,573.8 C113.3,573.4 113.9,572.5 115.0,571.3 C116.1,570.1 116.7,567.6 117.5,566.4 C118.3,565.2 119.0,564.2 119.7,564.3 C120.4,564.4 121.0,565.7 121.8,567.0 C122.6,568.3 123.3,570.8 124.5,571.9 C125.7,573.0 125.5,573.5 128.8,573.8 C132.2,574.1 141.4,574.6 144.6,573.8 C147.8,573.0 146.9,572.5 147.8,569.1 C148.7,565.7 149.2,557.6 149.9,553.3 C150.6,549.0 151.3,543.1 152.0,543.1 C152.7,543.1 153.4,549.1 154.1,553.3 C154.8,557.5 155.4,564.8 156.3,568.1 C157.2,571.5 158.0,572.5 159.4,573.4 C160.8,574.3 164.1,573.7 165.0,573.8" fill="none" stroke="#111" stroke-width="1.6" stroke-linejoin="round"/>
<line x1="133.0" y1="538.9" x2="124.5" y2="553.5" stroke="#111" stroke-width="1.7"/>
<polygon points="119.9,561.3 122.1,551.0 127.8,554.3" fill="#111"/>
<text x="60.6" y="485.8" font-size="10.70" text-anchor="end" letter-spacing="0.40">0.02</text>
<text x="60.6" y="508.7" font-size="10.70" text-anchor="end" letter-spacing="0.40">0.015</text>
<text x="60.6" y="531.3" font-size="10.70" text-anchor="end" letter-spacing="0.40">0.01</text>
<text x="60.6" y="555.1" font-size="10.70" text-anchor="end" letter-spacing="0.40">0.005</text>
<text x="64.4" y="584.6" font-size="9.10" text-anchor="middle" font-weight="normal">1</text>
<text x="93.4" y="584.6" font-size="9.10" text-anchor="middle" font-weight="normal">10</text>
<text x="122.0" y="584.6" font-size="9.10" text-anchor="middle" font-weight="normal">100</text>
<text x="152.1" y="584.6" font-size="9.10" text-anchor="middle" font-weight="normal">1,000</text>
<text x="112.3" y="597.7" font-size="10.80" text-anchor="middle" font-weight="normal" textLength="56.6" lengthAdjust="spacing">radius (nm)</text>
<text transform="translate(25.4,523.5) rotate(-90)" font-size="9.4" text-anchor="middle">a(r<tspan font-size="6.6" dy="2">h</tspan><tspan dy="-2">)</tspan></text>
<text x="113.0" y="469.7" font-size="12.30" text-anchor="middle" font-weight="normal" textLength="60.1" lengthAdjust="spacing">LF-anti-LF</text>
</g>
<g>
<line x1="253.1" y1="481.0" x2="253.1" y2="571.8" stroke="#ebebeb" stroke-width="0.8"/>
<line x1="258.2" y1="481.0" x2="258.2" y2="571.8" stroke="#ebebeb" stroke-width="0.8"/>
<line x1="261.8" y1="481.0" x2="261.8" y2="571.8" stroke="#ebebeb" stroke-width="0.8"/>
<line x1="264.6" y1="481.0" x2="264.6" y2="571.8" stroke="#ebebeb" stroke-width="0.8"/>
<line x1="266.9" y1="481.0" x2="266.9" y2="571.8" stroke="#ebebeb" stroke-width="0.8"/>
<line x1="268.8" y1="481.0" x2="268.8" y2="571.8" stroke="#ebebeb" stroke-width="0.8"/>
<line x1="270.5" y1="481.0" x2="270.5" y2="571.8" stroke="#ebebeb" stroke-width="0.8"/>
<line x1="272.0" y1="481.0" x2="272.0" y2="571.8" stroke="#ebebeb" stroke-width="0.8"/>
<line x1="273.3" y1="481.0" x2="273.3" y2="571.8" stroke="#ebebeb" stroke-width="0.8"/>
<line x1="282.0" y1="481.0" x2="282.0" y2="571.8" stroke="#ebebeb" stroke-width="0.8"/>
<line x1="287.1" y1="481.0" x2="287.1" y2="571.8" stroke="#ebebeb" stroke-width="0.8"/>
<line x1="290.7" y1="481.0" x2="290.7" y2="571.8" stroke="#ebebeb" stroke-width="0.8"/>
<line x1="293.5" y1="481.0" x2="293.5" y2="571.8" stroke="#ebebeb" stroke-width="0.8"/>
<line x1="295.8" y1="481.0" x2="295.8" y2="571.8" stroke="#ebebeb" stroke-width="0.8"/>
<line x1="297.7" y1="481.0" x2="297.7" y2="571.8" stroke="#ebebeb" stroke-width="0.8"/>
<line x1="299.4" y1="481.0" x2="299.4" y2="571.8" stroke="#ebebeb" stroke-width="0.8"/>
<line x1="300.9" y1="481.0" x2="300.9" y2="571.8" stroke="#ebebeb" stroke-width="0.8"/>
<line x1="302.2" y1="481.0" x2="302.2" y2="571.8" stroke="#ebebeb" stroke-width="0.8"/>
<line x1="310.9" y1="481.0" x2="310.9" y2="571.8" stroke="#ebebeb" stroke-width="0.8"/>
<line x1="316.0" y1="481.0" x2="316.0" y2="571.8" stroke="#ebebeb" stroke-width="0.8"/>
<line x1="319.6" y1="481.0" x2="319.6" y2="571.8" stroke="#ebebeb" stroke-width="0.8"/>
<line x1="322.4" y1="481.0" x2="322.4" y2="571.8" stroke="#ebebeb" stroke-width="0.8"/>
<line x1="324.7" y1="481.0" x2="324.7" y2="571.8" stroke="#ebebeb" stroke-width="0.8"/>
<line x1="326.6" y1="481.0" x2="326.6" y2="571.8" stroke="#ebebeb" stroke-width="0.8"/>
<line x1="328.3" y1="481.0" x2="328.3" y2="571.8" stroke="#ebebeb" stroke-width="0.8"/>
<line x1="329.8" y1="481.0" x2="329.8" y2="571.8" stroke="#ebebeb" stroke-width="0.8"/>
<line x1="331.1" y1="481.0" x2="331.1" y2="571.8" stroke="#ebebeb" stroke-width="0.8"/>
<line x1="339.8" y1="481.0" x2="339.8" y2="571.8" stroke="#ebebeb" stroke-width="0.8"/>
<line x1="244.4" y1="549.1" x2="345.0" y2="549.1" stroke="#dadada" stroke-width="0.9"/>
<line x1="244.4" y1="526.4" x2="345.0" y2="526.4" stroke="#dadada" stroke-width="0.9"/>
<line x1="244.4" y1="503.7" x2="345.0" y2="503.7" stroke="#dadada" stroke-width="0.9"/>
<rect x="244.4" y="481.0" width="100.6" height="90.8" fill="none" stroke="#d0d0d0" stroke-width="0.9"/>
<path d="M243.8,571.3 C244.4,571.1 246.1,571.6 247.4,570.2 C248.7,568.8 250.4,565.3 251.6,562.8 C252.8,560.3 253.9,556.9 254.8,555.0 C255.8,553.1 256.4,551.9 257.3,551.6 C258.2,551.3 258.9,552.0 260.1,553.3 C261.3,554.6 262.7,557.7 264.3,559.6 C265.9,561.5 267.7,563.5 269.6,564.9 C271.6,566.3 273.9,567.3 276.0,568.1 C278.1,568.9 280.2,569.4 282.3,569.6 C284.4,569.8 286.8,569.6 288.7,569.1 C290.6,568.6 292.3,567.5 293.9,566.4 C295.5,565.3 297.0,563.6 298.2,562.8 C299.4,561.9 300.2,561.2 301.3,561.3 C302.4,561.4 303.2,562.4 304.5,563.4 C305.8,564.4 307.2,566.0 308.8,567.0 C310.4,568.0 312.1,568.9 314.0,569.1 C315.9,569.3 318.3,569.2 320.4,568.1 C322.5,567.0 324.9,564.3 326.7,562.8 C328.5,561.3 330.0,559.5 331.4,559.2 C332.8,559.0 333.9,560.2 335.2,561.3 C336.5,562.4 337.8,564.6 339.4,566.0 C341.0,567.4 343.8,569.2 344.7,569.8" fill="none" stroke="#111" stroke-width="1.6" stroke-linejoin="round"/>
<line x1="316.6" y1="537.4" x2="308.5" y2="552.3" stroke="#111" stroke-width="1.7"/>
<polygon points="304.2,560.2 306.1,549.9 311.8,553.0" fill="#111"/>
<text x="241.0" y="485.9" font-size="10.70" text-anchor="end" letter-spacing="0.40">0.02</text>
<text x="241.0" y="508.7" font-size="10.70" text-anchor="end" letter-spacing="0.40">0.015</text>
<text x="241.0" y="530.8" font-size="10.70" text-anchor="end" letter-spacing="0.40">0.01</text>
<text x="241.0" y="553.8" font-size="10.70" text-anchor="end" letter-spacing="0.40">0.005</text>
<text x="244.5" y="582.6" font-size="9.10" text-anchor="middle" font-weight="normal">1</text>
<text x="273.0" y="582.6" font-size="9.10" text-anchor="middle" font-weight="normal">10</text>
<text x="301.5" y="582.6" font-size="9.10" text-anchor="middle" font-weight="normal">100</text>
<text x="330.0" y="582.6" font-size="9.10" text-anchor="middle" font-weight="normal">1,000</text>
<text x="296.8" y="594.8" font-size="10.80" text-anchor="middle" font-weight="normal" textLength="56.5" lengthAdjust="spacing">radius (nm)</text>
<text transform="translate(207.9,522.5) rotate(-90)" font-size="9.4" text-anchor="middle">a(r<tspan font-size="6.6" dy="2">h</tspan><tspan dy="-2">)</tspan></text>
<text x="297.4" y="470.3" font-size="12.30" text-anchor="middle" font-weight="normal" textLength="81.4" lengthAdjust="spacing">OVA-anti-OVA</text>
</g>
<g>
<line x1="422.0" y1="480.6" x2="422.0" y2="571.6" stroke="#ebebeb" stroke-width="0.8"/>
<line x1="427.2" y1="480.6" x2="427.2" y2="571.6" stroke="#ebebeb" stroke-width="0.8"/>
<line x1="430.8" y1="480.6" x2="430.8" y2="571.6" stroke="#ebebeb" stroke-width="0.8"/>
<line x1="433.7" y1="480.6" x2="433.7" y2="571.6" stroke="#ebebeb" stroke-width="0.8"/>
<line x1="436.0" y1="480.6" x2="436.0" y2="571.6" stroke="#ebebeb" stroke-width="0.8"/>
<line x1="438.0" y1="480.6" x2="438.0" y2="571.6" stroke="#ebebeb" stroke-width="0.8"/>
<line x1="439.7" y1="480.6" x2="439.7" y2="571.6" stroke="#ebebeb" stroke-width="0.8"/>
<line x1="441.2" y1="480.6" x2="441.2" y2="571.6" stroke="#ebebeb" stroke-width="0.8"/>
<line x1="442.5" y1="480.6" x2="442.5" y2="571.6" stroke="#ebebeb" stroke-width="0.8"/>
<line x1="451.3" y1="480.6" x2="451.3" y2="571.6" stroke="#ebebeb" stroke-width="0.8"/>
<line x1="456.5" y1="480.6" x2="456.5" y2="571.6" stroke="#ebebeb" stroke-width="0.8"/>
<line x1="460.1" y1="480.6" x2="460.1" y2="571.6" stroke="#ebebeb" stroke-width="0.8"/>
<line x1="463.0" y1="480.6" x2="463.0" y2="571.6" stroke="#ebebeb" stroke-width="0.8"/>
<line x1="465.3" y1="480.6" x2="465.3" y2="571.6" stroke="#ebebeb" stroke-width="0.8"/>
<line x1="467.3" y1="480.6" x2="467.3" y2="571.6" stroke="#ebebeb" stroke-width="0.8"/>
<line x1="469.0" y1="480.6" x2="469.0" y2="571.6" stroke="#ebebeb" stroke-width="0.8"/>
<line x1="470.5" y1="480.6" x2="470.5" y2="571.6" stroke="#ebebeb" stroke-width="0.8"/>
<line x1="471.8" y1="480.6" x2="471.8" y2="571.6" stroke="#ebebeb" stroke-width="0.8"/>
<line x1="480.6" y1="480.6" x2="480.6" y2="571.6" stroke="#ebebeb" stroke-width="0.8"/>
<line x1="485.8" y1="480.6" x2="485.8" y2="571.6" stroke="#ebebeb" stroke-width="0.8"/>
<line x1="489.4" y1="480.6" x2="489.4" y2="571.6" stroke="#ebebeb" stroke-width="0.8"/>
<line x1="492.3" y1="480.6" x2="492.3" y2="571.6" stroke="#ebebeb" stroke-width="0.8"/>
<line x1="494.6" y1="480.6" x2="494.6" y2="571.6" stroke="#ebebeb" stroke-width="0.8"/>
<line x1="496.6" y1="480.6" x2="496.6" y2="571.6" stroke="#ebebeb" stroke-width="0.8"/>
<line x1="498.3" y1="480.6" x2="498.3" y2="571.6" stroke="#ebebeb" stroke-width="0.8"/>
<line x1="499.8" y1="480.6" x2="499.8" y2="571.6" stroke="#ebebeb" stroke-width="0.8"/>
<line x1="501.1" y1="480.6" x2="501.1" y2="571.6" stroke="#ebebeb" stroke-width="0.8"/>
<line x1="509.9" y1="480.6" x2="509.9" y2="571.6" stroke="#ebebeb" stroke-width="0.8"/>
<line x1="413.1" y1="548.9" x2="515.5" y2="548.9" stroke="#dadada" stroke-width="0.9"/>
<line x1="413.1" y1="526.1" x2="515.5" y2="526.1" stroke="#dadada" stroke-width="0.9"/>
<line x1="413.1" y1="503.4" x2="515.5" y2="503.4" stroke="#dadada" stroke-width="0.9"/>
<rect x="413.1" y="480.6" width="102.4" height="91.0" fill="none" stroke="#d0d0d0" stroke-width="0.9"/>
<path d="M413.2,571.2 C415.0,571.2 421.3,571.6 423.8,571.2 C426.3,570.8 426.8,569.7 428.0,568.6 C429.2,567.5 430.2,565.7 431.2,564.8 C432.1,563.9 432.8,563.2 433.7,563.1 C434.6,563.0 435.2,563.6 436.4,564.4 C437.6,565.2 439.3,567.2 440.7,568.0 C442.1,568.8 443.6,569.0 444.9,569.0 C446.1,569.0 447.2,568.8 448.2,568.3 C449.1,567.8 449.9,567.0 450.6,566.3 C451.3,565.6 451.8,565.4 452.5,563.9 C453.2,562.4 454.2,559.8 455.0,557.3 C455.8,554.8 456.5,551.7 457.1,548.9 C457.7,546.1 458.2,543.1 458.7,540.6 C459.2,538.1 459.6,535.9 460.0,534.0 C460.4,532.1 460.9,530.3 461.2,529.4 C461.5,528.5 461.6,528.5 462.0,528.6 C462.4,528.7 462.9,528.9 463.3,529.8 C463.7,530.7 464.0,531.9 464.5,534.0 C465.0,536.1 465.6,539.5 466.2,542.3 C466.8,545.1 467.3,547.8 467.9,550.6 C468.5,553.4 469.1,556.4 469.9,558.9 C470.6,561.4 471.4,563.7 472.4,565.6 C473.4,567.5 474.6,569.2 475.8,570.1 C477.1,571.0 473.3,571.1 479.9,571.3 C486.5,571.5 509.4,571.3 515.3,571.3" fill="none" stroke="#111" stroke-width="1.6" stroke-linejoin="round"/>
<line x1="477.3" y1="504.5" x2="469.5" y2="518.5" stroke="#111" stroke-width="1.7"/>
<polygon points="465.1,526.3 467.1,516.0 472.8,519.2" fill="#111"/>
<text x="410.2" y="485.3" font-size="10.70" text-anchor="end" letter-spacing="0.35">0.02</text>
<text x="410.2" y="507.8" font-size="10.70" text-anchor="end" letter-spacing="0.35">0.015</text>
<text x="410.2" y="530.1" font-size="10.70" text-anchor="end" letter-spacing="0.35">0.01</text>
<text x="410.2" y="553.2" font-size="10.70" text-anchor="end" letter-spacing="0.35">0.005</text>
<text x="413.6" y="582.6" font-size="9.10" text-anchor="middle" font-weight="normal">1</text>
<text x="441.6" y="582.6" font-size="9.10" text-anchor="middle" font-weight="normal">10</text>
<text x="470.9" y="582.6" font-size="9.10" text-anchor="middle" font-weight="normal">100</text>
<text x="500.2" y="582.6" font-size="9.10" text-anchor="middle" font-weight="normal">1,000</text>
<text x="463.0" y="594.5" font-size="10.80" text-anchor="middle" font-weight="normal" textLength="57.5" lengthAdjust="spacing">radius (nm)</text>
<text transform="translate(382.0,522.2) rotate(-90)" font-size="9.4" text-anchor="middle">a(r<tspan font-size="6.6" dy="2">h</tspan><tspan dy="-2">)</tspan></text>
<text x="466.5" y="470.3" font-size="12.30" text-anchor="middle" font-weight="normal" textLength="72.2" lengthAdjust="spacing">IgM-anti-IgM</text>
</g>
</svg>
</body></html>
